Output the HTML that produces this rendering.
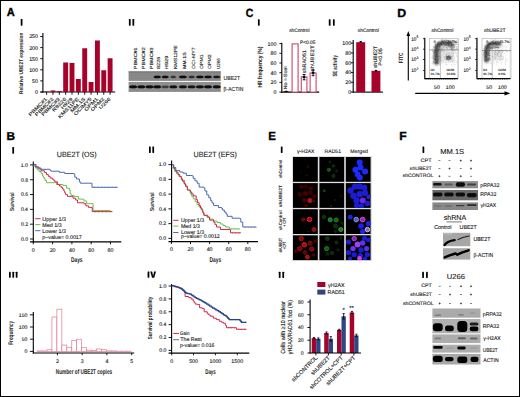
<!DOCTYPE html>
<html><head><meta charset="utf-8"><style>
html,body{margin:0;padding:0;background:#fff;}
svg{display:block;}
text{font-family:"Liberation Sans", sans-serif;text-rendering:geometricPrecision;} text:not([font-weight=bold]){stroke:#222;stroke-width:0.12px;}
</style></head><body>
<svg width="520" height="397" viewBox="0 0 520 397">
<defs><filter id="bl" x="-50%" y="-50%" width="200%" height="200%"><feGaussianBlur stdDeviation="0.6"/></filter><filter id="bl3" x="-50%" y="-50%" width="200%" height="200%"><feGaussianBlur stdDeviation="0.45"/></filter><filter id="bl4" x="-50%" y="-50%" width="200%" height="200%"><feGaussianBlur stdDeviation="0.55"/></filter><filter id="bl5" x="-50%" y="-50%" width="200%" height="200%"><feGaussianBlur stdDeviation="0.9"/></filter><filter id="bl2" x="-50%" y="-50%" width="200%" height="200%"><feGaussianBlur stdDeviation="0.35"/></filter></defs>
<rect x="0.5" y="0.5" width="519" height="396" fill="none" stroke="#000" stroke-width="1"/>
<text x="6.82" y="16.30" font-size="11.59" font-weight="bold" fill="#000" textLength="7.98" lengthAdjust="spacingAndGlyphs" stroke="#000" stroke-width="0.35" >A</text>
<text x="6.43" y="140.00" font-size="11.45" font-weight="bold" fill="#000" textLength="8.52" lengthAdjust="spacingAndGlyphs" stroke="#000" stroke-width="0.35" >B</text>
<text x="245.68" y="16.60" font-size="11.88" font-weight="bold" fill="#000" textLength="7.61" lengthAdjust="spacingAndGlyphs" stroke="#000" stroke-width="0.35" >C</text>
<text x="397.30" y="16.50" font-size="11.74" font-weight="bold" fill="#000" textLength="8.92" lengthAdjust="spacingAndGlyphs" stroke="#000" stroke-width="0.35" >D</text>
<text x="268.35" y="140.00" font-size="11.59" font-weight="bold" fill="#000" textLength="7.67" lengthAdjust="spacingAndGlyphs" stroke="#000" stroke-width="0.35" >E</text>
<text x="399.21" y="139.60" font-size="11.59" font-weight="bold" fill="#000" textLength="7.43" lengthAdjust="spacingAndGlyphs" stroke="#000" stroke-width="0.35" >F</text>
<rect x="20.73" y="19" width="1.75" height="6.8" fill="#000" rx="0.45"/>
<rect x="128.9" y="19.1" width="1.75" height="6.7" fill="#000" rx="0.45"/>
<rect x="132.45" y="19.1" width="1.75" height="6.7" fill="#000" rx="0.45"/>
<rect x="257.92" y="19.3" width="1.75" height="6.4" fill="#000" rx="0.45"/>
<rect x="328.8" y="19.3" width="1.75" height="6.4" fill="#000" rx="0.45"/>
<rect x="332.95" y="19.3" width="1.75" height="6.4" fill="#000" rx="0.45"/>
<rect x="12.32" y="147.1" width="1.75" height="6.7" fill="#000" rx="0.45"/>
<rect x="149.0" y="146.4" width="1.75" height="6.5" fill="#000" rx="0.45"/>
<rect x="152.35" y="146.4" width="1.75" height="6.5" fill="#000" rx="0.45"/>
<rect x="9.0" y="271.7" width="1.75" height="6.0" fill="#000" rx="0.45"/>
<rect x="12.38" y="271.7" width="1.75" height="6.0" fill="#000" rx="0.45"/>
<rect x="15.75" y="271.7" width="1.75" height="6.0" fill="#000" rx="0.45"/>
<rect x="147.6" y="271.4" width="1.75" height="6.300000000000011" fill="#000" rx="0.4"/>
<path d="M150.25,271.4 L152.15,271.4 L153.125,275.9 L154.1,271.4 L156,271.4 L154.225,277.7 L152.025,277.7 Z" fill="#000"/>
<rect x="280.83" y="146.6" width="1.75" height="6.3" fill="#000" rx="0.45"/>
<rect x="278.8" y="271.7" width="1.75" height="6.2" fill="#000" rx="0.45"/>
<rect x="282.35" y="271.7" width="1.75" height="6.2" fill="#000" rx="0.45"/>
<rect x="422.52" y="146.6" width="1.75" height="6.3" fill="#000" rx="0.45"/>
<rect x="422.2" y="271.7" width="1.75" height="6.2" fill="#000" rx="0.45"/>
<rect x="426.05" y="271.7" width="1.75" height="6.2" fill="#000" rx="0.45"/>
<line x1="42.9" y1="33" x2="42.9" y2="92.5" stroke="#000" stroke-width="1.1" />
<line x1="40.6" y1="92" x2="115.2" y2="92" stroke="#000" stroke-width="1.1" />
<line x1="40.2" y1="92.0" x2="42.9" y2="92.0" stroke="#000" stroke-width="0.9" />
<text x="38" y="93.9" font-size="5.3" text-anchor="end" font-weight="normal" fill="#222" >0</text>
<line x1="40.2" y1="80.9" x2="42.9" y2="80.9" stroke="#000" stroke-width="0.9" />
<text x="38" y="82.80000000000001" font-size="5.3" text-anchor="end" font-weight="normal" fill="#222" >50</text>
<line x1="40.2" y1="69.8" x2="42.9" y2="69.8" stroke="#000" stroke-width="0.9" />
<text x="38" y="71.7" font-size="5.3" text-anchor="end" font-weight="normal" fill="#222" >100</text>
<line x1="40.2" y1="58.7" x2="42.9" y2="58.7" stroke="#000" stroke-width="0.9" />
<text x="38" y="60.6" font-size="5.3" text-anchor="end" font-weight="normal" fill="#222" >150</text>
<line x1="40.2" y1="47.6" x2="42.9" y2="47.6" stroke="#000" stroke-width="0.9" />
<text x="38" y="49.5" font-size="5.3" text-anchor="end" font-weight="normal" fill="#222" >200</text>
<line x1="40.2" y1="36.5" x2="42.9" y2="36.5" stroke="#000" stroke-width="0.9" />
<text x="38" y="38.4" font-size="5.3" text-anchor="end" font-weight="normal" fill="#222" >250</text>
<rect x="44.15" y="91.556" width="4.9" height="0.444" fill="#a6032c" />
<line x1="46.6" y1="92" x2="46.6" y2="94.8" stroke="#000" stroke-width="0.9" />
<text x="47.5" y="99.4" font-size="4.7" text-anchor="end" font-weight="normal" fill="#1a1a1a" transform="rotate(-45 47.5 99.4)" textLength="24.01" lengthAdjust="spacingAndGlyphs" stroke="#1a1a1a" stroke-width="0.15">PBMC#1</text>
<rect x="50.5" y="90.446" width="4.9" height="1.554" fill="#a6032c" />
<line x1="52.95" y1="92" x2="52.95" y2="94.8" stroke="#000" stroke-width="0.9" />
<text x="53.85" y="99.4" font-size="4.7" text-anchor="end" font-weight="normal" fill="#1a1a1a" transform="rotate(-45 53.85 99.4)" textLength="24.01" lengthAdjust="spacingAndGlyphs" stroke="#1a1a1a" stroke-width="0.15">PBMC#2</text>
<rect x="56.849999999999994" y="91.112" width="4.9" height="0.888" fill="#a6032c" />
<line x1="59.3" y1="92" x2="59.3" y2="94.8" stroke="#000" stroke-width="0.9" />
<text x="60.199999999999996" y="99.4" font-size="4.7" text-anchor="end" font-weight="normal" fill="#1a1a1a" transform="rotate(-45 60.199999999999996 99.4)" textLength="24.01" lengthAdjust="spacingAndGlyphs" stroke="#1a1a1a" stroke-width="0.15">PBMC#3</text>
<rect x="63.2" y="62.474000000000004" width="4.9" height="29.526" fill="#a6032c" />
<line x1="65.65" y1="92" x2="65.65" y2="94.8" stroke="#000" stroke-width="0.9" />
<text x="66.55000000000001" y="99.4" font-size="4.7" text-anchor="end" font-weight="normal" fill="#1a1a1a" transform="rotate(-45 66.55000000000001 99.4)" textLength="17.68" lengthAdjust="spacingAndGlyphs" stroke="#1a1a1a" stroke-width="0.15">R8226</text>
<rect x="69.55" y="62.918" width="4.9" height="29.082" fill="#a6032c" />
<line x1="72.0" y1="92" x2="72.0" y2="94.8" stroke="#000" stroke-width="0.9" />
<text x="72.9" y="99.4" font-size="4.7" text-anchor="end" font-weight="normal" fill="#1a1a1a" transform="rotate(-45 72.9 99.4)" textLength="14.34" lengthAdjust="spacingAndGlyphs" stroke="#1a1a1a" stroke-width="0.15">H929</text>
<rect x="75.89999999999999" y="78.99080000000001" width="4.9" height="13.0092" fill="#a6032c" />
<line x1="78.35" y1="92" x2="78.35" y2="94.8" stroke="#000" stroke-width="0.9" />
<text x="79.25" y="99.4" font-size="4.7" text-anchor="end" font-weight="normal" fill="#1a1a1a" transform="rotate(-45 79.25 99.4)" textLength="27.24" lengthAdjust="spacingAndGlyphs" stroke="#1a1a1a" stroke-width="0.15">KMS11PE</text>
<rect x="82.24999999999999" y="48.266" width="4.9" height="43.734" fill="#a6032c" />
<line x1="84.69999999999999" y1="92" x2="84.69999999999999" y2="94.8" stroke="#000" stroke-width="0.9" />
<text x="85.6" y="99.4" font-size="4.7" text-anchor="end" font-weight="normal" fill="#1a1a1a" transform="rotate(-45 85.6 99.4)" textLength="19.0" lengthAdjust="spacingAndGlyphs" stroke="#1a1a1a" stroke-width="0.15">MM.1S</text>
<rect x="88.6" y="82.01" width="4.9" height="9.99" fill="#a6032c" />
<line x1="91.05" y1="92" x2="91.05" y2="94.8" stroke="#000" stroke-width="0.9" />
<text x="91.95" y="99.4" font-size="4.7" text-anchor="end" font-weight="normal" fill="#1a1a1a" transform="rotate(-45 91.95 99.4)" textLength="23.0" lengthAdjust="spacingAndGlyphs" stroke="#1a1a1a" stroke-width="0.15">OCIMY5</text>
<rect x="94.95" y="40.496" width="4.9" height="51.504" fill="#a6032c" />
<line x1="97.4" y1="92" x2="97.4" y2="94.8" stroke="#000" stroke-width="0.9" />
<text x="98.30000000000001" y="99.4" font-size="4.7" text-anchor="end" font-weight="normal" fill="#1a1a1a" transform="rotate(-45 98.30000000000001 99.4)" textLength="17.0" lengthAdjust="spacingAndGlyphs" stroke="#1a1a1a" stroke-width="0.15">OPM1</text>
<rect x="101.3" y="70.244" width="4.9" height="21.756" fill="#a6032c" />
<line x1="103.75" y1="92" x2="103.75" y2="94.8" stroke="#000" stroke-width="0.9" />
<text x="104.65" y="99.4" font-size="4.7" text-anchor="end" font-weight="normal" fill="#1a1a1a" transform="rotate(-45 104.65 99.4)" textLength="17.0" lengthAdjust="spacingAndGlyphs" stroke="#1a1a1a" stroke-width="0.15">OPM2</text>
<rect x="107.64999999999999" y="58.256" width="4.9" height="33.744" fill="#a6032c" />
<line x1="110.1" y1="92" x2="110.1" y2="94.8" stroke="#000" stroke-width="0.9" />
<text x="111.0" y="99.4" font-size="4.7" text-anchor="end" font-weight="normal" fill="#1a1a1a" transform="rotate(-45 111.0 99.4)" textLength="14.34" lengthAdjust="spacingAndGlyphs" stroke="#1a1a1a" stroke-width="0.15">U266</text>
<text transform="translate(23.40 93.60) rotate(-90)" x="-0.31" y="0" font-size="5.6" font-weight="bold" fill="#222" textLength="61.19" lengthAdjust="spacingAndGlyphs" >Relative UBE2T expression</text>
<text transform="translate(136.80 68.70) rotate(-90)" x="-0.44" y="0" font-size="4.5" fill="#222" textLength="21.79" lengthAdjust="spacingAndGlyphs" >PBMC#1</text>
<text transform="translate(145.00 68.70) rotate(-90)" x="-0.44" y="0" font-size="4.5" fill="#222" textLength="21.82" lengthAdjust="spacingAndGlyphs" >PBMC#2</text>
<text transform="translate(152.60 68.70) rotate(-90)" x="-0.44" y="0" font-size="4.5" fill="#222" textLength="21.76" lengthAdjust="spacingAndGlyphs" >PBMC#3</text>
<text transform="translate(159.80 68.70) rotate(-90)" x="-0.25" y="0" font-size="4.5" fill="#222" textLength="12.16" lengthAdjust="spacingAndGlyphs" >8226</text>
<text transform="translate(167.80 68.70) rotate(-90)" x="-0.45" y="0" font-size="4.5" fill="#222" textLength="13.40" lengthAdjust="spacingAndGlyphs" >H929</text>
<text transform="translate(177.30 68.70) rotate(-90)" x="-0.42" y="0" font-size="4.5" fill="#222" textLength="23.94" lengthAdjust="spacingAndGlyphs" >KMS12PE</text>
<text transform="translate(186.10 68.70) rotate(-90)" x="-0.43" y="0" font-size="4.5" fill="#222" textLength="17.09" lengthAdjust="spacingAndGlyphs" >MM.1S</text>
<text transform="translate(194.50 68.70) rotate(-90)" x="-0.23" y="0" font-size="4.5" fill="#222" textLength="21.50" lengthAdjust="spacingAndGlyphs" >OCI-MY7</text>
<text transform="translate(202.90 68.70) rotate(-90)" x="-0.23" y="0" font-size="4.5" fill="#222" textLength="14.56" lengthAdjust="spacingAndGlyphs" >OPM1</text>
<text transform="translate(211.40 68.70) rotate(-90)" x="-0.23" y="0" font-size="4.5" fill="#222" textLength="14.58" lengthAdjust="spacingAndGlyphs" >OPM2</text>
<text transform="translate(219.90 68.70) rotate(-90)" x="-0.34" y="0" font-size="4.5" fill="#222" textLength="10.72" lengthAdjust="spacingAndGlyphs" >U266</text>
<rect x="128.6" y="71.5" width="92.2" height="9.4" fill="#888888" />
<rect x="128.6" y="81.9" width="92.2" height="9.7" fill="#8e8e8e" />
<line x1="128.6" y1="71.8" x2="220.8" y2="71.8" stroke="#606060" stroke-width="0.7" />
<line x1="128.6" y1="91.3" x2="220.8" y2="91.3" stroke="#707070" stroke-width="0.6" />
<g filter="url(#bl2)">
<ellipse cx="133.2" cy="86.9" rx="4.0" ry="1.3" fill="#0a0a0a" fill-opacity="1"/>
<rect x="130.40" y="85.7" width="5.6" height="2.4" fill="#0a0a0a" fill-opacity="1"/>
<ellipse cx="141.3" cy="86.9" rx="4.0" ry="1.3" fill="#0a0a0a" fill-opacity="1"/>
<rect x="138.50" y="85.7" width="5.6" height="2.4" fill="#0a0a0a" fill-opacity="1"/>
<ellipse cx="149.5" cy="86.9" rx="4.0" ry="1.3" fill="#0a0a0a" fill-opacity="1"/>
<rect x="146.70" y="85.7" width="5.6" height="2.4" fill="#0a0a0a" fill-opacity="1"/>
<ellipse cx="157.2" cy="76.9" rx="3.60" ry="1.25" fill="#0a0a0a" fill-opacity="1"/>
<rect x="154.80" y="75.8" width="4.80" height="2.2" fill="#0a0a0a" fill-opacity="1"/>
<ellipse cx="157.2" cy="86.9" rx="4.0" ry="1.3" fill="#0a0a0a" fill-opacity="0.95"/>
<rect x="154.40" y="85.7" width="5.6" height="2.4" fill="#0a0a0a" fill-opacity="0.95"/>
<ellipse cx="165.2" cy="76.9" rx="3.50" ry="1.25" fill="#0a0a0a" fill-opacity="0.85"/>
<rect x="162.90" y="75.8" width="4.60" height="2.2" fill="#0a0a0a" fill-opacity="0.85"/>
<ellipse cx="165.2" cy="86.9" rx="4.0" ry="1.3" fill="#0a0a0a" fill-opacity="0.35"/>
<rect x="162.40" y="85.7" width="5.6" height="2.4" fill="#0a0a0a" fill-opacity="0.35"/>
<ellipse cx="173.3" cy="76.9" rx="3.00" ry="1.25" fill="#0a0a0a" fill-opacity="0.45"/>
<rect x="171.50" y="75.8" width="3.60" height="2.2" fill="#0a0a0a" fill-opacity="0.45"/>
<ellipse cx="173.3" cy="86.9" rx="4.0" ry="1.3" fill="#0a0a0a" fill-opacity="0.85"/>
<rect x="170.50" y="85.7" width="5.6" height="2.4" fill="#0a0a0a" fill-opacity="0.85"/>
<ellipse cx="182.9" cy="76.9" rx="4.00" ry="1.25" fill="#0a0a0a" fill-opacity="0.95"/>
<rect x="180.10" y="75.8" width="5.60" height="2.2" fill="#0a0a0a" fill-opacity="0.95"/>
<ellipse cx="182.9" cy="86.9" rx="4.0" ry="1.3" fill="#0a0a0a" fill-opacity="0.9"/>
<rect x="180.10" y="85.7" width="5.6" height="2.4" fill="#0a0a0a" fill-opacity="0.9"/>
<ellipse cx="191.6" cy="76.9" rx="3.20" ry="1.25" fill="#0a0a0a" fill-opacity="0.5"/>
<rect x="189.60" y="75.8" width="4.00" height="2.2" fill="#0a0a0a" fill-opacity="0.5"/>
<ellipse cx="191.6" cy="86.9" rx="4.0" ry="1.3" fill="#0a0a0a" fill-opacity="0.8"/>
<rect x="188.80" y="85.7" width="5.6" height="2.4" fill="#0a0a0a" fill-opacity="0.8"/>
<ellipse cx="199.9" cy="76.9" rx="3.80" ry="1.25" fill="#0a0a0a" fill-opacity="0.95"/>
<rect x="197.30" y="75.8" width="5.20" height="2.2" fill="#0a0a0a" fill-opacity="0.95"/>
<ellipse cx="199.9" cy="86.9" rx="4.0" ry="1.3" fill="#0a0a0a" fill-opacity="0.9"/>
<rect x="197.10" y="85.7" width="5.6" height="2.4" fill="#0a0a0a" fill-opacity="0.9"/>
<ellipse cx="208" cy="76.9" rx="3.80" ry="1.25" fill="#0a0a0a" fill-opacity="0.95"/>
<rect x="205.40" y="75.8" width="5.20" height="2.2" fill="#0a0a0a" fill-opacity="0.95"/>
<ellipse cx="208" cy="86.9" rx="4.0" ry="1.3" fill="#0a0a0a" fill-opacity="1"/>
<rect x="205.20" y="85.7" width="5.6" height="2.4" fill="#0a0a0a" fill-opacity="1"/>
<ellipse cx="216.7" cy="76.9" rx="3.70" ry="1.25" fill="#0a0a0a" fill-opacity="0.7"/>
<rect x="214.20" y="75.8" width="5.00" height="2.2" fill="#0a0a0a" fill-opacity="0.7"/>
<ellipse cx="216.7" cy="86.9" rx="4.0" ry="1.3" fill="#0a0a0a" fill-opacity="1"/>
<rect x="213.90" y="85.7" width="5.6" height="2.4" fill="#0a0a0a" fill-opacity="1"/>
</g>
<text x="223.51" y="79.80" font-size="5.8" fill="#222" textLength="16.61" lengthAdjust="spacingAndGlyphs" >UBE2T</text>
<text x="223.55" y="91.20" font-size="5.8" fill="#222" textLength="19.78" lengthAdjust="spacingAndGlyphs" >β-ACTIN</text>
<text x="299.4" y="32.2" font-size="5" text-anchor="middle" font-weight="normal" fill="#222" textLength="20.3" lengthAdjust="spacingAndGlyphs" >shControl</text>
<line x1="281.8" y1="42.8" x2="281.8" y2="92.6" stroke="#000" stroke-width="1.1" />
<line x1="281.3" y1="92.1" x2="319.2" y2="92.1" stroke="#000" stroke-width="1.1" />
<line x1="279.40000000000003" y1="92.1" x2="281.8" y2="92.1" stroke="#000" stroke-width="0.9" />
<text x="276.4" y="94.0" font-size="5.3" text-anchor="end" font-weight="normal" fill="#222" >0</text>
<line x1="279.40000000000003" y1="82.39999999999999" x2="281.8" y2="82.39999999999999" stroke="#000" stroke-width="0.9" />
<text x="276.4" y="84.3" font-size="5.3" text-anchor="end" font-weight="normal" fill="#222" >20</text>
<line x1="279.40000000000003" y1="72.69999999999999" x2="281.8" y2="72.69999999999999" stroke="#000" stroke-width="0.9" />
<text x="276.4" y="74.6" font-size="5.3" text-anchor="end" font-weight="normal" fill="#222" >40</text>
<line x1="279.40000000000003" y1="63.0" x2="281.8" y2="63.0" stroke="#000" stroke-width="0.9" />
<text x="276.4" y="64.9" font-size="5.3" text-anchor="end" font-weight="normal" fill="#222" >60</text>
<line x1="279.40000000000003" y1="53.3" x2="281.8" y2="53.3" stroke="#000" stroke-width="0.9" />
<text x="276.4" y="55.199999999999996" font-size="5.3" text-anchor="end" font-weight="normal" fill="#222" >80</text>
<line x1="279.40000000000003" y1="43.599999999999994" x2="281.8" y2="43.599999999999994" stroke="#000" stroke-width="0.9" />
<text x="276.4" y="45.49999999999999" font-size="5.3" text-anchor="end" font-weight="normal" fill="#222" >100</text>
<path d="M283.5,92.1 Q286,88.8 289,92.1 Z" fill="#300"/>
<rect x="292.1" y="43.89999999999999" width="6.0" height="48.2" fill="#fff" stroke="#c8486a" stroke-width="1.1"/>
<rect x="301.3" y="76.88" width="5.599999999999966" height="15.219999999999999" fill="#fff" stroke="#c8486a" stroke-width="1.1"/>
<line x1="304.1" y1="74.5" x2="304.1" y2="79.8" stroke="#000" stroke-width="0.9" />
<line x1="302.70000000000005" y1="74.5" x2="305.5" y2="74.5" stroke="#000" stroke-width="0.9" />
<line x1="302.70000000000005" y1="79.8" x2="305.5" y2="79.8" stroke="#000" stroke-width="0.9" />
<rect x="302.8" y="76.25" width="2.6" height="1.8" fill="#000" />
<rect x="310.1" y="72.99999999999999" width="6.0" height="19.099999999999998" fill="#fff" stroke="#c8486a" stroke-width="1.1"/>
<line x1="313.1" y1="70" x2="313.1" y2="75.7" stroke="#000" stroke-width="0.9" />
<line x1="311.70000000000005" y1="70" x2="314.5" y2="70" stroke="#000" stroke-width="0.9" />
<line x1="311.70000000000005" y1="75.7" x2="314.5" y2="75.7" stroke="#000" stroke-width="0.9" />
<rect x="311.8" y="71.94999999999999" width="2.6" height="1.8" fill="#000" />
<text transform="translate(286.80 89.00) rotate(-90)" x="-0.45" y="0" font-size="4.7" fill="#222" textLength="23.37" lengthAdjust="spacingAndGlyphs" >No I-SceI</text>
<text transform="translate(305.80 73.10) rotate(-90)" x="-0.16" y="0" font-size="5.1" fill="#222" textLength="23.31" lengthAdjust="spacingAndGlyphs" >shRAD51</text>
<text transform="translate(314.20 71.30) rotate(-90)" x="-0.18" y="0" font-size="5.1" fill="#222" textLength="26.10" lengthAdjust="spacingAndGlyphs" >shUBE2T</text>
<text x="300.01" y="44.20" font-size="5.1" fill="#222" textLength="15.49" lengthAdjust="spacingAndGlyphs" >P&lt;0.05</text>
<text transform="translate(262.40 87.30) rotate(-90)" x="-0.32" y="0" font-size="6.2" font-weight="bold" fill="#222" textLength="41.07" lengthAdjust="spacingAndGlyphs" >HR frequency (%)</text>
<text x="368.3" y="32.1" font-size="5" text-anchor="middle" font-weight="normal" fill="#222" textLength="21" lengthAdjust="spacingAndGlyphs" >shControl</text>
<line x1="353.2" y1="40.1" x2="353.2" y2="92.6" stroke="#000" stroke-width="1.1" />
<line x1="352.7" y1="92.1" x2="383" y2="92.1" stroke="#000" stroke-width="1.1" />
<line x1="350.8" y1="92.1" x2="353.2" y2="92.1" stroke="#000" stroke-width="0.9" />
<text x="351.2" y="94.0" font-size="5.3" text-anchor="end" font-weight="normal" fill="#222" >0</text>
<line x1="350.8" y1="82.32" x2="353.2" y2="82.32" stroke="#000" stroke-width="0.9" />
<text x="351.2" y="84.22" font-size="5.3" text-anchor="end" font-weight="normal" fill="#222" >20</text>
<line x1="350.8" y1="72.53999999999999" x2="353.2" y2="72.53999999999999" stroke="#000" stroke-width="0.9" />
<text x="351.2" y="74.44" font-size="5.3" text-anchor="end" font-weight="normal" fill="#222" >40</text>
<line x1="350.8" y1="62.75999999999999" x2="353.2" y2="62.75999999999999" stroke="#000" stroke-width="0.9" />
<text x="351.2" y="64.66" font-size="5.3" text-anchor="end" font-weight="normal" fill="#222" >60</text>
<line x1="350.8" y1="52.98" x2="353.2" y2="52.98" stroke="#000" stroke-width="0.9" />
<text x="351.2" y="54.879999999999995" font-size="5.3" text-anchor="end" font-weight="normal" fill="#222" >80</text>
<line x1="350.8" y1="43.199999999999996" x2="353.2" y2="43.199999999999996" stroke="#000" stroke-width="0.9" />
<text x="351.2" y="45.099999999999994" font-size="5.3" text-anchor="end" font-weight="normal" fill="#222" >100</text>
<rect x="356.2" y="42.2" width="9" height="49.89999999999999" fill="#a6032c" />
<rect x="371.5" y="70.8" width="8.9" height="21.299999999999997" fill="#a6032c" />
<rect x="359.6" y="41.0" width="2.2" height="1.6" fill="#000" />
<rect x="374.9" y="69.9" width="2.2" height="1.6" fill="#000" />
<text transform="translate(377.30 67.90) rotate(-90)" x="-0.16" y="0" font-size="5.1" fill="#222" textLength="22.26" lengthAdjust="spacingAndGlyphs" >shUBE2T</text>
<text transform="translate(382.30 65.20) rotate(-90)" x="-0.44" y="0" font-size="5.1" fill="#222" textLength="17.47" lengthAdjust="spacingAndGlyphs" >P&lt;0.05</text>
<text transform="translate(336.60 76.40) rotate(-90)" x="-0.13" y="0" font-size="6.2" font-weight="bold" fill="#222" textLength="21.36" lengthAdjust="spacingAndGlyphs" >SE activity</text>
<text x="442.4" y="32.3" font-size="5" text-anchor="middle" font-weight="normal" fill="#222" textLength="21.8" lengthAdjust="spacingAndGlyphs" >shControl</text>
<rect x="429.5" y="38.3" width="29.0" height="40.3" fill="none" stroke="#aaa" stroke-width="0.6"/>
<g filter="url(#bl5)">
<path d="M436.6,63 C436.2,55 436.2,48 438.6,45.2 C441.2,42.8 447,42.6 452.5,45" stroke="#7a7a7a" stroke-width="4.6" fill="none" stroke-linecap="round"/>
<path d="M435.6,60 C435.2,53 435.2,46.5 437.6,43.8 C440.5,41.7 446,41.6 451,43" stroke="#5a5a5a" stroke-width="2.2" fill="none" stroke-linecap="round"/>
<ellipse cx="448.2" cy="57.4" rx="2.8" ry="2.0" fill="#8a8a8a"/>
<rect x="442" y="50" width="12" height="12" fill="#e6e6e6"/>
</g>
<g filter="url(#bl3)">
<g fill="#444" fill-opacity="0.25"><rect x="437.8" y="61.8" width="0.55" height="0.55"/><rect x="451.6" y="49.4" width="0.55" height="0.55"/><rect x="445.7" y="53.4" width="0.55" height="0.55"/><rect x="449.1" y="60.6" width="0.55" height="0.55"/><rect x="436.9" y="44.6" width="0.55" height="0.55"/><rect x="453.2" y="53.1" width="0.55" height="0.55"/><rect x="451.6" y="44.0" width="0.55" height="0.55"/><rect x="444.6" y="59.2" width="0.55" height="0.55"/><rect x="439.8" y="63.9" width="0.55" height="0.55"/><rect x="454.6" y="44.6" width="0.55" height="0.55"/><rect x="435.4" y="55.4" width="0.55" height="0.55"/><rect x="455.5" y="52.0" width="0.55" height="0.55"/><rect x="439.6" y="52.9" width="0.55" height="0.55"/><rect x="435.4" y="48.7" width="0.55" height="0.55"/><rect x="444.4" y="54.4" width="0.55" height="0.55"/><rect x="439.9" y="48.8" width="0.55" height="0.55"/><rect x="439.6" y="53.7" width="0.55" height="0.55"/><rect x="441.2" y="44.5" width="0.55" height="0.55"/><rect x="453.2" y="55.7" width="0.55" height="0.55"/><rect x="448.9" y="47.9" width="0.55" height="0.55"/><rect x="456.6" y="62.1" width="0.55" height="0.55"/><rect x="437.5" y="51.0" width="0.55" height="0.55"/><rect x="450.7" y="58.9" width="0.55" height="0.55"/><rect x="455.4" y="52.9" width="0.55" height="0.55"/><rect x="453.1" y="58.1" width="0.55" height="0.55"/><rect x="441.5" y="56.3" width="0.55" height="0.55"/><rect x="454.2" y="61.8" width="0.55" height="0.55"/><rect x="445.9" y="56.4" width="0.55" height="0.55"/><rect x="435.6" y="49.1" width="0.55" height="0.55"/><rect x="452.3" y="52.7" width="0.55" height="0.55"/><rect x="438.6" y="55.5" width="0.55" height="0.55"/><rect x="450.3" y="58.2" width="0.55" height="0.55"/><rect x="443.0" y="53.2" width="0.55" height="0.55"/><rect x="446.0" y="60.3" width="0.55" height="0.55"/><rect x="446.3" y="52.3" width="0.55" height="0.55"/><rect x="445.6" y="44.6" width="0.55" height="0.55"/><rect x="435.8" y="58.8" width="0.55" height="0.55"/><rect x="456.4" y="56.5" width="0.55" height="0.55"/><rect x="443.5" y="47.6" width="0.55" height="0.55"/><rect x="445.8" y="64.6" width="0.55" height="0.55"/><rect x="451.8" y="55.3" width="0.55" height="0.55"/><rect x="453.7" y="48.9" width="0.55" height="0.55"/><rect x="446.1" y="64.0" width="0.55" height="0.55"/><rect x="447.5" y="53.6" width="0.55" height="0.55"/><rect x="440.7" y="55.5" width="0.55" height="0.55"/><rect x="455.9" y="44.1" width="0.55" height="0.55"/><rect x="452.0" y="61.2" width="0.55" height="0.55"/><rect x="454.3" y="59.6" width="0.55" height="0.55"/><rect x="452.6" y="54.9" width="0.55" height="0.55"/><rect x="447.1" y="52.9" width="0.55" height="0.55"/><rect x="436.0" y="62.3" width="0.55" height="0.55"/><rect x="447.3" y="48.2" width="0.55" height="0.55"/><rect x="445.9" y="54.2" width="0.55" height="0.55"/><rect x="442.6" y="51.3" width="0.55" height="0.55"/><rect x="446.6" y="57.1" width="0.55" height="0.55"/><rect x="448.3" y="53.6" width="0.55" height="0.55"/><rect x="435.4" y="48.8" width="0.55" height="0.55"/><rect x="438.7" y="56.3" width="0.55" height="0.55"/><rect x="453.7" y="60.8" width="0.55" height="0.55"/><rect x="452.3" y="61.1" width="0.55" height="0.55"/><rect x="440.4" y="61.7" width="0.55" height="0.55"/><rect x="449.6" y="45.7" width="0.55" height="0.55"/><rect x="435.2" y="44.3" width="0.55" height="0.55"/><rect x="451.4" y="49.2" width="0.55" height="0.55"/><rect x="437.2" y="57.1" width="0.55" height="0.55"/><rect x="442.4" y="45.5" width="0.55" height="0.55"/><rect x="438.3" y="55.1" width="0.55" height="0.55"/><rect x="438.5" y="49.7" width="0.55" height="0.55"/><rect x="450.5" y="53.5" width="0.55" height="0.55"/><rect x="441.9" y="53.9" width="0.55" height="0.55"/><rect x="435.3" y="52.1" width="0.55" height="0.55"/><rect x="444.1" y="47.9" width="0.55" height="0.55"/><rect x="437.2" y="62.9" width="0.55" height="0.55"/><rect x="446.0" y="48.4" width="0.55" height="0.55"/><rect x="448.1" y="61.2" width="0.55" height="0.55"/><rect x="435.3" y="44.4" width="0.55" height="0.55"/><rect x="438.0" y="59.1" width="0.55" height="0.55"/><rect x="438.3" y="58.8" width="0.55" height="0.55"/><rect x="449.7" y="55.4" width="0.55" height="0.55"/><rect x="439.7" y="64.5" width="0.55" height="0.55"/><rect x="452.4" y="54.8" width="0.55" height="0.55"/><rect x="439.7" y="57.6" width="0.55" height="0.55"/><rect x="443.5" y="56.1" width="0.55" height="0.55"/><rect x="441.9" y="57.2" width="0.55" height="0.55"/><rect x="436.1" y="50.3" width="0.55" height="0.55"/><rect x="456.1" y="62.4" width="0.55" height="0.55"/><rect x="441.5" y="62.0" width="0.55" height="0.55"/><rect x="441.6" y="63.7" width="0.55" height="0.55"/><rect x="451.2" y="52.7" width="0.55" height="0.55"/><rect x="440.4" y="44.2" width="0.55" height="0.55"/><rect x="454.1" y="44.8" width="0.55" height="0.55"/><rect x="452.8" y="64.2" width="0.55" height="0.55"/><rect x="447.3" y="47.6" width="0.55" height="0.55"/><rect x="453.9" y="64.4" width="0.55" height="0.55"/><rect x="450.3" y="54.7" width="0.55" height="0.55"/><rect x="443.1" y="51.3" width="0.55" height="0.55"/><rect x="439.3" y="58.2" width="0.55" height="0.55"/><rect x="444.3" y="48.1" width="0.55" height="0.55"/><rect x="437.1" y="58.0" width="0.55" height="0.55"/><rect x="441.3" y="54.5" width="0.55" height="0.55"/><rect x="442.0" y="62.3" width="0.55" height="0.55"/><rect x="454.6" y="44.4" width="0.55" height="0.55"/><rect x="439.2" y="50.9" width="0.55" height="0.55"/><rect x="456.5" y="60.4" width="0.55" height="0.55"/><rect x="442.3" y="48.5" width="0.55" height="0.55"/><rect x="449.6" y="61.6" width="0.55" height="0.55"/><rect x="455.3" y="51.2" width="0.55" height="0.55"/><rect x="454.2" y="58.4" width="0.55" height="0.55"/><rect x="445.5" y="64.7" width="0.55" height="0.55"/><rect x="440.0" y="59.2" width="0.55" height="0.55"/><rect x="436.7" y="47.6" width="0.55" height="0.55"/><rect x="454.8" y="48.5" width="0.55" height="0.55"/><rect x="451.5" y="56.6" width="0.55" height="0.55"/><rect x="453.3" y="51.7" width="0.55" height="0.55"/><rect x="442.3" y="50.1" width="0.55" height="0.55"/><rect x="453.9" y="56.7" width="0.55" height="0.55"/><rect x="455.8" y="62.6" width="0.55" height="0.55"/><rect x="437.8" y="55.6" width="0.55" height="0.55"/><rect x="437.1" y="44.8" width="0.55" height="0.55"/><rect x="436.4" y="62.2" width="0.55" height="0.55"/><rect x="452.1" y="61.4" width="0.55" height="0.55"/><rect x="442.3" y="56.9" width="0.55" height="0.55"/><rect x="452.0" y="51.9" width="0.55" height="0.55"/><rect x="447.4" y="48.7" width="0.55" height="0.55"/><rect x="436.6" y="49.6" width="0.55" height="0.55"/><rect x="454.4" y="55.9" width="0.55" height="0.55"/><rect x="455.2" y="53.6" width="0.55" height="0.55"/><rect x="440.9" y="60.5" width="0.55" height="0.55"/><rect x="453.0" y="44.3" width="0.55" height="0.55"/><rect x="449.5" y="45.9" width="0.55" height="0.55"/><rect x="437.3" y="62.6" width="0.55" height="0.55"/><rect x="435.7" y="49.0" width="0.55" height="0.55"/><rect x="456.5" y="52.8" width="0.55" height="0.55"/><rect x="437.3" y="47.5" width="0.55" height="0.55"/><rect x="440.1" y="59.6" width="0.55" height="0.55"/><rect x="437.1" y="63.1" width="0.55" height="0.55"/><rect x="443.1" y="64.4" width="0.55" height="0.55"/><rect x="454.8" y="50.2" width="0.55" height="0.55"/><rect x="440.4" y="54.0" width="0.55" height="0.55"/><rect x="437.0" y="57.7" width="0.55" height="0.55"/><rect x="435.7" y="44.2" width="0.55" height="0.55"/><rect x="456.4" y="50.2" width="0.55" height="0.55"/><rect x="447.9" y="53.4" width="0.55" height="0.55"/><rect x="441.7" y="45.3" width="0.55" height="0.55"/><rect x="454.9" y="64.4" width="0.55" height="0.55"/><rect x="456.1" y="46.3" width="0.55" height="0.55"/><rect x="439.5" y="57.0" width="0.55" height="0.55"/><rect x="456.4" y="55.4" width="0.55" height="0.55"/><rect x="449.9" y="57.9" width="0.55" height="0.55"/><rect x="440.5" y="55.4" width="0.55" height="0.55"/><rect x="441.6" y="49.2" width="0.55" height="0.55"/><rect x="436.6" y="49.9" width="0.55" height="0.55"/><rect x="456.4" y="53.4" width="0.55" height="0.55"/><rect x="449.1" y="57.5" width="0.55" height="0.55"/><rect x="455.5" y="52.2" width="0.55" height="0.55"/><rect x="441.5" y="50.9" width="0.55" height="0.55"/><rect x="441.8" y="61.8" width="0.55" height="0.55"/><rect x="454.5" y="50.4" width="0.55" height="0.55"/><rect x="442.2" y="55.4" width="0.55" height="0.55"/><rect x="447.5" y="56.5" width="0.55" height="0.55"/><rect x="440.2" y="44.4" width="0.55" height="0.55"/><rect x="440.2" y="45.5" width="0.55" height="0.55"/><rect x="446.9" y="45.5" width="0.55" height="0.55"/><rect x="436.5" y="57.3" width="0.55" height="0.55"/><rect x="441.2" y="60.6" width="0.55" height="0.55"/><rect x="445.7" y="62.1" width="0.55" height="0.55"/><rect x="438.2" y="54.5" width="0.55" height="0.55"/><rect x="452.3" y="45.6" width="0.55" height="0.55"/><rect x="455.7" y="47.6" width="0.55" height="0.55"/><rect x="451.9" y="64.7" width="0.55" height="0.55"/><rect x="452.9" y="50.7" width="0.55" height="0.55"/><rect x="437.2" y="54.8" width="0.55" height="0.55"/><rect x="455.0" y="50.2" width="0.55" height="0.55"/><rect x="454.5" y="47.0" width="0.55" height="0.55"/><rect x="454.8" y="44.7" width="0.55" height="0.55"/><rect x="441.8" y="63.0" width="0.55" height="0.55"/><rect x="452.5" y="63.1" width="0.55" height="0.55"/><rect x="453.3" y="59.7" width="0.55" height="0.55"/><rect x="450.0" y="47.7" width="0.55" height="0.55"/><rect x="444.3" y="47.3" width="0.55" height="0.55"/><rect x="450.5" y="58.0" width="0.55" height="0.55"/><rect x="440.4" y="45.4" width="0.55" height="0.55"/><rect x="456.0" y="61.0" width="0.55" height="0.55"/><rect x="446.9" y="55.4" width="0.55" height="0.55"/><rect x="453.5" y="53.5" width="0.55" height="0.55"/><rect x="443.5" y="51.1" width="0.55" height="0.55"/><rect x="440.5" y="44.5" width="0.55" height="0.55"/><rect x="449.0" y="52.8" width="0.55" height="0.55"/><rect x="447.4" y="45.3" width="0.55" height="0.55"/><rect x="442.6" y="46.9" width="0.55" height="0.55"/><rect x="437.6" y="49.4" width="0.55" height="0.55"/><rect x="453.0" y="52.4" width="0.55" height="0.55"/><rect x="443.6" y="56.9" width="0.55" height="0.55"/><rect x="439.9" y="44.2" width="0.55" height="0.55"/><rect x="446.4" y="54.5" width="0.55" height="0.55"/><rect x="449.1" y="53.2" width="0.55" height="0.55"/><rect x="449.9" y="59.4" width="0.55" height="0.55"/><rect x="440.0" y="54.4" width="0.55" height="0.55"/><rect x="445.3" y="48.7" width="0.55" height="0.55"/><rect x="443.9" y="55.8" width="0.55" height="0.55"/><rect x="454.8" y="63.3" width="0.55" height="0.55"/><rect x="440.9" y="57.6" width="0.55" height="0.55"/><rect x="435.9" y="45.5" width="0.55" height="0.55"/><rect x="446.1" y="62.4" width="0.55" height="0.55"/><rect x="438.3" y="60.1" width="0.55" height="0.55"/><rect x="454.2" y="50.5" width="0.55" height="0.55"/><rect x="450.0" y="61.8" width="0.55" height="0.55"/><rect x="443.0" y="58.7" width="0.55" height="0.55"/><rect x="451.0" y="56.5" width="0.55" height="0.55"/><rect x="453.6" y="62.8" width="0.55" height="0.55"/><rect x="455.9" y="56.0" width="0.55" height="0.55"/><rect x="438.7" y="49.3" width="0.55" height="0.55"/><rect x="439.6" y="56.0" width="0.55" height="0.55"/><rect x="451.5" y="45.1" width="0.55" height="0.55"/><rect x="449.8" y="59.1" width="0.55" height="0.55"/><rect x="442.5" y="54.8" width="0.55" height="0.55"/><rect x="438.4" y="59.3" width="0.55" height="0.55"/><rect x="435.7" y="64.6" width="0.55" height="0.55"/><rect x="452.6" y="57.2" width="0.55" height="0.55"/><rect x="440.7" y="63.2" width="0.55" height="0.55"/><rect x="455.9" y="46.9" width="0.55" height="0.55"/><rect x="451.9" y="61.7" width="0.55" height="0.55"/><rect x="449.3" y="58.7" width="0.55" height="0.55"/><rect x="444.6" y="63.4" width="0.55" height="0.55"/><rect x="456.2" y="52.0" width="0.55" height="0.55"/><rect x="452.5" y="53.1" width="0.55" height="0.55"/><rect x="438.4" y="50.8" width="0.55" height="0.55"/><rect x="437.6" y="63.1" width="0.55" height="0.55"/><rect x="455.9" y="46.5" width="0.55" height="0.55"/><rect x="448.0" y="52.6" width="0.55" height="0.55"/><rect x="437.4" y="50.2" width="0.55" height="0.55"/><rect x="440.3" y="59.7" width="0.55" height="0.55"/><rect x="434.9" y="48.0" width="0.55" height="0.55"/><rect x="444.5" y="44.4" width="0.55" height="0.55"/><rect x="448.6" y="56.7" width="0.55" height="0.55"/><rect x="453.2" y="48.3" width="0.55" height="0.55"/><rect x="441.1" y="55.4" width="0.55" height="0.55"/><rect x="440.8" y="56.3" width="0.55" height="0.55"/><rect x="440.3" y="58.4" width="0.55" height="0.55"/><rect x="452.2" y="61.0" width="0.55" height="0.55"/><rect x="456.2" y="55.5" width="0.55" height="0.55"/><rect x="445.6" y="62.0" width="0.55" height="0.55"/><rect x="451.7" y="56.0" width="0.55" height="0.55"/><rect x="443.2" y="50.0" width="0.55" height="0.55"/><rect x="437.2" y="61.0" width="0.55" height="0.55"/><rect x="437.4" y="59.7" width="0.55" height="0.55"/><rect x="446.8" y="64.3" width="0.55" height="0.55"/><rect x="451.5" y="64.4" width="0.55" height="0.55"/><rect x="437.8" y="54.5" width="0.55" height="0.55"/><rect x="447.4" y="50.5" width="0.55" height="0.55"/><rect x="445.9" y="51.5" width="0.55" height="0.55"/><rect x="446.4" y="44.0" width="0.55" height="0.55"/><rect x="444.5" y="53.4" width="0.55" height="0.55"/><rect x="441.5" y="52.4" width="0.55" height="0.55"/><rect x="452.0" y="58.4" width="0.55" height="0.55"/><rect x="445.6" y="57.6" width="0.55" height="0.55"/><rect x="443.1" y="48.3" width="0.55" height="0.55"/><rect x="434.9" y="49.8" width="0.55" height="0.55"/><rect x="448.0" y="62.5" width="0.55" height="0.55"/><rect x="453.0" y="54.7" width="0.55" height="0.55"/><rect x="456.5" y="53.7" width="0.55" height="0.55"/><rect x="453.2" y="52.6" width="0.55" height="0.55"/><rect x="451.2" y="64.7" width="0.55" height="0.55"/><rect x="441.5" y="47.6" width="0.55" height="0.55"/><rect x="448.4" y="55.2" width="0.55" height="0.55"/><rect x="442.7" y="44.1" width="0.55" height="0.55"/><rect x="443.4" y="52.9" width="0.55" height="0.55"/><rect x="443.7" y="62.1" width="0.55" height="0.55"/><rect x="447.7" y="59.4" width="0.55" height="0.55"/><rect x="454.6" y="59.7" width="0.55" height="0.55"/><rect x="445.6" y="59.7" width="0.55" height="0.55"/><rect x="448.9" y="57.6" width="0.55" height="0.55"/><rect x="448.7" y="52.5" width="0.55" height="0.55"/><rect x="448.6" y="57.3" width="0.55" height="0.55"/><rect x="455.4" y="60.4" width="0.55" height="0.55"/><rect x="453.4" y="60.1" width="0.55" height="0.55"/><rect x="452.7" y="56.7" width="0.55" height="0.55"/><rect x="442.5" y="49.6" width="0.55" height="0.55"/><rect x="450.4" y="62.4" width="0.55" height="0.55"/><rect x="446.8" y="47.2" width="0.55" height="0.55"/><rect x="453.1" y="54.2" width="0.55" height="0.55"/><rect x="445.1" y="45.0" width="0.55" height="0.55"/><rect x="446.0" y="59.6" width="0.55" height="0.55"/><rect x="444.1" y="51.5" width="0.55" height="0.55"/><rect x="449.3" y="44.4" width="0.55" height="0.55"/><rect x="446.0" y="63.9" width="0.55" height="0.55"/><rect x="450.0" y="52.4" width="0.55" height="0.55"/><rect x="450.0" y="56.7" width="0.55" height="0.55"/><rect x="439.4" y="48.4" width="0.55" height="0.55"/><rect x="454.3" y="49.7" width="0.55" height="0.55"/><rect x="436.4" y="61.4" width="0.55" height="0.55"/><rect x="446.3" y="51.7" width="0.55" height="0.55"/><rect x="446.1" y="59.5" width="0.55" height="0.55"/><rect x="438.5" y="57.7" width="0.55" height="0.55"/><rect x="450.5" y="61.1" width="0.55" height="0.55"/><rect x="440.7" y="56.8" width="0.55" height="0.55"/><rect x="439.9" y="55.8" width="0.55" height="0.55"/><rect x="438.6" y="60.6" width="0.55" height="0.55"/><rect x="453.9" y="50.9" width="0.55" height="0.55"/><rect x="439.7" y="64.2" width="0.55" height="0.55"/></g>
<g fill="#444" fill-opacity="0.25"><rect x="456.5" y="48.6" width="0.55" height="0.55"/><rect x="451.0" y="49.1" width="0.55" height="0.55"/><rect x="455.8" y="43.8" width="0.55" height="0.55"/><rect x="454.3" y="47.9" width="0.55" height="0.55"/><rect x="457.1" y="42.7" width="0.55" height="0.55"/><rect x="455.8" y="42.5" width="0.55" height="0.55"/><rect x="455.7" y="43.4" width="0.55" height="0.55"/><rect x="455.0" y="42.2" width="0.55" height="0.55"/><rect x="451.9" y="47.4" width="0.55" height="0.55"/><rect x="453.7" y="47.8" width="0.55" height="0.55"/><rect x="452.7" y="47.5" width="0.55" height="0.55"/><rect x="456.5" y="43.7" width="0.55" height="0.55"/><rect x="451.7" y="44.6" width="0.55" height="0.55"/><rect x="454.7" y="41.9" width="0.55" height="0.55"/><rect x="452.3" y="41.5" width="0.55" height="0.55"/><rect x="455.6" y="49.0" width="0.55" height="0.55"/><rect x="452.5" y="41.3" width="0.55" height="0.55"/><rect x="456.4" y="48.3" width="0.55" height="0.55"/><rect x="453.5" y="48.5" width="0.55" height="0.55"/><rect x="451.7" y="47.2" width="0.55" height="0.55"/><rect x="451.6" y="44.6" width="0.55" height="0.55"/><rect x="454.8" y="44.4" width="0.55" height="0.55"/><rect x="452.1" y="43.1" width="0.55" height="0.55"/><rect x="457.4" y="45.2" width="0.55" height="0.55"/><rect x="455.4" y="42.9" width="0.55" height="0.55"/><rect x="456.5" y="44.0" width="0.55" height="0.55"/><rect x="455.5" y="49.2" width="0.55" height="0.55"/><rect x="457.2" y="48.7" width="0.55" height="0.55"/><rect x="453.4" y="44.4" width="0.55" height="0.55"/><rect x="455.4" y="49.3" width="0.55" height="0.55"/><rect x="454.0" y="48.9" width="0.55" height="0.55"/><rect x="456.9" y="42.4" width="0.55" height="0.55"/><rect x="452.0" y="47.0" width="0.55" height="0.55"/><rect x="451.3" y="44.4" width="0.55" height="0.55"/><rect x="451.8" y="45.2" width="0.55" height="0.55"/><rect x="457.5" y="49.2" width="0.55" height="0.55"/><rect x="451.1" y="41.5" width="0.55" height="0.55"/><rect x="457.5" y="41.4" width="0.55" height="0.55"/><rect x="453.0" y="42.1" width="0.55" height="0.55"/><rect x="451.5" y="41.2" width="0.55" height="0.55"/><rect x="455.9" y="47.7" width="0.55" height="0.55"/><rect x="456.3" y="48.6" width="0.55" height="0.55"/><rect x="456.1" y="44.5" width="0.55" height="0.55"/><rect x="455.8" y="49.7" width="0.55" height="0.55"/><rect x="455.9" y="43.2" width="0.55" height="0.55"/><rect x="451.3" y="49.4" width="0.55" height="0.55"/><rect x="455.5" y="44.1" width="0.55" height="0.55"/><rect x="455.6" y="46.0" width="0.55" height="0.55"/><rect x="455.0" y="41.5" width="0.55" height="0.55"/><rect x="453.6" y="44.7" width="0.55" height="0.55"/><rect x="452.4" y="48.9" width="0.55" height="0.55"/><rect x="454.2" y="47.0" width="0.55" height="0.55"/><rect x="456.5" y="47.7" width="0.55" height="0.55"/><rect x="456.6" y="47.8" width="0.55" height="0.55"/><rect x="452.8" y="49.8" width="0.55" height="0.55"/><rect x="452.0" y="49.3" width="0.55" height="0.55"/><rect x="457.6" y="48.7" width="0.55" height="0.55"/><rect x="451.2" y="41.8" width="0.55" height="0.55"/><rect x="457.3" y="45.2" width="0.55" height="0.55"/><rect x="453.8" y="49.9" width="0.55" height="0.55"/><rect x="451.1" y="45.8" width="0.55" height="0.55"/><rect x="454.3" y="42.2" width="0.55" height="0.55"/><rect x="454.0" y="47.4" width="0.55" height="0.55"/><rect x="457.9" y="41.2" width="0.55" height="0.55"/><rect x="455.0" y="41.8" width="0.55" height="0.55"/><rect x="457.2" y="41.8" width="0.55" height="0.55"/><rect x="451.1" y="44.5" width="0.55" height="0.55"/><rect x="456.7" y="43.8" width="0.55" height="0.55"/><rect x="451.8" y="48.2" width="0.55" height="0.55"/><rect x="457.3" y="48.7" width="0.55" height="0.55"/><rect x="453.2" y="44.8" width="0.55" height="0.55"/><rect x="452.8" y="46.0" width="0.55" height="0.55"/><rect x="453.4" y="44.0" width="0.55" height="0.55"/><rect x="457.1" y="49.6" width="0.55" height="0.55"/><rect x="455.5" y="41.9" width="0.55" height="0.55"/></g>
<g fill="#333" fill-opacity="0.28"><rect x="441.7" y="39.2" width="0.6" height="0.6"/><rect x="447.2" y="42.0" width="0.6" height="0.6"/><rect x="436.8" y="60.2" width="0.6" height="0.6"/><rect x="436.3" y="61.8" width="0.6" height="0.6"/><rect x="436.7" y="51.4" width="0.6" height="0.6"/><rect x="436.0" y="45.8" width="0.6" height="0.6"/><rect x="435.5" y="52.1" width="0.6" height="0.6"/><rect x="439.2" y="48.3" width="0.6" height="0.6"/><rect x="450.8" y="42.6" width="0.6" height="0.6"/><rect x="433.4" y="59.3" width="0.6" height="0.6"/><rect x="442.5" y="41.9" width="0.6" height="0.6"/><rect x="451.0" y="41.9" width="0.6" height="0.6"/><rect x="438.3" y="45.4" width="0.6" height="0.6"/><rect x="441.5" y="39.2" width="0.6" height="0.6"/><rect x="443.6" y="43.8" width="0.6" height="0.6"/><rect x="437.6" y="44.4" width="0.6" height="0.6"/><rect x="439.4" y="46.1" width="0.6" height="0.6"/><rect x="447.7" y="41.9" width="0.6" height="0.6"/><rect x="435.7" y="50.1" width="0.6" height="0.6"/><rect x="437.0" y="53.9" width="0.6" height="0.6"/><rect x="433.4" y="47.1" width="0.6" height="0.6"/><rect x="450.1" y="44.6" width="0.6" height="0.6"/><rect x="430.4" y="54.5" width="0.6" height="0.6"/><rect x="444.7" y="39.8" width="0.6" height="0.6"/><rect x="445.4" y="44.0" width="0.6" height="0.6"/><rect x="447.9" y="41.4" width="0.6" height="0.6"/><rect x="438.3" y="63.3" width="0.6" height="0.6"/><rect x="448.3" y="42.3" width="0.6" height="0.6"/><rect x="436.8" y="44.0" width="0.6" height="0.6"/><rect x="446.3" y="43.7" width="0.6" height="0.6"/><rect x="434.2" y="52.7" width="0.6" height="0.6"/><rect x="438.4" y="44.2" width="0.6" height="0.6"/><rect x="438.7" y="49.1" width="0.6" height="0.6"/><rect x="451.6" y="40.4" width="0.6" height="0.6"/><rect x="436.6" y="47.3" width="0.6" height="0.6"/><rect x="433.7" y="51.5" width="0.6" height="0.6"/><rect x="435.4" y="51.0" width="0.6" height="0.6"/><rect x="447.6" y="43.5" width="0.6" height="0.6"/><rect x="452.9" y="44.3" width="0.6" height="0.6"/><rect x="433.7" y="46.9" width="0.6" height="0.6"/><rect x="435.0" y="58.9" width="0.6" height="0.6"/><rect x="436.0" y="62.8" width="0.6" height="0.6"/><rect x="443.2" y="41.7" width="0.6" height="0.6"/><rect x="440.4" y="44.8" width="0.6" height="0.6"/><rect x="451.1" y="43.3" width="0.6" height="0.6"/><rect x="436.8" y="42.6" width="0.6" height="0.6"/><rect x="435.9" y="53.7" width="0.6" height="0.6"/><rect x="447.5" y="43.3" width="0.6" height="0.6"/><rect x="441.2" y="43.5" width="0.6" height="0.6"/><rect x="448.9" y="45.3" width="0.6" height="0.6"/><rect x="449.2" y="44.1" width="0.6" height="0.6"/><rect x="439.1" y="48.9" width="0.6" height="0.6"/><rect x="448.3" y="44.4" width="0.6" height="0.6"/><rect x="444.7" y="41.9" width="0.6" height="0.6"/><rect x="441.6" y="42.4" width="0.6" height="0.6"/><rect x="433.8" y="54.0" width="0.6" height="0.6"/><rect x="432.3" y="55.6" width="0.6" height="0.6"/><rect x="436.6" y="48.6" width="0.6" height="0.6"/><rect x="451.3" y="43.0" width="0.6" height="0.6"/><rect x="434.5" y="58.2" width="0.6" height="0.6"/><rect x="434.0" y="56.0" width="0.6" height="0.6"/><rect x="434.7" y="51.7" width="0.6" height="0.6"/><rect x="436.0" y="44.3" width="0.6" height="0.6"/><rect x="441.5" y="40.7" width="0.6" height="0.6"/><rect x="435.9" y="46.0" width="0.6" height="0.6"/><rect x="435.6" y="58.2" width="0.6" height="0.6"/><rect x="437.6" y="43.4" width="0.6" height="0.6"/><rect x="432.2" y="56.6" width="0.6" height="0.6"/><rect x="435.7" y="63.1" width="0.6" height="0.6"/><rect x="436.4" y="60.7" width="0.6" height="0.6"/><rect x="439.0" y="43.3" width="0.6" height="0.6"/><rect x="436.5" y="51.9" width="0.6" height="0.6"/><rect x="433.7" y="62.4" width="0.6" height="0.6"/><rect x="435.3" y="59.9" width="0.6" height="0.6"/><rect x="435.2" y="58.9" width="0.6" height="0.6"/><rect x="440.7" y="42.9" width="0.6" height="0.6"/><rect x="437.7" y="52.1" width="0.6" height="0.6"/><rect x="446.0" y="39.9" width="0.6" height="0.6"/><rect x="433.6" y="48.7" width="0.6" height="0.6"/><rect x="435.5" y="43.9" width="0.6" height="0.6"/><rect x="441.1" y="44.7" width="0.6" height="0.6"/><rect x="437.6" y="45.6" width="0.6" height="0.6"/><rect x="436.2" y="55.0" width="0.6" height="0.6"/><rect x="436.0" y="46.4" width="0.6" height="0.6"/><rect x="438.6" y="45.1" width="0.6" height="0.6"/><rect x="443.1" y="41.9" width="0.6" height="0.6"/><rect x="437.9" y="57.8" width="0.6" height="0.6"/><rect x="449.1" y="43.4" width="0.6" height="0.6"/><rect x="449.8" y="42.1" width="0.6" height="0.6"/><rect x="435.0" y="49.8" width="0.6" height="0.6"/><rect x="441.3" y="41.3" width="0.6" height="0.6"/><rect x="439.0" y="62.9" width="0.6" height="0.6"/><rect x="437.5" y="42.9" width="0.6" height="0.6"/><rect x="445.2" y="41.0" width="0.6" height="0.6"/><rect x="439.2" y="42.9" width="0.6" height="0.6"/><rect x="435.7" y="62.3" width="0.6" height="0.6"/><rect x="435.5" y="58.5" width="0.6" height="0.6"/><rect x="438.9" y="53.8" width="0.6" height="0.6"/><rect x="447.0" y="40.4" width="0.6" height="0.6"/><rect x="434.0" y="55.2" width="0.6" height="0.6"/><rect x="448.7" y="45.7" width="0.6" height="0.6"/><rect x="432.1" y="51.1" width="0.6" height="0.6"/><rect x="435.3" y="48.0" width="0.6" height="0.6"/><rect x="447.0" y="39.8" width="0.6" height="0.6"/><rect x="434.0" y="61.1" width="0.6" height="0.6"/><rect x="434.1" y="57.2" width="0.6" height="0.6"/><rect x="451.4" y="46.0" width="0.6" height="0.6"/><rect x="436.1" y="49.9" width="0.6" height="0.6"/><rect x="435.3" y="51.5" width="0.6" height="0.6"/><rect x="445.7" y="40.0" width="0.6" height="0.6"/><rect x="443.3" y="42.6" width="0.6" height="0.6"/><rect x="434.2" y="43.4" width="0.6" height="0.6"/><rect x="435.0" y="50.2" width="0.6" height="0.6"/><rect x="437.2" y="60.6" width="0.6" height="0.6"/><rect x="433.4" y="53.7" width="0.6" height="0.6"/><rect x="446.8" y="42.4" width="0.6" height="0.6"/><rect x="444.0" y="43.4" width="0.6" height="0.6"/><rect x="438.6" y="50.3" width="0.6" height="0.6"/><rect x="440.9" y="42.2" width="0.6" height="0.6"/><rect x="444.2" y="45.9" width="0.6" height="0.6"/><rect x="438.4" y="46.5" width="0.6" height="0.6"/><rect x="450.3" y="42.9" width="0.6" height="0.6"/><rect x="435.4" y="44.4" width="0.6" height="0.6"/><rect x="434.4" y="59.0" width="0.6" height="0.6"/><rect x="436.0" y="46.3" width="0.6" height="0.6"/><rect x="437.0" y="63.0" width="0.6" height="0.6"/><rect x="440.1" y="44.9" width="0.6" height="0.6"/><rect x="433.8" y="51.9" width="0.6" height="0.6"/><rect x="435.3" y="57.7" width="0.6" height="0.6"/><rect x="435.8" y="56.5" width="0.6" height="0.6"/><rect x="447.3" y="43.8" width="0.6" height="0.6"/><rect x="443.6" y="41.8" width="0.6" height="0.6"/><rect x="436.9" y="53.7" width="0.6" height="0.6"/><rect x="435.7" y="59.0" width="0.6" height="0.6"/><rect x="433.1" y="56.8" width="0.6" height="0.6"/><rect x="437.6" y="42.7" width="0.6" height="0.6"/><rect x="437.8" y="60.6" width="0.6" height="0.6"/><rect x="444.1" y="40.3" width="0.6" height="0.6"/><rect x="437.2" y="44.6" width="0.6" height="0.6"/><rect x="435.6" y="50.2" width="0.6" height="0.6"/><rect x="447.3" y="42.7" width="0.6" height="0.6"/><rect x="435.0" y="51.2" width="0.6" height="0.6"/><rect x="435.4" y="47.2" width="0.6" height="0.6"/><rect x="437.6" y="41.8" width="0.6" height="0.6"/><rect x="446.6" y="43.4" width="0.6" height="0.6"/><rect x="451.3" y="43.5" width="0.6" height="0.6"/><rect x="433.7" y="55.0" width="0.6" height="0.6"/><rect x="437.4" y="59.2" width="0.6" height="0.6"/><rect x="451.0" y="42.2" width="0.6" height="0.6"/><rect x="436.3" y="54.6" width="0.6" height="0.6"/><rect x="438.0" y="50.3" width="0.6" height="0.6"/><rect x="433.7" y="54.2" width="0.6" height="0.6"/><rect x="448.4" y="41.6" width="0.6" height="0.6"/><rect x="435.8" y="48.6" width="0.6" height="0.6"/><rect x="437.4" y="43.5" width="0.6" height="0.6"/><rect x="436.0" y="56.4" width="0.6" height="0.6"/><rect x="434.0" y="60.2" width="0.6" height="0.6"/><rect x="432.3" y="48.2" width="0.6" height="0.6"/><rect x="436.3" y="45.4" width="0.6" height="0.6"/><rect x="438.4" y="50.9" width="0.6" height="0.6"/><rect x="449.4" y="42.6" width="0.6" height="0.6"/><rect x="438.0" y="57.1" width="0.6" height="0.6"/><rect x="437.8" y="46.1" width="0.6" height="0.6"/><rect x="438.6" y="49.8" width="0.6" height="0.6"/><rect x="434.1" y="49.3" width="0.6" height="0.6"/><rect x="451.7" y="40.1" width="0.6" height="0.6"/><rect x="438.8" y="44.0" width="0.6" height="0.6"/><rect x="439.0" y="44.6" width="0.6" height="0.6"/><rect x="444.6" y="40.5" width="0.6" height="0.6"/><rect x="445.6" y="41.5" width="0.6" height="0.6"/><rect x="449.4" y="43.0" width="0.6" height="0.6"/><rect x="436.1" y="43.4" width="0.6" height="0.6"/><rect x="447.3" y="42.8" width="0.6" height="0.6"/><rect x="446.1" y="43.1" width="0.6" height="0.6"/><rect x="448.9" y="43.8" width="0.6" height="0.6"/><rect x="432.6" y="52.6" width="0.6" height="0.6"/><rect x="439.4" y="43.3" width="0.6" height="0.6"/><rect x="440.1" y="43.7" width="0.6" height="0.6"/><rect x="438.0" y="43.5" width="0.6" height="0.6"/><rect x="436.6" y="57.6" width="0.6" height="0.6"/><rect x="443.3" y="43.0" width="0.6" height="0.6"/><rect x="433.0" y="53.4" width="0.6" height="0.6"/><rect x="450.6" y="46.7" width="0.6" height="0.6"/><rect x="438.2" y="52.6" width="0.6" height="0.6"/><rect x="437.0" y="50.6" width="0.6" height="0.6"/><rect x="435.1" y="52.6" width="0.6" height="0.6"/><rect x="441.3" y="42.7" width="0.6" height="0.6"/><rect x="451.7" y="44.5" width="0.6" height="0.6"/><rect x="437.1" y="59.2" width="0.6" height="0.6"/><rect x="437.0" y="61.9" width="0.6" height="0.6"/><rect x="434.9" y="55.7" width="0.6" height="0.6"/><rect x="451.5" y="45.2" width="0.6" height="0.6"/><rect x="445.1" y="42.3" width="0.6" height="0.6"/><rect x="434.6" y="62.2" width="0.6" height="0.6"/><rect x="437.2" y="50.7" width="0.6" height="0.6"/><rect x="436.8" y="56.4" width="0.6" height="0.6"/><rect x="439.1" y="49.8" width="0.6" height="0.6"/><rect x="437.7" y="62.4" width="0.6" height="0.6"/><rect x="432.8" y="46.6" width="0.6" height="0.6"/><rect x="433.7" y="61.2" width="0.6" height="0.6"/><rect x="434.7" y="44.6" width="0.6" height="0.6"/><rect x="434.4" y="47.1" width="0.6" height="0.6"/><rect x="441.3" y="40.4" width="0.6" height="0.6"/><rect x="433.3" y="54.5" width="0.6" height="0.6"/><rect x="432.6" y="62.1" width="0.6" height="0.6"/><rect x="442.8" y="43.8" width="0.6" height="0.6"/><rect x="439.5" y="41.7" width="0.6" height="0.6"/><rect x="446.0" y="41.0" width="0.6" height="0.6"/><rect x="443.9" y="41.9" width="0.6" height="0.6"/><rect x="445.3" y="43.8" width="0.6" height="0.6"/><rect x="439.7" y="60.3" width="0.6" height="0.6"/><rect x="442.3" y="41.6" width="0.6" height="0.6"/><rect x="437.8" y="55.6" width="0.6" height="0.6"/><rect x="439.0" y="46.7" width="0.6" height="0.6"/><rect x="434.0" y="52.5" width="0.6" height="0.6"/><rect x="436.6" y="61.4" width="0.6" height="0.6"/><rect x="438.3" y="41.9" width="0.6" height="0.6"/><rect x="437.4" y="56.6" width="0.6" height="0.6"/><rect x="443.9" y="42.2" width="0.6" height="0.6"/><rect x="435.6" y="45.5" width="0.6" height="0.6"/><rect x="432.5" y="50.0" width="0.6" height="0.6"/><rect x="439.0" y="43.2" width="0.6" height="0.6"/><rect x="437.6" y="44.4" width="0.6" height="0.6"/><rect x="436.8" y="46.5" width="0.6" height="0.6"/><rect x="443.3" y="42.1" width="0.6" height="0.6"/><rect x="437.2" y="55.6" width="0.6" height="0.6"/><rect x="439.7" y="46.7" width="0.6" height="0.6"/><rect x="436.1" y="63.5" width="0.6" height="0.6"/><rect x="447.7" y="42.5" width="0.6" height="0.6"/><rect x="435.6" y="62.9" width="0.6" height="0.6"/><rect x="435.2" y="56.4" width="0.6" height="0.6"/><rect x="436.7" y="55.8" width="0.6" height="0.6"/><rect x="437.1" y="43.0" width="0.6" height="0.6"/><rect x="435.3" y="56.6" width="0.6" height="0.6"/><rect x="437.4" y="56.2" width="0.6" height="0.6"/><rect x="448.7" y="44.6" width="0.6" height="0.6"/><rect x="436.8" y="57.9" width="0.6" height="0.6"/><rect x="437.8" y="48.2" width="0.6" height="0.6"/><rect x="436.8" y="59.7" width="0.6" height="0.6"/><rect x="446.0" y="45.1" width="0.6" height="0.6"/><rect x="434.5" y="54.7" width="0.6" height="0.6"/><rect x="435.5" y="56.8" width="0.6" height="0.6"/><rect x="448.4" y="41.6" width="0.6" height="0.6"/><rect x="434.8" y="48.4" width="0.6" height="0.6"/><rect x="448.2" y="44.5" width="0.6" height="0.6"/><rect x="446.0" y="42.4" width="0.6" height="0.6"/><rect x="448.8" y="45.2" width="0.6" height="0.6"/><rect x="436.7" y="51.3" width="0.6" height="0.6"/><rect x="436.6" y="62.4" width="0.6" height="0.6"/><rect x="442.8" y="41.2" width="0.6" height="0.6"/><rect x="440.2" y="43.2" width="0.6" height="0.6"/><rect x="440.4" y="42.4" width="0.6" height="0.6"/><rect x="433.9" y="52.8" width="0.6" height="0.6"/><rect x="447.8" y="40.1" width="0.6" height="0.6"/><rect x="430.8" y="57.1" width="0.6" height="0.6"/><rect x="434.9" y="50.7" width="0.6" height="0.6"/><rect x="447.8" y="44.1" width="0.6" height="0.6"/><rect x="434.4" y="51.7" width="0.6" height="0.6"/><rect x="435.8" y="62.5" width="0.6" height="0.6"/><rect x="435.4" y="54.5" width="0.6" height="0.6"/><rect x="435.5" y="49.6" width="0.6" height="0.6"/><rect x="435.0" y="63.4" width="0.6" height="0.6"/><rect x="436.3" y="50.5" width="0.6" height="0.6"/><rect x="438.5" y="46.0" width="0.6" height="0.6"/><rect x="450.1" y="41.7" width="0.6" height="0.6"/><rect x="434.9" y="46.2" width="0.6" height="0.6"/><rect x="436.9" y="48.6" width="0.6" height="0.6"/><rect x="434.7" y="56.4" width="0.6" height="0.6"/><rect x="434.6" y="61.6" width="0.6" height="0.6"/><rect x="432.6" y="60.4" width="0.6" height="0.6"/><rect x="432.7" y="50.9" width="0.6" height="0.6"/><rect x="431.6" y="63.3" width="0.6" height="0.6"/><rect x="437.3" y="62.0" width="0.6" height="0.6"/><rect x="435.2" y="61.5" width="0.6" height="0.6"/><rect x="439.1" y="46.2" width="0.6" height="0.6"/><rect x="435.3" y="46.1" width="0.6" height="0.6"/><rect x="433.5" y="61.5" width="0.6" height="0.6"/><rect x="435.6" y="52.3" width="0.6" height="0.6"/><rect x="435.1" y="54.7" width="0.6" height="0.6"/><rect x="440.2" y="42.6" width="0.6" height="0.6"/><rect x="450.4" y="43.4" width="0.6" height="0.6"/><rect x="437.2" y="42.2" width="0.6" height="0.6"/><rect x="434.9" y="51.7" width="0.6" height="0.6"/><rect x="448.3" y="42.5" width="0.6" height="0.6"/><rect x="446.9" y="43.5" width="0.6" height="0.6"/><rect x="444.0" y="41.1" width="0.6" height="0.6"/><rect x="437.1" y="43.1" width="0.6" height="0.6"/><rect x="435.3" y="45.3" width="0.6" height="0.6"/><rect x="437.8" y="44.0" width="0.6" height="0.6"/><rect x="443.4" y="41.7" width="0.6" height="0.6"/><rect x="441.7" y="42.0" width="0.6" height="0.6"/><rect x="437.2" y="51.1" width="0.6" height="0.6"/><rect x="446.7" y="44.5" width="0.6" height="0.6"/><rect x="436.8" y="46.2" width="0.6" height="0.6"/><rect x="448.4" y="44.0" width="0.6" height="0.6"/><rect x="452.7" y="44.2" width="0.6" height="0.6"/><rect x="452.7" y="44.1" width="0.6" height="0.6"/><rect x="434.2" y="52.4" width="0.6" height="0.6"/><rect x="435.4" y="46.5" width="0.6" height="0.6"/><rect x="437.6" y="41.1" width="0.6" height="0.6"/><rect x="440.0" y="58.0" width="0.6" height="0.6"/><rect x="441.3" y="43.1" width="0.6" height="0.6"/><rect x="436.4" y="48.3" width="0.6" height="0.6"/><rect x="443.3" y="41.9" width="0.6" height="0.6"/><rect x="437.0" y="48.2" width="0.6" height="0.6"/><rect x="435.4" y="56.6" width="0.6" height="0.6"/><rect x="437.9" y="50.0" width="0.6" height="0.6"/><rect x="437.4" y="56.7" width="0.6" height="0.6"/><rect x="445.6" y="45.6" width="0.6" height="0.6"/><rect x="439.0" y="49.0" width="0.6" height="0.6"/><rect x="432.2" y="61.5" width="0.6" height="0.6"/><rect x="435.6" y="57.6" width="0.6" height="0.6"/><rect x="448.7" y="42.7" width="0.6" height="0.6"/><rect x="451.2" y="44.5" width="0.6" height="0.6"/><rect x="446.5" y="42.7" width="0.6" height="0.6"/><rect x="435.2" y="59.9" width="0.6" height="0.6"/><rect x="435.3" y="50.5" width="0.6" height="0.6"/><rect x="436.3" y="47.6" width="0.6" height="0.6"/><rect x="438.4" y="43.0" width="0.6" height="0.6"/><rect x="437.3" y="48.5" width="0.6" height="0.6"/><rect x="436.7" y="44.6" width="0.6" height="0.6"/><rect x="439.9" y="42.1" width="0.6" height="0.6"/><rect x="438.1" y="41.8" width="0.6" height="0.6"/><rect x="436.6" y="56.0" width="0.6" height="0.6"/><rect x="439.4" y="44.0" width="0.6" height="0.6"/><rect x="434.3" y="51.7" width="0.6" height="0.6"/><rect x="433.5" y="50.2" width="0.6" height="0.6"/><rect x="447.5" y="44.2" width="0.6" height="0.6"/><rect x="434.6" y="49.5" width="0.6" height="0.6"/><rect x="449.2" y="44.1" width="0.6" height="0.6"/><rect x="445.0" y="43.0" width="0.6" height="0.6"/><rect x="436.6" y="49.7" width="0.6" height="0.6"/><rect x="436.1" y="48.1" width="0.6" height="0.6"/><rect x="437.7" y="44.3" width="0.6" height="0.6"/><rect x="444.6" y="42.9" width="0.6" height="0.6"/><rect x="443.0" y="41.6" width="0.6" height="0.6"/><rect x="438.3" y="56.3" width="0.6" height="0.6"/><rect x="439.0" y="59.0" width="0.6" height="0.6"/><rect x="434.5" y="58.8" width="0.6" height="0.6"/><rect x="434.1" y="58.8" width="0.6" height="0.6"/><rect x="433.6" y="55.2" width="0.6" height="0.6"/><rect x="436.9" y="44.7" width="0.6" height="0.6"/><rect x="438.3" y="50.8" width="0.6" height="0.6"/><rect x="436.5" y="46.9" width="0.6" height="0.6"/><rect x="443.6" y="43.6" width="0.6" height="0.6"/><rect x="435.9" y="61.9" width="0.6" height="0.6"/><rect x="445.3" y="43.5" width="0.6" height="0.6"/><rect x="436.5" y="58.9" width="0.6" height="0.6"/><rect x="435.6" y="44.8" width="0.6" height="0.6"/><rect x="436.9" y="50.9" width="0.6" height="0.6"/><rect x="434.6" y="50.6" width="0.6" height="0.6"/><rect x="436.1" y="62.5" width="0.6" height="0.6"/><rect x="439.3" y="42.9" width="0.6" height="0.6"/><rect x="432.7" y="63.6" width="0.6" height="0.6"/><rect x="437.1" y="48.6" width="0.6" height="0.6"/><rect x="445.5" y="39.2" width="0.6" height="0.6"/><rect x="435.3" y="47.0" width="0.6" height="0.6"/><rect x="447.5" y="42.1" width="0.6" height="0.6"/><rect x="436.2" y="48.3" width="0.6" height="0.6"/><rect x="437.5" y="47.3" width="0.6" height="0.6"/><rect x="445.5" y="43.6" width="0.6" height="0.6"/><rect x="435.7" y="60.0" width="0.6" height="0.6"/><rect x="451.1" y="42.0" width="0.6" height="0.6"/><rect x="438.5" y="46.0" width="0.6" height="0.6"/><rect x="437.9" y="48.9" width="0.6" height="0.6"/><rect x="434.9" y="60.5" width="0.6" height="0.6"/><rect x="435.1" y="59.0" width="0.6" height="0.6"/><rect x="435.0" y="55.5" width="0.6" height="0.6"/><rect x="437.5" y="43.0" width="0.6" height="0.6"/><rect x="435.9" y="53.5" width="0.6" height="0.6"/><rect x="436.9" y="54.3" width="0.6" height="0.6"/><rect x="437.0" y="44.9" width="0.6" height="0.6"/><rect x="442.5" y="40.4" width="0.6" height="0.6"/><rect x="441.8" y="43.6" width="0.6" height="0.6"/><rect x="434.6" y="48.4" width="0.6" height="0.6"/><rect x="436.0" y="52.7" width="0.6" height="0.6"/><rect x="450.4" y="46.1" width="0.6" height="0.6"/><rect x="444.9" y="45.1" width="0.6" height="0.6"/><rect x="441.4" y="59.6" width="0.6" height="0.6"/><rect x="443.6" y="40.7" width="0.6" height="0.6"/><rect x="437.5" y="59.0" width="0.6" height="0.6"/><rect x="433.4" y="61.3" width="0.6" height="0.6"/><rect x="437.8" y="54.1" width="0.6" height="0.6"/><rect x="441.5" y="41.8" width="0.6" height="0.6"/><rect x="442.0" y="43.7" width="0.6" height="0.6"/><rect x="438.1" y="42.4" width="0.6" height="0.6"/><rect x="436.1" y="61.3" width="0.6" height="0.6"/><rect x="445.5" y="41.8" width="0.6" height="0.6"/><rect x="448.2" y="43.7" width="0.6" height="0.6"/><rect x="433.8" y="54.2" width="0.6" height="0.6"/><rect x="436.1" y="54.8" width="0.6" height="0.6"/><rect x="439.3" y="43.4" width="0.6" height="0.6"/><rect x="436.2" y="48.2" width="0.6" height="0.6"/><rect x="440.2" y="42.2" width="0.6" height="0.6"/><rect x="448.0" y="42.2" width="0.6" height="0.6"/><rect x="446.0" y="40.2" width="0.6" height="0.6"/><rect x="436.5" y="50.6" width="0.6" height="0.6"/><rect x="442.4" y="43.5" width="0.6" height="0.6"/><rect x="433.7" y="59.8" width="0.6" height="0.6"/><rect x="435.6" y="52.0" width="0.6" height="0.6"/><rect x="451.2" y="46.3" width="0.6" height="0.6"/><rect x="434.3" y="62.1" width="0.6" height="0.6"/><rect x="448.2" y="44.4" width="0.6" height="0.6"/><rect x="441.9" y="39.8" width="0.6" height="0.6"/><rect x="436.0" y="60.1" width="0.6" height="0.6"/><rect x="440.7" y="43.6" width="0.6" height="0.6"/><rect x="434.4" y="47.6" width="0.6" height="0.6"/><rect x="451.9" y="41.6" width="0.6" height="0.6"/><rect x="433.6" y="53.1" width="0.6" height="0.6"/><rect x="439.5" y="45.1" width="0.6" height="0.6"/><rect x="435.6" y="59.6" width="0.6" height="0.6"/><rect x="452.0" y="41.0" width="0.6" height="0.6"/><rect x="441.9" y="44.0" width="0.6" height="0.6"/><rect x="436.4" y="53.2" width="0.6" height="0.6"/><rect x="450.8" y="46.1" width="0.6" height="0.6"/><rect x="450.3" y="45.8" width="0.6" height="0.6"/><rect x="438.4" y="55.3" width="0.6" height="0.6"/><rect x="441.5" y="42.7" width="0.6" height="0.6"/><rect x="439.4" y="43.1" width="0.6" height="0.6"/><rect x="435.7" y="52.9" width="0.6" height="0.6"/><rect x="440.3" y="44.9" width="0.6" height="0.6"/><rect x="448.3" y="44.9" width="0.6" height="0.6"/><rect x="452.6" y="42.4" width="0.6" height="0.6"/><rect x="446.2" y="47.2" width="0.6" height="0.6"/><rect x="432.6" y="63.5" width="0.6" height="0.6"/><rect x="434.7" y="55.0" width="0.6" height="0.6"/><rect x="436.7" y="56.7" width="0.6" height="0.6"/><rect x="438.8" y="42.2" width="0.6" height="0.6"/><rect x="436.5" y="56.1" width="0.6" height="0.6"/><rect x="433.3" y="52.7" width="0.6" height="0.6"/><rect x="437.2" y="45.9" width="0.6" height="0.6"/><rect x="435.4" y="55.3" width="0.6" height="0.6"/><rect x="439.7" y="47.4" width="0.6" height="0.6"/><rect x="436.0" y="56.8" width="0.6" height="0.6"/><rect x="439.7" y="44.1" width="0.6" height="0.6"/><rect x="437.2" y="62.4" width="0.6" height="0.6"/><rect x="451.6" y="44.4" width="0.6" height="0.6"/><rect x="436.0" y="54.7" width="0.6" height="0.6"/><rect x="437.1" y="56.4" width="0.6" height="0.6"/><rect x="433.6" y="62.7" width="0.6" height="0.6"/><rect x="432.5" y="55.3" width="0.6" height="0.6"/><rect x="435.6" y="58.6" width="0.6" height="0.6"/><rect x="449.3" y="44.7" width="0.6" height="0.6"/><rect x="435.7" y="53.9" width="0.6" height="0.6"/><rect x="448.7" y="40.7" width="0.6" height="0.6"/><rect x="437.1" y="47.4" width="0.6" height="0.6"/><rect x="435.9" y="56.0" width="0.6" height="0.6"/><rect x="437.1" y="49.2" width="0.6" height="0.6"/><rect x="439.2" y="45.3" width="0.6" height="0.6"/><rect x="436.3" y="58.9" width="0.6" height="0.6"/><rect x="436.6" y="53.7" width="0.6" height="0.6"/><rect x="451.7" y="39.6" width="0.6" height="0.6"/><rect x="433.4" y="56.9" width="0.6" height="0.6"/><rect x="437.6" y="47.0" width="0.6" height="0.6"/><rect x="447.8" y="45.3" width="0.6" height="0.6"/><rect x="438.4" y="43.4" width="0.6" height="0.6"/><rect x="446.8" y="40.3" width="0.6" height="0.6"/><rect x="441.0" y="40.7" width="0.6" height="0.6"/><rect x="433.8" y="51.1" width="0.6" height="0.6"/><rect x="439.8" y="45.4" width="0.6" height="0.6"/><rect x="452.7" y="40.5" width="0.6" height="0.6"/><rect x="439.7" y="42.8" width="0.6" height="0.6"/><rect x="439.1" y="43.4" width="0.6" height="0.6"/><rect x="436.8" y="60.8" width="0.6" height="0.6"/><rect x="439.5" y="43.0" width="0.6" height="0.6"/><rect x="448.7" y="43.0" width="0.6" height="0.6"/><rect x="438.5" y="44.0" width="0.6" height="0.6"/><rect x="441.9" y="42.6" width="0.6" height="0.6"/><rect x="434.4" y="45.1" width="0.6" height="0.6"/><rect x="437.4" y="62.7" width="0.6" height="0.6"/><rect x="441.5" y="43.0" width="0.6" height="0.6"/><rect x="441.0" y="43.7" width="0.6" height="0.6"/><rect x="446.6" y="40.1" width="0.6" height="0.6"/><rect x="437.1" y="42.5" width="0.6" height="0.6"/><rect x="437.2" y="62.4" width="0.6" height="0.6"/><rect x="442.2" y="41.9" width="0.6" height="0.6"/><rect x="436.8" y="55.4" width="0.6" height="0.6"/><rect x="433.4" y="62.8" width="0.6" height="0.6"/><rect x="452.6" y="44.5" width="0.6" height="0.6"/><rect x="437.4" y="44.7" width="0.6" height="0.6"/><rect x="447.7" y="42.8" width="0.6" height="0.6"/><rect x="432.7" y="46.2" width="0.6" height="0.6"/><rect x="442.9" y="40.6" width="0.6" height="0.6"/><rect x="450.0" y="44.8" width="0.6" height="0.6"/><rect x="444.4" y="43.2" width="0.6" height="0.6"/><rect x="435.3" y="45.1" width="0.6" height="0.6"/><rect x="452.1" y="44.0" width="0.6" height="0.6"/><rect x="447.9" y="44.6" width="0.6" height="0.6"/><rect x="432.3" y="50.5" width="0.6" height="0.6"/><rect x="434.6" y="62.7" width="0.6" height="0.6"/><rect x="448.9" y="45.5" width="0.6" height="0.6"/><rect x="434.7" y="62.9" width="0.6" height="0.6"/><rect x="434.9" y="58.4" width="0.6" height="0.6"/><rect x="441.4" y="43.4" width="0.6" height="0.6"/><rect x="433.2" y="61.9" width="0.6" height="0.6"/><rect x="438.1" y="59.2" width="0.6" height="0.6"/><rect x="450.8" y="43.1" width="0.6" height="0.6"/><rect x="433.7" y="51.2" width="0.6" height="0.6"/><rect x="443.4" y="41.1" width="0.6" height="0.6"/><rect x="451.3" y="44.2" width="0.6" height="0.6"/><rect x="439.8" y="45.5" width="0.6" height="0.6"/><rect x="443.1" y="42.0" width="0.6" height="0.6"/><rect x="436.5" y="55.8" width="0.6" height="0.6"/><rect x="442.6" y="39.7" width="0.6" height="0.6"/><rect x="447.7" y="43.1" width="0.6" height="0.6"/><rect x="436.1" y="62.4" width="0.6" height="0.6"/><rect x="436.8" y="57.7" width="0.6" height="0.6"/><rect x="448.6" y="41.4" width="0.6" height="0.6"/><rect x="433.2" y="61.0" width="0.6" height="0.6"/><rect x="435.5" y="46.6" width="0.6" height="0.6"/><rect x="435.7" y="62.4" width="0.6" height="0.6"/><rect x="437.2" y="53.8" width="0.6" height="0.6"/><rect x="435.0" y="54.0" width="0.6" height="0.6"/><rect x="443.2" y="43.3" width="0.6" height="0.6"/><rect x="434.8" y="62.5" width="0.6" height="0.6"/><rect x="448.1" y="45.0" width="0.6" height="0.6"/><rect x="433.7" y="46.8" width="0.6" height="0.6"/><rect x="444.8" y="44.8" width="0.6" height="0.6"/><rect x="436.1" y="61.5" width="0.6" height="0.6"/><rect x="433.8" y="47.1" width="0.6" height="0.6"/><rect x="451.0" y="47.6" width="0.6" height="0.6"/><rect x="444.3" y="40.2" width="0.6" height="0.6"/><rect x="438.1" y="61.6" width="0.6" height="0.6"/><rect x="446.9" y="42.4" width="0.6" height="0.6"/><rect x="444.4" y="44.9" width="0.6" height="0.6"/><rect x="436.5" y="48.3" width="0.6" height="0.6"/><rect x="448.9" y="45.5" width="0.6" height="0.6"/><rect x="435.4" y="45.6" width="0.6" height="0.6"/><rect x="435.2" y="49.1" width="0.6" height="0.6"/><rect x="444.2" y="43.4" width="0.6" height="0.6"/><rect x="436.9" y="54.5" width="0.6" height="0.6"/><rect x="441.3" y="42.9" width="0.6" height="0.6"/><rect x="445.5" y="41.6" width="0.6" height="0.6"/><rect x="446.4" y="42.6" width="0.6" height="0.6"/><rect x="435.4" y="48.6" width="0.6" height="0.6"/><rect x="446.5" y="45.7" width="0.6" height="0.6"/><rect x="433.1" y="57.7" width="0.6" height="0.6"/><rect x="448.4" y="43.7" width="0.6" height="0.6"/><rect x="445.5" y="43.2" width="0.6" height="0.6"/><rect x="447.3" y="45.2" width="0.6" height="0.6"/><rect x="438.5" y="44.0" width="0.6" height="0.6"/><rect x="448.3" y="43.6" width="0.6" height="0.6"/><rect x="449.5" y="46.5" width="0.6" height="0.6"/><rect x="436.6" y="59.0" width="0.6" height="0.6"/><rect x="435.5" y="44.4" width="0.6" height="0.6"/><rect x="435.4" y="50.2" width="0.6" height="0.6"/><rect x="436.2" y="54.1" width="0.6" height="0.6"/><rect x="436.1" y="56.0" width="0.6" height="0.6"/><rect x="437.7" y="55.3" width="0.6" height="0.6"/><rect x="434.5" y="58.9" width="0.6" height="0.6"/><rect x="435.1" y="61.9" width="0.6" height="0.6"/><rect x="436.7" y="56.4" width="0.6" height="0.6"/><rect x="448.6" y="44.1" width="0.6" height="0.6"/><rect x="435.5" y="58.6" width="0.6" height="0.6"/><rect x="434.1" y="55.7" width="0.6" height="0.6"/><rect x="440.9" y="43.5" width="0.6" height="0.6"/><rect x="434.7" y="53.6" width="0.6" height="0.6"/><rect x="443.9" y="41.4" width="0.6" height="0.6"/><rect x="447.9" y="46.1" width="0.6" height="0.6"/><rect x="438.2" y="62.7" width="0.6" height="0.6"/><rect x="450.5" y="42.1" width="0.6" height="0.6"/><rect x="442.1" y="40.6" width="0.6" height="0.6"/><rect x="448.7" y="47.0" width="0.6" height="0.6"/><rect x="446.2" y="40.8" width="0.6" height="0.6"/><rect x="436.2" y="60.8" width="0.6" height="0.6"/><rect x="437.4" y="51.4" width="0.6" height="0.6"/><rect x="439.3" y="44.4" width="0.6" height="0.6"/><rect x="435.0" y="43.5" width="0.6" height="0.6"/><rect x="440.2" y="43.4" width="0.6" height="0.6"/><rect x="435.3" y="46.1" width="0.6" height="0.6"/><rect x="436.0" y="49.3" width="0.6" height="0.6"/><rect x="433.9" y="56.1" width="0.6" height="0.6"/><rect x="435.3" y="62.3" width="0.6" height="0.6"/><rect x="438.0" y="53.0" width="0.6" height="0.6"/><rect x="435.6" y="52.4" width="0.6" height="0.6"/><rect x="435.9" y="45.9" width="0.6" height="0.6"/><rect x="446.1" y="41.5" width="0.6" height="0.6"/><rect x="450.2" y="44.7" width="0.6" height="0.6"/><rect x="435.8" y="56.9" width="0.6" height="0.6"/><rect x="433.3" y="52.1" width="0.6" height="0.6"/><rect x="437.7" y="48.8" width="0.6" height="0.6"/><rect x="435.0" y="63.4" width="0.6" height="0.6"/><rect x="435.3" y="48.0" width="0.6" height="0.6"/><rect x="436.4" y="48.2" width="0.6" height="0.6"/><rect x="443.7" y="43.0" width="0.6" height="0.6"/><rect x="438.3" y="53.4" width="0.6" height="0.6"/><rect x="438.0" y="49.6" width="0.6" height="0.6"/><rect x="435.6" y="47.0" width="0.6" height="0.6"/><rect x="433.9" y="51.7" width="0.6" height="0.6"/><rect x="437.5" y="60.0" width="0.6" height="0.6"/><rect x="440.7" y="43.4" width="0.6" height="0.6"/><rect x="435.6" y="46.0" width="0.6" height="0.6"/><rect x="442.1" y="42.9" width="0.6" height="0.6"/><rect x="436.5" y="60.1" width="0.6" height="0.6"/><rect x="442.3" y="42.0" width="0.6" height="0.6"/><rect x="435.8" y="54.6" width="0.6" height="0.6"/><rect x="437.7" y="49.7" width="0.6" height="0.6"/><rect x="435.8" y="60.4" width="0.6" height="0.6"/><rect x="435.8" y="60.7" width="0.6" height="0.6"/><rect x="443.1" y="41.0" width="0.6" height="0.6"/><rect x="437.4" y="62.3" width="0.6" height="0.6"/><rect x="448.2" y="39.9" width="0.6" height="0.6"/><rect x="435.0" y="49.6" width="0.6" height="0.6"/><rect x="438.6" y="44.6" width="0.6" height="0.6"/><rect x="432.7" y="56.8" width="0.6" height="0.6"/><rect x="437.0" y="54.4" width="0.6" height="0.6"/><rect x="439.6" y="41.3" width="0.6" height="0.6"/><rect x="448.0" y="42.5" width="0.6" height="0.6"/><rect x="436.3" y="56.0" width="0.6" height="0.6"/><rect x="440.2" y="45.2" width="0.6" height="0.6"/><rect x="439.6" y="41.4" width="0.6" height="0.6"/><rect x="451.3" y="42.2" width="0.6" height="0.6"/><rect x="436.9" y="49.1" width="0.6" height="0.6"/><rect x="447.6" y="43.8" width="0.6" height="0.6"/><rect x="438.7" y="44.1" width="0.6" height="0.6"/><rect x="438.2" y="55.9" width="0.6" height="0.6"/><rect x="438.1" y="51.3" width="0.6" height="0.6"/><rect x="447.0" y="40.3" width="0.6" height="0.6"/><rect x="434.1" y="50.5" width="0.6" height="0.6"/><rect x="437.4" y="49.6" width="0.6" height="0.6"/><rect x="442.7" y="40.9" width="0.6" height="0.6"/><rect x="434.6" y="59.1" width="0.6" height="0.6"/><rect x="439.9" y="44.0" width="0.6" height="0.6"/><rect x="441.8" y="41.0" width="0.6" height="0.6"/><rect x="432.7" y="51.2" width="0.6" height="0.6"/><rect x="451.1" y="42.4" width="0.6" height="0.6"/><rect x="435.5" y="45.9" width="0.6" height="0.6"/><rect x="439.4" y="46.8" width="0.6" height="0.6"/><rect x="446.9" y="43.6" width="0.6" height="0.6"/><rect x="442.8" y="41.4" width="0.6" height="0.6"/><rect x="446.2" y="43.3" width="0.6" height="0.6"/><rect x="432.9" y="56.0" width="0.6" height="0.6"/><rect x="437.3" y="57.4" width="0.6" height="0.6"/><rect x="437.9" y="55.3" width="0.6" height="0.6"/><rect x="452.8" y="40.6" width="0.6" height="0.6"/><rect x="438.2" y="43.9" width="0.6" height="0.6"/><rect x="438.4" y="45.1" width="0.6" height="0.6"/><rect x="438.2" y="44.4" width="0.6" height="0.6"/><rect x="439.2" y="46.4" width="0.6" height="0.6"/><rect x="434.5" y="47.1" width="0.6" height="0.6"/><rect x="441.3" y="43.6" width="0.6" height="0.6"/><rect x="448.1" y="40.3" width="0.6" height="0.6"/><rect x="435.9" y="46.9" width="0.6" height="0.6"/><rect x="437.4" y="53.9" width="0.6" height="0.6"/><rect x="435.8" y="53.5" width="0.6" height="0.6"/><rect x="437.2" y="55.7" width="0.6" height="0.6"/><rect x="436.8" y="61.2" width="0.6" height="0.6"/><rect x="437.1" y="56.0" width="0.6" height="0.6"/><rect x="435.8" y="51.5" width="0.6" height="0.6"/><rect x="451.0" y="43.5" width="0.6" height="0.6"/><rect x="435.0" y="44.8" width="0.6" height="0.6"/><rect x="439.1" y="45.2" width="0.6" height="0.6"/><rect x="439.2" y="46.6" width="0.6" height="0.6"/><rect x="435.0" y="56.4" width="0.6" height="0.6"/><rect x="447.6" y="44.6" width="0.6" height="0.6"/><rect x="435.9" y="54.6" width="0.6" height="0.6"/><rect x="440.5" y="47.1" width="0.6" height="0.6"/><rect x="433.9" y="62.6" width="0.6" height="0.6"/><rect x="451.0" y="44.4" width="0.6" height="0.6"/><rect x="442.6" y="41.9" width="0.6" height="0.6"/><rect x="446.1" y="40.1" width="0.6" height="0.6"/><rect x="439.2" y="56.4" width="0.6" height="0.6"/><rect x="451.9" y="44.6" width="0.6" height="0.6"/><rect x="436.3" y="57.0" width="0.6" height="0.6"/><rect x="432.7" y="58.6" width="0.6" height="0.6"/><rect x="451.1" y="42.6" width="0.6" height="0.6"/><rect x="451.9" y="44.7" width="0.6" height="0.6"/><rect x="435.3" y="49.5" width="0.6" height="0.6"/><rect x="436.5" y="51.3" width="0.6" height="0.6"/><rect x="444.5" y="43.9" width="0.6" height="0.6"/><rect x="443.6" y="43.1" width="0.6" height="0.6"/><rect x="451.0" y="45.1" width="0.6" height="0.6"/><rect x="431.6" y="57.7" width="0.6" height="0.6"/><rect x="438.3" y="45.0" width="0.6" height="0.6"/><rect x="443.6" y="43.0" width="0.6" height="0.6"/><rect x="436.1" y="49.4" width="0.6" height="0.6"/><rect x="436.1" y="45.5" width="0.6" height="0.6"/><rect x="437.5" y="45.7" width="0.6" height="0.6"/><rect x="437.8" y="63.1" width="0.6" height="0.6"/><rect x="432.5" y="58.2" width="0.6" height="0.6"/><rect x="439.9" y="51.5" width="0.6" height="0.6"/><rect x="448.7" y="41.1" width="0.6" height="0.6"/><rect x="433.6" y="58.7" width="0.6" height="0.6"/><rect x="448.9" y="43.4" width="0.6" height="0.6"/><rect x="435.7" y="62.5" width="0.6" height="0.6"/><rect x="447.4" y="42.6" width="0.6" height="0.6"/><rect x="442.7" y="42.1" width="0.6" height="0.6"/><rect x="436.7" y="50.9" width="0.6" height="0.6"/><rect x="436.7" y="46.9" width="0.6" height="0.6"/><rect x="439.7" y="47.1" width="0.6" height="0.6"/><rect x="451.1" y="46.8" width="0.6" height="0.6"/><rect x="445.6" y="44.1" width="0.6" height="0.6"/><rect x="436.5" y="55.7" width="0.6" height="0.6"/><rect x="436.8" y="60.1" width="0.6" height="0.6"/><rect x="438.0" y="51.1" width="0.6" height="0.6"/><rect x="445.4" y="41.7" width="0.6" height="0.6"/><rect x="442.6" y="41.0" width="0.6" height="0.6"/><rect x="435.2" y="59.6" width="0.6" height="0.6"/><rect x="441.2" y="42.9" width="0.6" height="0.6"/><rect x="435.1" y="50.3" width="0.6" height="0.6"/><rect x="449.1" y="42.8" width="0.6" height="0.6"/><rect x="436.9" y="51.3" width="0.6" height="0.6"/><rect x="441.3" y="43.6" width="0.6" height="0.6"/><rect x="442.4" y="41.5" width="0.6" height="0.6"/><rect x="440.8" y="42.5" width="0.6" height="0.6"/><rect x="450.5" y="42.8" width="0.6" height="0.6"/><rect x="436.2" y="46.9" width="0.6" height="0.6"/><rect x="452.7" y="41.8" width="0.6" height="0.6"/><rect x="434.7" y="58.9" width="0.6" height="0.6"/><rect x="438.2" y="49.4" width="0.6" height="0.6"/><rect x="433.8" y="56.9" width="0.6" height="0.6"/><rect x="436.1" y="51.0" width="0.6" height="0.6"/><rect x="433.9" y="57.9" width="0.6" height="0.6"/><rect x="439.0" y="46.6" width="0.6" height="0.6"/><rect x="435.0" y="62.6" width="0.6" height="0.6"/><rect x="435.4" y="51.9" width="0.6" height="0.6"/><rect x="438.4" y="42.6" width="0.6" height="0.6"/><rect x="441.7" y="44.5" width="0.6" height="0.6"/><rect x="450.8" y="44.7" width="0.6" height="0.6"/><rect x="435.6" y="50.2" width="0.6" height="0.6"/><rect x="442.7" y="41.7" width="0.6" height="0.6"/><rect x="440.7" y="43.6" width="0.6" height="0.6"/><rect x="433.8" y="56.3" width="0.6" height="0.6"/><rect x="434.1" y="46.3" width="0.6" height="0.6"/><rect x="438.0" y="60.6" width="0.6" height="0.6"/><rect x="443.0" y="41.3" width="0.6" height="0.6"/><rect x="450.6" y="47.0" width="0.6" height="0.6"/><rect x="436.8" y="49.7" width="0.6" height="0.6"/><rect x="439.3" y="63.1" width="0.6" height="0.6"/><rect x="450.9" y="43.0" width="0.6" height="0.6"/><rect x="433.1" y="59.1" width="0.6" height="0.6"/><rect x="438.4" y="49.1" width="0.6" height="0.6"/><rect x="435.3" y="49.9" width="0.6" height="0.6"/><rect x="434.7" y="61.0" width="0.6" height="0.6"/><rect x="436.6" y="45.5" width="0.6" height="0.6"/><rect x="450.4" y="42.9" width="0.6" height="0.6"/><rect x="440.9" y="40.6" width="0.6" height="0.6"/><rect x="437.4" y="50.7" width="0.6" height="0.6"/><rect x="448.7" y="43.7" width="0.6" height="0.6"/><rect x="440.0" y="43.0" width="0.6" height="0.6"/><rect x="437.3" y="47.8" width="0.6" height="0.6"/><rect x="437.9" y="45.3" width="0.6" height="0.6"/><rect x="435.5" y="55.0" width="0.6" height="0.6"/><rect x="446.8" y="41.9" width="0.6" height="0.6"/><rect x="436.3" y="61.2" width="0.6" height="0.6"/><rect x="435.9" y="49.9" width="0.6" height="0.6"/><rect x="435.0" y="53.7" width="0.6" height="0.6"/><rect x="434.0" y="53.1" width="0.6" height="0.6"/><rect x="442.0" y="41.8" width="0.6" height="0.6"/><rect x="437.3" y="45.8" width="0.6" height="0.6"/><rect x="436.6" y="52.6" width="0.6" height="0.6"/><rect x="435.4" y="47.3" width="0.6" height="0.6"/><rect x="440.1" y="53.6" width="0.6" height="0.6"/><rect x="436.5" y="52.2" width="0.6" height="0.6"/><rect x="436.4" y="50.3" width="0.6" height="0.6"/><rect x="439.7" y="57.7" width="0.6" height="0.6"/><rect x="437.9" y="44.4" width="0.6" height="0.6"/><rect x="446.2" y="44.6" width="0.6" height="0.6"/><rect x="434.3" y="59.1" width="0.6" height="0.6"/><rect x="434.6" y="49.4" width="0.6" height="0.6"/><rect x="434.9" y="46.2" width="0.6" height="0.6"/><rect x="434.6" y="63.2" width="0.6" height="0.6"/><rect x="435.3" y="47.3" width="0.6" height="0.6"/><rect x="436.3" y="62.0" width="0.6" height="0.6"/><rect x="449.8" y="41.4" width="0.6" height="0.6"/><rect x="434.4" y="50.3" width="0.6" height="0.6"/><rect x="432.5" y="56.9" width="0.6" height="0.6"/><rect x="438.1" y="51.8" width="0.6" height="0.6"/><rect x="437.3" y="60.9" width="0.6" height="0.6"/><rect x="434.8" y="46.8" width="0.6" height="0.6"/><rect x="435.0" y="56.9" width="0.6" height="0.6"/><rect x="435.3" y="63.8" width="0.6" height="0.6"/><rect x="438.1" y="58.9" width="0.6" height="0.6"/><rect x="436.9" y="58.3" width="0.6" height="0.6"/><rect x="443.8" y="43.5" width="0.6" height="0.6"/><rect x="441.7" y="41.4" width="0.6" height="0.6"/><rect x="437.6" y="50.1" width="0.6" height="0.6"/><rect x="445.5" y="41.0" width="0.6" height="0.6"/><rect x="441.4" y="43.9" width="0.6" height="0.6"/><rect x="433.3" y="58.3" width="0.6" height="0.6"/><rect x="434.7" y="51.4" width="0.6" height="0.6"/><rect x="443.7" y="44.7" width="0.6" height="0.6"/><rect x="437.2" y="60.8" width="0.6" height="0.6"/><rect x="438.6" y="60.6" width="0.6" height="0.6"/><rect x="452.3" y="44.4" width="0.6" height="0.6"/><rect x="441.3" y="40.8" width="0.6" height="0.6"/><rect x="434.9" y="51.1" width="0.6" height="0.6"/><rect x="437.1" y="45.9" width="0.6" height="0.6"/><rect x="444.5" y="41.3" width="0.6" height="0.6"/><rect x="435.1" y="61.4" width="0.6" height="0.6"/><rect x="435.5" y="51.6" width="0.6" height="0.6"/><rect x="440.9" y="43.0" width="0.6" height="0.6"/><rect x="452.2" y="44.5" width="0.6" height="0.6"/></g>
<g fill="#333" fill-opacity="0.22"><rect x="440.3" y="57.5" width="0.6" height="0.6"/><rect x="441.0" y="44.8" width="0.6" height="0.6"/><rect x="440.6" y="58.3" width="0.6" height="0.6"/><rect x="441.2" y="56.8" width="0.6" height="0.6"/><rect x="440.1" y="58.7" width="0.6" height="0.6"/><rect x="440.8" y="54.6" width="0.6" height="0.6"/><rect x="439.7" y="51.5" width="0.6" height="0.6"/><rect x="449.9" y="46.6" width="0.6" height="0.6"/><rect x="441.3" y="53.3" width="0.6" height="0.6"/><rect x="440.4" y="59.2" width="0.6" height="0.6"/><rect x="452.2" y="49.2" width="0.6" height="0.6"/><rect x="439.9" y="56.1" width="0.6" height="0.6"/><rect x="452.9" y="46.2" width="0.6" height="0.6"/><rect x="445.6" y="45.6" width="0.6" height="0.6"/><rect x="442.3" y="49.8" width="0.6" height="0.6"/><rect x="439.1" y="61.0" width="0.6" height="0.6"/><rect x="440.0" y="49.7" width="0.6" height="0.6"/><rect x="443.7" y="45.8" width="0.6" height="0.6"/><rect x="451.8" y="47.3" width="0.6" height="0.6"/><rect x="448.4" y="46.3" width="0.6" height="0.6"/><rect x="440.2" y="52.7" width="0.6" height="0.6"/><rect x="453.5" y="48.0" width="0.6" height="0.6"/><rect x="439.7" y="53.1" width="0.6" height="0.6"/><rect x="452.2" y="50.1" width="0.6" height="0.6"/><rect x="443.0" y="46.0" width="0.6" height="0.6"/><rect x="437.5" y="51.9" width="0.6" height="0.6"/><rect x="446.6" y="47.7" width="0.6" height="0.6"/><rect x="453.7" y="46.7" width="0.6" height="0.6"/><rect x="439.7" y="55.0" width="0.6" height="0.6"/><rect x="453.3" y="50.1" width="0.6" height="0.6"/><rect x="441.0" y="47.6" width="0.6" height="0.6"/><rect x="446.3" y="48.6" width="0.6" height="0.6"/><rect x="449.5" y="49.0" width="0.6" height="0.6"/><rect x="441.7" y="60.0" width="0.6" height="0.6"/><rect x="437.1" y="53.8" width="0.6" height="0.6"/><rect x="450.4" y="47.8" width="0.6" height="0.6"/><rect x="440.3" y="47.6" width="0.6" height="0.6"/><rect x="439.8" y="57.4" width="0.6" height="0.6"/><rect x="446.3" y="47.6" width="0.6" height="0.6"/><rect x="439.0" y="56.8" width="0.6" height="0.6"/><rect x="440.4" y="52.9" width="0.6" height="0.6"/><rect x="441.4" y="48.3" width="0.6" height="0.6"/><rect x="441.5" y="60.6" width="0.6" height="0.6"/><rect x="444.1" y="48.0" width="0.6" height="0.6"/><rect x="439.6" y="61.2" width="0.6" height="0.6"/><rect x="442.9" y="61.0" width="0.6" height="0.6"/><rect x="446.9" y="47.0" width="0.6" height="0.6"/><rect x="438.6" y="59.7" width="0.6" height="0.6"/><rect x="439.2" y="46.5" width="0.6" height="0.6"/><rect x="437.6" y="50.6" width="0.6" height="0.6"/><rect x="452.6" y="48.8" width="0.6" height="0.6"/><rect x="453.5" y="46.8" width="0.6" height="0.6"/><rect x="437.4" y="51.8" width="0.6" height="0.6"/><rect x="441.5" y="50.2" width="0.6" height="0.6"/><rect x="446.3" y="47.2" width="0.6" height="0.6"/><rect x="438.0" y="53.4" width="0.6" height="0.6"/><rect x="440.6" y="53.0" width="0.6" height="0.6"/><rect x="440.3" y="48.8" width="0.6" height="0.6"/><rect x="438.0" y="49.8" width="0.6" height="0.6"/><rect x="441.6" y="52.5" width="0.6" height="0.6"/><rect x="443.7" y="44.5" width="0.6" height="0.6"/><rect x="447.8" y="45.9" width="0.6" height="0.6"/><rect x="453.3" y="49.3" width="0.6" height="0.6"/><rect x="443.6" y="47.0" width="0.6" height="0.6"/><rect x="439.7" y="59.7" width="0.6" height="0.6"/><rect x="439.2" y="54.8" width="0.6" height="0.6"/><rect x="439.0" y="56.4" width="0.6" height="0.6"/><rect x="439.2" y="48.5" width="0.6" height="0.6"/><rect x="451.4" y="48.7" width="0.6" height="0.6"/><rect x="445.4" y="47.2" width="0.6" height="0.6"/><rect x="440.7" y="49.1" width="0.6" height="0.6"/><rect x="439.7" y="50.8" width="0.6" height="0.6"/><rect x="440.9" y="50.1" width="0.6" height="0.6"/><rect x="437.4" y="59.0" width="0.6" height="0.6"/><rect x="439.1" y="56.4" width="0.6" height="0.6"/><rect x="438.6" y="54.7" width="0.6" height="0.6"/><rect x="451.3" y="47.5" width="0.6" height="0.6"/><rect x="439.6" y="51.4" width="0.6" height="0.6"/><rect x="441.1" y="61.6" width="0.6" height="0.6"/><rect x="438.8" y="57.8" width="0.6" height="0.6"/><rect x="440.2" y="54.0" width="0.6" height="0.6"/><rect x="452.2" y="47.4" width="0.6" height="0.6"/><rect x="444.6" y="45.1" width="0.6" height="0.6"/><rect x="451.9" y="48.5" width="0.6" height="0.6"/><rect x="438.3" y="58.9" width="0.6" height="0.6"/><rect x="451.4" y="47.8" width="0.6" height="0.6"/><rect x="451.3" y="46.6" width="0.6" height="0.6"/><rect x="446.3" y="47.3" width="0.6" height="0.6"/><rect x="441.7" y="48.2" width="0.6" height="0.6"/><rect x="450.8" y="48.2" width="0.6" height="0.6"/><rect x="446.6" y="46.4" width="0.6" height="0.6"/><rect x="452.5" y="47.8" width="0.6" height="0.6"/><rect x="437.8" y="58.3" width="0.6" height="0.6"/><rect x="440.4" y="49.9" width="0.6" height="0.6"/><rect x="439.4" y="49.0" width="0.6" height="0.6"/><rect x="442.9" y="47.5" width="0.6" height="0.6"/><rect x="450.8" y="46.8" width="0.6" height="0.6"/><rect x="442.1" y="60.5" width="0.6" height="0.6"/><rect x="444.7" y="47.8" width="0.6" height="0.6"/><rect x="443.7" y="47.1" width="0.6" height="0.6"/><rect x="440.2" y="50.9" width="0.6" height="0.6"/><rect x="450.1" y="47.5" width="0.6" height="0.6"/><rect x="439.4" y="53.0" width="0.6" height="0.6"/><rect x="439.3" y="58.2" width="0.6" height="0.6"/><rect x="450.9" y="47.9" width="0.6" height="0.6"/><rect x="453.0" y="47.9" width="0.6" height="0.6"/><rect x="440.8" y="50.0" width="0.6" height="0.6"/><rect x="449.4" y="47.8" width="0.6" height="0.6"/><rect x="447.3" y="46.6" width="0.6" height="0.6"/><rect x="447.9" y="46.4" width="0.6" height="0.6"/><rect x="437.9" y="58.4" width="0.6" height="0.6"/><rect x="451.8" y="46.3" width="0.6" height="0.6"/><rect x="446.7" y="47.0" width="0.6" height="0.6"/><rect x="440.5" y="49.9" width="0.6" height="0.6"/><rect x="439.9" y="51.2" width="0.6" height="0.6"/><rect x="439.5" y="55.5" width="0.6" height="0.6"/><rect x="438.6" y="56.6" width="0.6" height="0.6"/><rect x="439.7" y="59.5" width="0.6" height="0.6"/><rect x="450.8" y="48.7" width="0.6" height="0.6"/><rect x="441.9" y="47.3" width="0.6" height="0.6"/><rect x="448.8" y="48.3" width="0.6" height="0.6"/><rect x="440.5" y="59.9" width="0.6" height="0.6"/><rect x="447.8" y="47.0" width="0.6" height="0.6"/><rect x="441.7" y="50.3" width="0.6" height="0.6"/><rect x="450.4" y="48.6" width="0.6" height="0.6"/><rect x="449.2" y="47.0" width="0.6" height="0.6"/><rect x="443.8" y="49.5" width="0.6" height="0.6"/><rect x="439.4" y="54.9" width="0.6" height="0.6"/><rect x="439.2" y="55.1" width="0.6" height="0.6"/><rect x="450.0" y="46.7" width="0.6" height="0.6"/><rect x="451.3" y="48.3" width="0.6" height="0.6"/><rect x="440.2" y="57.0" width="0.6" height="0.6"/><rect x="439.3" y="49.2" width="0.6" height="0.6"/><rect x="442.8" y="46.9" width="0.6" height="0.6"/><rect x="451.4" y="46.6" width="0.6" height="0.6"/><rect x="441.5" y="48.0" width="0.6" height="0.6"/><rect x="451.7" y="49.0" width="0.6" height="0.6"/><rect x="439.7" y="62.0" width="0.6" height="0.6"/><rect x="439.7" y="52.8" width="0.6" height="0.6"/><rect x="441.7" y="49.2" width="0.6" height="0.6"/><rect x="439.9" y="47.6" width="0.6" height="0.6"/><rect x="447.8" y="48.5" width="0.6" height="0.6"/><rect x="438.7" y="48.3" width="0.6" height="0.6"/><rect x="439.0" y="59.5" width="0.6" height="0.6"/><rect x="441.4" y="51.6" width="0.6" height="0.6"/><rect x="440.3" y="53.8" width="0.6" height="0.6"/><rect x="448.7" y="47.2" width="0.6" height="0.6"/><rect x="440.2" y="58.2" width="0.6" height="0.6"/><rect x="440.2" y="59.8" width="0.6" height="0.6"/><rect x="452.5" y="50.2" width="0.6" height="0.6"/><rect x="441.1" y="50.8" width="0.6" height="0.6"/><rect x="440.1" y="51.1" width="0.6" height="0.6"/><rect x="439.7" y="57.9" width="0.6" height="0.6"/><rect x="450.8" y="49.5" width="0.6" height="0.6"/><rect x="441.7" y="58.7" width="0.6" height="0.6"/><rect x="439.7" y="60.6" width="0.6" height="0.6"/><rect x="440.1" y="48.4" width="0.6" height="0.6"/><rect x="438.9" y="57.8" width="0.6" height="0.6"/><rect x="439.8" y="52.2" width="0.6" height="0.6"/><rect x="440.1" y="58.1" width="0.6" height="0.6"/><rect x="438.8" y="50.8" width="0.6" height="0.6"/><rect x="442.6" y="45.8" width="0.6" height="0.6"/><rect x="453.5" y="46.9" width="0.6" height="0.6"/><rect x="447.3" y="48.3" width="0.6" height="0.6"/><rect x="451.0" y="45.8" width="0.6" height="0.6"/><rect x="437.2" y="54.5" width="0.6" height="0.6"/><rect x="440.1" y="50.6" width="0.6" height="0.6"/><rect x="440.7" y="50.7" width="0.6" height="0.6"/><rect x="451.2" y="50.5" width="0.6" height="0.6"/><rect x="444.6" y="45.3" width="0.6" height="0.6"/><rect x="445.4" y="46.6" width="0.6" height="0.6"/><rect x="446.8" y="47.7" width="0.6" height="0.6"/><rect x="453.1" y="49.8" width="0.6" height="0.6"/><rect x="452.0" y="48.9" width="0.6" height="0.6"/><rect x="440.4" y="49.8" width="0.6" height="0.6"/><rect x="438.9" y="51.6" width="0.6" height="0.6"/><rect x="439.4" y="52.4" width="0.6" height="0.6"/><rect x="438.8" y="51.9" width="0.6" height="0.6"/><rect x="441.6" y="48.5" width="0.6" height="0.6"/><rect x="444.8" y="48.4" width="0.6" height="0.6"/><rect x="451.0" y="48.0" width="0.6" height="0.6"/><rect x="439.6" y="52.2" width="0.6" height="0.6"/><rect x="442.6" y="49.1" width="0.6" height="0.6"/><rect x="437.4" y="59.5" width="0.6" height="0.6"/><rect x="442.0" y="48.2" width="0.6" height="0.6"/><rect x="444.5" y="46.3" width="0.6" height="0.6"/><rect x="444.4" y="47.8" width="0.6" height="0.6"/><rect x="440.8" y="49.7" width="0.6" height="0.6"/><rect x="446.6" y="46.9" width="0.6" height="0.6"/><rect x="438.6" y="56.7" width="0.6" height="0.6"/><rect x="444.8" y="46.5" width="0.6" height="0.6"/><rect x="453.3" y="46.5" width="0.6" height="0.6"/><rect x="445.8" y="44.6" width="0.6" height="0.6"/><rect x="446.5" y="49.5" width="0.6" height="0.6"/><rect x="439.7" y="53.1" width="0.6" height="0.6"/><rect x="438.2" y="59.7" width="0.6" height="0.6"/><rect x="437.7" y="60.5" width="0.6" height="0.6"/><rect x="443.0" y="47.2" width="0.6" height="0.6"/><rect x="450.2" y="48.7" width="0.6" height="0.6"/><rect x="439.1" y="61.0" width="0.6" height="0.6"/><rect x="441.5" y="57.6" width="0.6" height="0.6"/><rect x="444.4" y="46.7" width="0.6" height="0.6"/><rect x="442.7" y="46.5" width="0.6" height="0.6"/><rect x="439.8" y="60.2" width="0.6" height="0.6"/><rect x="439.3" y="54.6" width="0.6" height="0.6"/><rect x="437.8" y="53.1" width="0.6" height="0.6"/><rect x="439.9" y="51.0" width="0.6" height="0.6"/><rect x="438.5" y="60.1" width="0.6" height="0.6"/><rect x="441.8" y="46.6" width="0.6" height="0.6"/><rect x="440.4" y="51.7" width="0.6" height="0.6"/><rect x="442.6" y="48.2" width="0.6" height="0.6"/><rect x="438.6" y="53.2" width="0.6" height="0.6"/><rect x="453.9" y="47.0" width="0.6" height="0.6"/><rect x="451.6" y="49.9" width="0.6" height="0.6"/><rect x="439.9" y="59.5" width="0.6" height="0.6"/><rect x="438.9" y="49.6" width="0.6" height="0.6"/><rect x="440.1" y="61.2" width="0.6" height="0.6"/><rect x="443.0" y="49.1" width="0.6" height="0.6"/><rect x="438.2" y="60.3" width="0.6" height="0.6"/><rect x="450.9" y="46.8" width="0.6" height="0.6"/><rect x="436.9" y="62.1" width="0.6" height="0.6"/><rect x="439.3" y="61.9" width="0.6" height="0.6"/><rect x="437.8" y="55.9" width="0.6" height="0.6"/><rect x="442.8" y="49.5" width="0.6" height="0.6"/><rect x="440.1" y="57.2" width="0.6" height="0.6"/><rect x="439.6" y="58.0" width="0.6" height="0.6"/><rect x="451.8" y="48.7" width="0.6" height="0.6"/><rect x="453.0" y="46.8" width="0.6" height="0.6"/><rect x="451.2" y="49.2" width="0.6" height="0.6"/><rect x="440.3" y="54.7" width="0.6" height="0.6"/><rect x="440.9" y="55.6" width="0.6" height="0.6"/><rect x="448.8" y="45.8" width="0.6" height="0.6"/><rect x="451.9" y="48.3" width="0.6" height="0.6"/><rect x="447.7" y="46.2" width="0.6" height="0.6"/><rect x="437.9" y="56.3" width="0.6" height="0.6"/><rect x="441.6" y="47.9" width="0.6" height="0.6"/><rect x="447.0" y="47.9" width="0.6" height="0.6"/><rect x="438.8" y="56.5" width="0.6" height="0.6"/><rect x="437.3" y="56.0" width="0.6" height="0.6"/><rect x="442.4" y="44.3" width="0.6" height="0.6"/><rect x="438.0" y="59.0" width="0.6" height="0.6"/><rect x="441.9" y="51.4" width="0.6" height="0.6"/><rect x="439.6" y="50.3" width="0.6" height="0.6"/><rect x="441.5" y="59.1" width="0.6" height="0.6"/><rect x="440.5" y="48.2" width="0.6" height="0.6"/><rect x="440.6" y="49.7" width="0.6" height="0.6"/><rect x="440.2" y="55.8" width="0.6" height="0.6"/><rect x="439.7" y="46.0" width="0.6" height="0.6"/><rect x="442.1" y="45.2" width="0.6" height="0.6"/><rect x="439.7" y="55.8" width="0.6" height="0.6"/><rect x="439.5" y="60.8" width="0.6" height="0.6"/><rect x="437.8" y="58.3" width="0.6" height="0.6"/><rect x="439.7" y="47.8" width="0.6" height="0.6"/><rect x="450.2" y="47.2" width="0.6" height="0.6"/><rect x="438.5" y="51.4" width="0.6" height="0.6"/><rect x="452.6" y="49.7" width="0.6" height="0.6"/><rect x="441.4" y="51.8" width="0.6" height="0.6"/><rect x="448.7" y="46.1" width="0.6" height="0.6"/><rect x="439.6" y="48.7" width="0.6" height="0.6"/><rect x="453.9" y="46.0" width="0.6" height="0.6"/><rect x="447.7" y="45.0" width="0.6" height="0.6"/><rect x="439.7" y="56.6" width="0.6" height="0.6"/><rect x="440.1" y="48.4" width="0.6" height="0.6"/><rect x="439.1" y="62.1" width="0.6" height="0.6"/><rect x="440.4" y="56.9" width="0.6" height="0.6"/><rect x="438.7" y="57.5" width="0.6" height="0.6"/><rect x="447.9" y="45.5" width="0.6" height="0.6"/><rect x="440.0" y="56.6" width="0.6" height="0.6"/><rect x="438.9" y="53.0" width="0.6" height="0.6"/><rect x="440.0" y="58.0" width="0.6" height="0.6"/><rect x="438.7" y="56.6" width="0.6" height="0.6"/><rect x="443.1" y="49.4" width="0.6" height="0.6"/><rect x="441.8" y="47.5" width="0.6" height="0.6"/><rect x="451.7" y="48.5" width="0.6" height="0.6"/><rect x="442.5" y="52.5" width="0.6" height="0.6"/><rect x="439.4" y="58.3" width="0.6" height="0.6"/><rect x="441.7" y="45.2" width="0.6" height="0.6"/><rect x="445.8" y="44.9" width="0.6" height="0.6"/><rect x="439.0" y="52.8" width="0.6" height="0.6"/><rect x="453.3" y="46.2" width="0.6" height="0.6"/><rect x="440.6" y="49.4" width="0.6" height="0.6"/><rect x="439.5" y="60.9" width="0.6" height="0.6"/><rect x="438.9" y="48.3" width="0.6" height="0.6"/><rect x="439.7" y="54.1" width="0.6" height="0.6"/><rect x="437.8" y="49.8" width="0.6" height="0.6"/><rect x="437.2" y="53.1" width="0.6" height="0.6"/><rect x="439.1" y="53.2" width="0.6" height="0.6"/><rect x="438.9" y="56.6" width="0.6" height="0.6"/><rect x="449.5" y="47.2" width="0.6" height="0.6"/><rect x="439.3" y="50.1" width="0.6" height="0.6"/><rect x="445.7" y="45.0" width="0.6" height="0.6"/><rect x="449.6" y="49.3" width="0.6" height="0.6"/><rect x="439.9" y="57.2" width="0.6" height="0.6"/><rect x="438.8" y="58.9" width="0.6" height="0.6"/><rect x="443.9" y="50.6" width="0.6" height="0.6"/><rect x="443.7" y="45.9" width="0.6" height="0.6"/><rect x="445.8" y="44.9" width="0.6" height="0.6"/><rect x="441.2" y="48.0" width="0.6" height="0.6"/><rect x="453.7" y="46.4" width="0.6" height="0.6"/><rect x="440.5" y="52.7" width="0.6" height="0.6"/></g>
<g fill="#333" fill-opacity="0.3"><rect x="446.4" y="58.0" width="0.6" height="0.6"/><rect x="449.8" y="57.2" width="0.6" height="0.6"/><rect x="448.1" y="60.5" width="0.6" height="0.6"/><rect x="448.2" y="57.0" width="0.6" height="0.6"/><rect x="448.1" y="58.4" width="0.6" height="0.6"/><rect x="448.4" y="56.4" width="0.6" height="0.6"/><rect x="450.6" y="56.5" width="0.6" height="0.6"/><rect x="450.4" y="55.7" width="0.6" height="0.6"/><rect x="447.2" y="56.1" width="0.6" height="0.6"/><rect x="449.2" y="57.0" width="0.6" height="0.6"/><rect x="446.3" y="56.8" width="0.6" height="0.6"/><rect x="447.7" y="58.9" width="0.6" height="0.6"/><rect x="448.6" y="59.1" width="0.6" height="0.6"/><rect x="449.9" y="58.9" width="0.6" height="0.6"/><rect x="445.3" y="55.2" width="0.6" height="0.6"/><rect x="446.4" y="56.0" width="0.6" height="0.6"/><rect x="445.9" y="56.1" width="0.6" height="0.6"/><rect x="446.0" y="54.7" width="0.6" height="0.6"/><rect x="450.4" y="56.0" width="0.6" height="0.6"/><rect x="448.8" y="57.5" width="0.6" height="0.6"/><rect x="449.0" y="54.9" width="0.6" height="0.6"/><rect x="449.4" y="59.5" width="0.6" height="0.6"/><rect x="450.0" y="57.4" width="0.6" height="0.6"/><rect x="448.3" y="60.0" width="0.6" height="0.6"/><rect x="449.5" y="58.2" width="0.6" height="0.6"/><rect x="449.5" y="56.0" width="0.6" height="0.6"/><rect x="449.5" y="56.2" width="0.6" height="0.6"/><rect x="449.4" y="58.0" width="0.6" height="0.6"/><rect x="446.9" y="56.4" width="0.6" height="0.6"/><rect x="450.4" y="57.4" width="0.6" height="0.6"/><rect x="446.1" y="58.1" width="0.6" height="0.6"/><rect x="447.1" y="58.2" width="0.6" height="0.6"/><rect x="447.7" y="58.6" width="0.6" height="0.6"/><rect x="449.8" y="57.1" width="0.6" height="0.6"/><rect x="449.2" y="56.4" width="0.6" height="0.6"/><rect x="444.7" y="58.6" width="0.6" height="0.6"/><rect x="447.6" y="56.4" width="0.6" height="0.6"/><rect x="450.6" y="59.5" width="0.6" height="0.6"/><rect x="447.1" y="59.3" width="0.6" height="0.6"/><rect x="449.4" y="56.6" width="0.6" height="0.6"/><rect x="447.7" y="57.8" width="0.6" height="0.6"/><rect x="448.2" y="56.8" width="0.6" height="0.6"/><rect x="447.9" y="57.1" width="0.6" height="0.6"/><rect x="449.9" y="58.9" width="0.6" height="0.6"/><rect x="448.2" y="57.7" width="0.6" height="0.6"/><rect x="449.1" y="58.0" width="0.6" height="0.6"/><rect x="449.4" y="57.3" width="0.6" height="0.6"/><rect x="448.8" y="58.1" width="0.6" height="0.6"/><rect x="447.2" y="58.1" width="0.6" height="0.6"/><rect x="446.6" y="56.7" width="0.6" height="0.6"/><rect x="445.7" y="56.5" width="0.6" height="0.6"/><rect x="447.9" y="57.2" width="0.6" height="0.6"/><rect x="449.8" y="58.8" width="0.6" height="0.6"/><rect x="447.0" y="57.3" width="0.6" height="0.6"/><rect x="450.1" y="56.4" width="0.6" height="0.6"/><rect x="446.2" y="57.2" width="0.6" height="0.6"/><rect x="450.5" y="56.4" width="0.6" height="0.6"/><rect x="447.9" y="55.6" width="0.6" height="0.6"/><rect x="446.4" y="56.9" width="0.6" height="0.6"/><rect x="445.0" y="56.2" width="0.6" height="0.6"/><rect x="447.5" y="57.2" width="0.6" height="0.6"/><rect x="447.3" y="59.4" width="0.6" height="0.6"/><rect x="448.3" y="58.2" width="0.6" height="0.6"/><rect x="449.4" y="59.2" width="0.6" height="0.6"/><rect x="448.3" y="54.9" width="0.6" height="0.6"/><rect x="446.1" y="55.7" width="0.6" height="0.6"/><rect x="448.5" y="59.1" width="0.6" height="0.6"/><rect x="445.6" y="57.5" width="0.6" height="0.6"/><rect x="449.0" y="57.0" width="0.6" height="0.6"/><rect x="450.5" y="57.0" width="0.6" height="0.6"/><rect x="449.6" y="58.3" width="0.6" height="0.6"/><rect x="446.2" y="54.8" width="0.6" height="0.6"/><rect x="449.0" y="55.8" width="0.6" height="0.6"/><rect x="448.4" y="56.5" width="0.6" height="0.6"/><rect x="449.0" y="57.0" width="0.6" height="0.6"/><rect x="447.7" y="57.1" width="0.6" height="0.6"/><rect x="448.7" y="57.0" width="0.6" height="0.6"/><rect x="449.5" y="55.8" width="0.6" height="0.6"/><rect x="446.8" y="57.3" width="0.6" height="0.6"/><rect x="447.2" y="56.1" width="0.6" height="0.6"/><rect x="447.2" y="56.6" width="0.6" height="0.6"/><rect x="449.4" y="58.5" width="0.6" height="0.6"/><rect x="447.9" y="56.7" width="0.6" height="0.6"/><rect x="448.6" y="55.8" width="0.6" height="0.6"/><rect x="448.8" y="57.4" width="0.6" height="0.6"/><rect x="444.5" y="56.7" width="0.6" height="0.6"/><rect x="451.5" y="58.1" width="0.6" height="0.6"/><rect x="446.9" y="56.2" width="0.6" height="0.6"/><rect x="446.1" y="57.8" width="0.6" height="0.6"/><rect x="448.5" y="57.4" width="0.6" height="0.6"/><rect x="447.8" y="57.8" width="0.6" height="0.6"/><rect x="449.2" y="57.7" width="0.6" height="0.6"/><rect x="446.2" y="56.7" width="0.6" height="0.6"/><rect x="449.1" y="59.1" width="0.6" height="0.6"/><rect x="450.0" y="56.9" width="0.6" height="0.6"/><rect x="446.3" y="59.3" width="0.6" height="0.6"/><rect x="449.9" y="56.7" width="0.6" height="0.6"/><rect x="450.9" y="58.8" width="0.6" height="0.6"/><rect x="447.2" y="57.2" width="0.6" height="0.6"/><rect x="448.9" y="57.1" width="0.6" height="0.6"/><rect x="447.1" y="59.9" width="0.6" height="0.6"/><rect x="446.6" y="56.3" width="0.6" height="0.6"/><rect x="446.0" y="57.0" width="0.6" height="0.6"/><rect x="446.6" y="56.8" width="0.6" height="0.6"/><rect x="448.3" y="56.1" width="0.6" height="0.6"/><rect x="448.7" y="56.0" width="0.6" height="0.6"/><rect x="447.0" y="56.9" width="0.6" height="0.6"/><rect x="447.8" y="59.7" width="0.6" height="0.6"/><rect x="450.6" y="54.2" width="0.6" height="0.6"/><rect x="451.6" y="57.9" width="0.6" height="0.6"/><rect x="447.8" y="56.0" width="0.6" height="0.6"/><rect x="451.2" y="56.6" width="0.6" height="0.6"/><rect x="447.9" y="55.5" width="0.6" height="0.6"/><rect x="446.1" y="54.8" width="0.6" height="0.6"/><rect x="446.6" y="56.8" width="0.6" height="0.6"/><rect x="448.3" y="58.9" width="0.6" height="0.6"/><rect x="450.5" y="58.2" width="0.6" height="0.6"/><rect x="448.1" y="59.2" width="0.6" height="0.6"/><rect x="448.4" y="56.3" width="0.6" height="0.6"/><rect x="449.6" y="56.8" width="0.6" height="0.6"/><rect x="451.3" y="59.8" width="0.6" height="0.6"/><rect x="447.4" y="58.5" width="0.6" height="0.6"/><rect x="450.2" y="58.2" width="0.6" height="0.6"/><rect x="450.0" y="57.2" width="0.6" height="0.6"/><rect x="446.5" y="58.4" width="0.6" height="0.6"/><rect x="448.5" y="55.8" width="0.6" height="0.6"/><rect x="448.2" y="56.8" width="0.6" height="0.6"/><rect x="451.5" y="54.1" width="0.6" height="0.6"/><rect x="450.6" y="57.6" width="0.6" height="0.6"/><rect x="449.9" y="57.8" width="0.6" height="0.6"/><rect x="446.4" y="59.2" width="0.6" height="0.6"/><rect x="446.8" y="59.3" width="0.6" height="0.6"/><rect x="446.8" y="54.5" width="0.6" height="0.6"/><rect x="447.8" y="55.7" width="0.6" height="0.6"/><rect x="448.5" y="58.2" width="0.6" height="0.6"/><rect x="446.0" y="58.7" width="0.6" height="0.6"/><rect x="447.8" y="56.5" width="0.6" height="0.6"/><rect x="449.5" y="58.9" width="0.6" height="0.6"/><rect x="448.4" y="55.8" width="0.6" height="0.6"/><rect x="450.3" y="58.1" width="0.6" height="0.6"/><rect x="446.3" y="56.8" width="0.6" height="0.6"/><rect x="448.3" y="58.8" width="0.6" height="0.6"/><rect x="446.2" y="57.9" width="0.6" height="0.6"/><rect x="451.6" y="59.5" width="0.6" height="0.6"/><rect x="447.0" y="59.1" width="0.6" height="0.6"/><rect x="447.3" y="58.0" width="0.6" height="0.6"/><rect x="449.7" y="58.1" width="0.6" height="0.6"/><rect x="450.4" y="58.7" width="0.6" height="0.6"/><rect x="449.5" y="57.4" width="0.6" height="0.6"/><rect x="446.8" y="57.3" width="0.6" height="0.6"/><rect x="450.5" y="57.6" width="0.6" height="0.6"/><rect x="447.5" y="56.3" width="0.6" height="0.6"/><rect x="446.4" y="58.0" width="0.6" height="0.6"/><rect x="446.4" y="57.8" width="0.6" height="0.6"/><rect x="448.1" y="59.4" width="0.6" height="0.6"/><rect x="448.7" y="55.9" width="0.6" height="0.6"/><rect x="449.0" y="57.7" width="0.6" height="0.6"/><rect x="447.6" y="57.8" width="0.6" height="0.6"/><rect x="447.8" y="59.7" width="0.6" height="0.6"/><rect x="449.5" y="58.0" width="0.6" height="0.6"/><rect x="446.2" y="58.5" width="0.6" height="0.6"/><rect x="450.8" y="56.6" width="0.6" height="0.6"/><rect x="446.7" y="56.0" width="0.6" height="0.6"/><rect x="447.1" y="57.9" width="0.6" height="0.6"/><rect x="447.4" y="56.3" width="0.6" height="0.6"/><rect x="450.7" y="57.6" width="0.6" height="0.6"/><rect x="447.6" y="57.3" width="0.6" height="0.6"/><rect x="447.5" y="57.7" width="0.6" height="0.6"/><rect x="448.7" y="54.8" width="0.6" height="0.6"/><rect x="450.0" y="57.0" width="0.6" height="0.6"/><rect x="446.8" y="58.1" width="0.6" height="0.6"/><rect x="449.6" y="57.6" width="0.6" height="0.6"/><rect x="448.5" y="56.0" width="0.6" height="0.6"/><rect x="445.6" y="58.4" width="0.6" height="0.6"/><rect x="448.7" y="58.1" width="0.6" height="0.6"/><rect x="447.2" y="58.1" width="0.6" height="0.6"/><rect x="452.0" y="56.2" width="0.6" height="0.6"/><rect x="446.5" y="57.0" width="0.6" height="0.6"/><rect x="451.1" y="60.1" width="0.6" height="0.6"/><rect x="447.5" y="59.1" width="0.6" height="0.6"/><rect x="447.8" y="57.2" width="0.6" height="0.6"/><rect x="446.8" y="57.3" width="0.6" height="0.6"/><rect x="444.2" y="57.6" width="0.6" height="0.6"/><rect x="448.0" y="55.3" width="0.6" height="0.6"/><rect x="448.2" y="56.2" width="0.6" height="0.6"/><rect x="447.6" y="56.1" width="0.6" height="0.6"/><rect x="449.4" y="55.5" width="0.6" height="0.6"/><rect x="447.0" y="57.9" width="0.6" height="0.6"/><rect x="449.4" y="56.6" width="0.6" height="0.6"/><rect x="447.5" y="58.2" width="0.6" height="0.6"/><rect x="451.2" y="56.6" width="0.6" height="0.6"/><rect x="449.0" y="57.8" width="0.6" height="0.6"/><rect x="447.3" y="58.9" width="0.6" height="0.6"/><rect x="450.1" y="57.4" width="0.6" height="0.6"/><rect x="446.6" y="58.4" width="0.6" height="0.6"/><rect x="448.4" y="58.9" width="0.6" height="0.6"/><rect x="444.6" y="56.6" width="0.6" height="0.6"/><rect x="446.7" y="58.0" width="0.6" height="0.6"/><rect x="448.4" y="57.4" width="0.6" height="0.6"/><rect x="449.6" y="56.2" width="0.6" height="0.6"/></g>
</g>
<rect x="457.2" y="38.6" width="1.1" height="39.8" fill="#d8d8d8"/>
<line x1="429.5" y1="49.9" x2="458.5" y2="49.9" stroke="#555" stroke-width="0.6" />
<line x1="440.4" y1="49.9" x2="440.4" y2="78.6" stroke="#999" stroke-width="0.6" />
<line x1="424.8" y1="37.8" x2="424.8" y2="78.6" stroke="#000" stroke-width="1.1" />
<line x1="424.3" y1="78.6" x2="458.0" y2="78.6" stroke="#000" stroke-width="1.1" />
<line x1="423.0" y1="38.7" x2="424.8" y2="38.7" stroke="#000" stroke-width="0.8" />
<text x="411.26" y="40.60" font-size="5.2" fill="#222" textLength="5.12" lengthAdjust="spacingAndGlyphs" >10</text>
<text x="416.6" y="38.300000000000004" font-size="3.4" text-anchor="start" font-weight="normal" fill="#222" >5</text>
<line x1="423.0" y1="49.2" x2="424.8" y2="49.2" stroke="#000" stroke-width="0.8" />
<text x="411.26" y="51.10" font-size="5.2" fill="#222" textLength="5.12" lengthAdjust="spacingAndGlyphs" >10</text>
<text x="416.6" y="48.800000000000004" font-size="3.4" text-anchor="start" font-weight="normal" fill="#222" >4</text>
<line x1="423.0" y1="59.5" x2="424.8" y2="59.5" stroke="#000" stroke-width="0.8" />
<text x="411.26" y="61.40" font-size="5.2" fill="#222" textLength="5.12" lengthAdjust="spacingAndGlyphs" >10</text>
<text x="416.6" y="59.1" font-size="3.4" text-anchor="start" font-weight="normal" fill="#222" >3</text>
<line x1="423.0" y1="70.4" x2="424.8" y2="70.4" stroke="#000" stroke-width="0.8" />
<text x="411.26" y="72.30" font-size="5.2" fill="#222" textLength="5.12" lengthAdjust="spacingAndGlyphs" >10</text>
<text x="416.6" y="70.0" font-size="3.4" text-anchor="start" font-weight="normal" fill="#222" >2</text>
<line x1="423.90000000000003" y1="40.5" x2="424.8" y2="40.5" stroke="#000" stroke-width="0.45" />
<line x1="423.90000000000003" y1="42" x2="424.8" y2="42" stroke="#000" stroke-width="0.45" />
<line x1="423.90000000000003" y1="43.5" x2="424.8" y2="43.5" stroke="#000" stroke-width="0.45" />
<line x1="423.90000000000003" y1="45" x2="424.8" y2="45" stroke="#000" stroke-width="0.45" />
<line x1="423.90000000000003" y1="46.5" x2="424.8" y2="46.5" stroke="#000" stroke-width="0.45" />
<line x1="423.90000000000003" y1="48" x2="424.8" y2="48" stroke="#000" stroke-width="0.45" />
<line x1="423.90000000000003" y1="51" x2="424.8" y2="51" stroke="#000" stroke-width="0.45" />
<line x1="423.90000000000003" y1="52.5" x2="424.8" y2="52.5" stroke="#000" stroke-width="0.45" />
<line x1="423.90000000000003" y1="54" x2="424.8" y2="54" stroke="#000" stroke-width="0.45" />
<line x1="423.90000000000003" y1="55.5" x2="424.8" y2="55.5" stroke="#000" stroke-width="0.45" />
<line x1="423.90000000000003" y1="57" x2="424.8" y2="57" stroke="#000" stroke-width="0.45" />
<line x1="423.90000000000003" y1="58" x2="424.8" y2="58" stroke="#000" stroke-width="0.45" />
<line x1="423.90000000000003" y1="61" x2="424.8" y2="61" stroke="#000" stroke-width="0.45" />
<line x1="423.90000000000003" y1="62.5" x2="424.8" y2="62.5" stroke="#000" stroke-width="0.45" />
<line x1="423.90000000000003" y1="64" x2="424.8" y2="64" stroke="#000" stroke-width="0.45" />
<line x1="423.90000000000003" y1="65.5" x2="424.8" y2="65.5" stroke="#000" stroke-width="0.45" />
<line x1="423.90000000000003" y1="67" x2="424.8" y2="67" stroke="#000" stroke-width="0.45" />
<line x1="423.90000000000003" y1="68.5" x2="424.8" y2="68.5" stroke="#000" stroke-width="0.45" />
<line x1="423.90000000000003" y1="72" x2="424.8" y2="72" stroke="#000" stroke-width="0.45" />
<line x1="423.90000000000003" y1="73.5" x2="424.8" y2="73.5" stroke="#000" stroke-width="0.45" />
<line x1="423.90000000000003" y1="75" x2="424.8" y2="75" stroke="#000" stroke-width="0.45" />
<line x1="423.90000000000003" y1="76.5" x2="424.8" y2="76.5" stroke="#000" stroke-width="0.45" />
<line x1="426.0" y1="78.6" x2="426.0" y2="79.8" stroke="#000" stroke-width="0.5" />
<line x1="428.2" y1="78.6" x2="428.2" y2="79.8" stroke="#000" stroke-width="0.5" />
<line x1="430.4" y1="78.6" x2="430.4" y2="79.8" stroke="#000" stroke-width="0.5" />
<line x1="432.6" y1="78.6" x2="432.6" y2="79.8" stroke="#000" stroke-width="0.5" />
<line x1="434.8" y1="78.6" x2="434.8" y2="79.8" stroke="#000" stroke-width="0.5" />
<line x1="437.0" y1="78.6" x2="437.0" y2="79.8" stroke="#000" stroke-width="0.5" />
<line x1="439.2" y1="78.6" x2="439.2" y2="79.8" stroke="#000" stroke-width="0.5" />
<line x1="441.4" y1="78.6" x2="441.4" y2="79.8" stroke="#000" stroke-width="0.5" />
<line x1="443.6" y1="78.6" x2="443.6" y2="79.8" stroke="#000" stroke-width="0.5" />
<line x1="445.8" y1="78.6" x2="445.8" y2="79.8" stroke="#000" stroke-width="0.5" />
<line x1="448.0" y1="78.6" x2="448.0" y2="79.8" stroke="#000" stroke-width="0.5" />
<line x1="450.2" y1="78.6" x2="450.2" y2="79.8" stroke="#000" stroke-width="0.5" />
<line x1="452.4" y1="78.6" x2="452.4" y2="79.8" stroke="#000" stroke-width="0.5" />
<line x1="454.6" y1="78.6" x2="454.6" y2="79.8" stroke="#000" stroke-width="0.5" />
<text x="433.5" y="42.5" font-size="3.4" text-anchor="start" font-weight="normal" fill="#333" >S</text>
<text x="457.0" y="42.5" font-size="3.4" text-anchor="end" font-weight="normal" fill="#333" >36.7%</text>
<text x="430.5" y="71" font-size="3.2" text-anchor="start" font-weight="normal" fill="#333" >G1</text>
<text x="430.5" y="74.8" font-size="3.2" text-anchor="start" font-weight="normal" fill="#333" >33.7%</text>
<text x="446.4" y="71" font-size="3.2" text-anchor="start" font-weight="normal" fill="#333" >G2/M</text>
<text x="446.4" y="74.8" font-size="3.2" text-anchor="start" font-weight="normal" fill="#333" >10.9%</text>
<text x="437.0" y="89.0" font-size="5.2" text-anchor="middle" font-weight="normal" fill="#222" >50</text>
<text x="450.2" y="89.0" font-size="5.2" text-anchor="middle" font-weight="normal" fill="#222" >100</text>
<text x="494.8" y="32.3" font-size="5" text-anchor="middle" font-weight="normal" fill="#222" textLength="21.8" lengthAdjust="spacingAndGlyphs" >shUBE2T</text>
<rect x="482" y="38.3" width="29" height="40.3" fill="none" stroke="#aaa" stroke-width="0.6"/>
<g filter="url(#bl5)">
<path d="M486.6,61 C486.2,55 486.2,49 488.2,46 C490.6,43.4 496,43 500,44" stroke="#8a8a8a" stroke-width="4.2" fill="none" stroke-linecap="round"/>
<path d="M485.8,59 C485.4,53 485.4,47.5 487.4,44.8 C490,42.6 495,42.2 499,42.8" stroke="#666" stroke-width="2.0" fill="none" stroke-linecap="round"/>
<rect x="493" y="50" width="9" height="10" fill="#ececec"/>
</g>
<g filter="url(#bl3)">
<g fill="#444" fill-opacity="0.22"><rect x="506.1" y="63.0" width="0.55" height="0.55"/><rect x="487.2" y="45.7" width="0.55" height="0.55"/><rect x="503.5" y="58.7" width="0.55" height="0.55"/><rect x="500.1" y="50.2" width="0.55" height="0.55"/><rect x="498.7" y="56.1" width="0.55" height="0.55"/><rect x="498.2" y="47.2" width="0.55" height="0.55"/><rect x="495.0" y="51.9" width="0.55" height="0.55"/><rect x="501.2" y="63.9" width="0.55" height="0.55"/><rect x="505.9" y="54.9" width="0.55" height="0.55"/><rect x="495.3" y="49.4" width="0.55" height="0.55"/><rect x="486.8" y="44.5" width="0.55" height="0.55"/><rect x="495.8" y="50.4" width="0.55" height="0.55"/><rect x="494.0" y="61.8" width="0.55" height="0.55"/><rect x="497.0" y="55.2" width="0.55" height="0.55"/><rect x="491.0" y="44.5" width="0.55" height="0.55"/><rect x="492.8" y="46.7" width="0.55" height="0.55"/><rect x="496.7" y="64.0" width="0.55" height="0.55"/><rect x="500.2" y="47.6" width="0.55" height="0.55"/><rect x="504.8" y="59.9" width="0.55" height="0.55"/><rect x="501.4" y="62.1" width="0.55" height="0.55"/><rect x="502.0" y="59.8" width="0.55" height="0.55"/><rect x="493.4" y="63.6" width="0.55" height="0.55"/><rect x="506.2" y="47.2" width="0.55" height="0.55"/><rect x="501.8" y="58.3" width="0.55" height="0.55"/><rect x="495.7" y="54.6" width="0.55" height="0.55"/><rect x="496.3" y="62.5" width="0.55" height="0.55"/><rect x="496.5" y="60.6" width="0.55" height="0.55"/><rect x="493.4" y="61.7" width="0.55" height="0.55"/><rect x="504.9" y="53.2" width="0.55" height="0.55"/><rect x="497.9" y="62.4" width="0.55" height="0.55"/><rect x="501.2" y="53.7" width="0.55" height="0.55"/><rect x="490.7" y="50.5" width="0.55" height="0.55"/><rect x="500.7" y="47.3" width="0.55" height="0.55"/><rect x="505.1" y="49.4" width="0.55" height="0.55"/><rect x="505.1" y="50.2" width="0.55" height="0.55"/><rect x="506.1" y="58.1" width="0.55" height="0.55"/><rect x="496.6" y="54.4" width="0.55" height="0.55"/><rect x="499.7" y="55.8" width="0.55" height="0.55"/><rect x="492.5" y="48.2" width="0.55" height="0.55"/><rect x="496.7" y="62.7" width="0.55" height="0.55"/><rect x="499.1" y="45.5" width="0.55" height="0.55"/><rect x="503.2" y="58.5" width="0.55" height="0.55"/><rect x="505.1" y="47.8" width="0.55" height="0.55"/><rect x="501.6" y="45.2" width="0.55" height="0.55"/><rect x="499.7" y="49.5" width="0.55" height="0.55"/><rect x="490.8" y="61.5" width="0.55" height="0.55"/><rect x="488.2" y="54.4" width="0.55" height="0.55"/><rect x="503.9" y="48.9" width="0.55" height="0.55"/><rect x="490.4" y="61.6" width="0.55" height="0.55"/><rect x="494.9" y="58.3" width="0.55" height="0.55"/><rect x="486.7" y="51.2" width="0.55" height="0.55"/><rect x="489.6" y="57.5" width="0.55" height="0.55"/><rect x="487.7" y="63.1" width="0.55" height="0.55"/><rect x="486.5" y="58.6" width="0.55" height="0.55"/><rect x="486.4" y="49.1" width="0.55" height="0.55"/><rect x="503.1" y="47.1" width="0.55" height="0.55"/><rect x="489.9" y="57.8" width="0.55" height="0.55"/><rect x="494.1" y="44.9" width="0.55" height="0.55"/><rect x="506.8" y="47.0" width="0.55" height="0.55"/><rect x="486.8" y="50.9" width="0.55" height="0.55"/><rect x="498.9" y="58.8" width="0.55" height="0.55"/><rect x="488.4" y="50.7" width="0.55" height="0.55"/><rect x="486.6" y="53.0" width="0.55" height="0.55"/><rect x="502.1" y="58.8" width="0.55" height="0.55"/><rect x="504.9" y="59.1" width="0.55" height="0.55"/><rect x="504.1" y="58.1" width="0.55" height="0.55"/><rect x="495.9" y="48.5" width="0.55" height="0.55"/><rect x="499.9" y="50.3" width="0.55" height="0.55"/><rect x="488.1" y="53.0" width="0.55" height="0.55"/><rect x="504.4" y="46.6" width="0.55" height="0.55"/><rect x="498.3" y="51.9" width="0.55" height="0.55"/><rect x="496.8" y="46.9" width="0.55" height="0.55"/><rect x="506.2" y="49.2" width="0.55" height="0.55"/><rect x="498.7" y="52.4" width="0.55" height="0.55"/><rect x="486.4" y="55.2" width="0.55" height="0.55"/><rect x="489.0" y="45.1" width="0.55" height="0.55"/><rect x="486.7" y="47.2" width="0.55" height="0.55"/><rect x="488.0" y="56.7" width="0.55" height="0.55"/><rect x="496.7" y="63.7" width="0.55" height="0.55"/><rect x="505.6" y="63.9" width="0.55" height="0.55"/><rect x="490.9" y="52.9" width="0.55" height="0.55"/><rect x="491.3" y="55.8" width="0.55" height="0.55"/><rect x="499.1" y="60.0" width="0.55" height="0.55"/><rect x="500.9" y="49.1" width="0.55" height="0.55"/><rect x="494.9" y="54.5" width="0.55" height="0.55"/><rect x="486.1" y="44.7" width="0.55" height="0.55"/><rect x="494.6" y="46.2" width="0.55" height="0.55"/><rect x="501.2" y="48.8" width="0.55" height="0.55"/><rect x="488.1" y="47.6" width="0.55" height="0.55"/><rect x="490.9" y="48.3" width="0.55" height="0.55"/><rect x="496.9" y="53.3" width="0.55" height="0.55"/><rect x="492.5" y="56.8" width="0.55" height="0.55"/><rect x="490.5" y="62.1" width="0.55" height="0.55"/><rect x="506.2" y="58.6" width="0.55" height="0.55"/><rect x="495.1" y="54.2" width="0.55" height="0.55"/><rect x="498.2" y="45.0" width="0.55" height="0.55"/><rect x="494.8" y="54.5" width="0.55" height="0.55"/><rect x="489.8" y="45.9" width="0.55" height="0.55"/><rect x="502.9" y="51.3" width="0.55" height="0.55"/><rect x="496.9" y="62.4" width="0.55" height="0.55"/><rect x="498.8" y="49.8" width="0.55" height="0.55"/><rect x="506.7" y="51.4" width="0.55" height="0.55"/><rect x="486.4" y="57.7" width="0.55" height="0.55"/><rect x="488.1" y="50.1" width="0.55" height="0.55"/><rect x="503.7" y="57.5" width="0.55" height="0.55"/><rect x="486.3" y="53.0" width="0.55" height="0.55"/><rect x="494.6" y="53.7" width="0.55" height="0.55"/><rect x="490.4" y="55.8" width="0.55" height="0.55"/><rect x="487.5" y="49.7" width="0.55" height="0.55"/><rect x="493.8" y="62.7" width="0.55" height="0.55"/><rect x="487.6" y="59.1" width="0.55" height="0.55"/><rect x="490.0" y="55.4" width="0.55" height="0.55"/><rect x="494.2" y="53.3" width="0.55" height="0.55"/><rect x="501.8" y="51.9" width="0.55" height="0.55"/><rect x="488.6" y="46.4" width="0.55" height="0.55"/><rect x="487.7" y="61.0" width="0.55" height="0.55"/><rect x="499.5" y="63.2" width="0.55" height="0.55"/><rect x="500.5" y="44.5" width="0.55" height="0.55"/><rect x="499.8" y="59.5" width="0.55" height="0.55"/><rect x="501.2" y="54.0" width="0.55" height="0.55"/><rect x="493.5" y="53.1" width="0.55" height="0.55"/><rect x="502.8" y="49.4" width="0.55" height="0.55"/><rect x="497.1" y="53.6" width="0.55" height="0.55"/><rect x="506.0" y="60.1" width="0.55" height="0.55"/><rect x="505.6" y="60.7" width="0.55" height="0.55"/><rect x="492.2" y="48.6" width="0.55" height="0.55"/><rect x="496.3" y="49.2" width="0.55" height="0.55"/><rect x="495.0" y="57.6" width="0.55" height="0.55"/><rect x="505.3" y="55.7" width="0.55" height="0.55"/><rect x="503.2" y="45.9" width="0.55" height="0.55"/><rect x="493.5" y="64.0" width="0.55" height="0.55"/><rect x="489.1" y="52.3" width="0.55" height="0.55"/><rect x="487.4" y="45.7" width="0.55" height="0.55"/><rect x="504.8" y="63.8" width="0.55" height="0.55"/><rect x="499.6" y="46.6" width="0.55" height="0.55"/><rect x="492.2" y="48.6" width="0.55" height="0.55"/><rect x="500.1" y="57.6" width="0.55" height="0.55"/><rect x="495.2" y="54.5" width="0.55" height="0.55"/><rect x="488.4" y="54.8" width="0.55" height="0.55"/><rect x="505.9" y="59.1" width="0.55" height="0.55"/><rect x="488.0" y="54.3" width="0.55" height="0.55"/><rect x="501.0" y="49.1" width="0.55" height="0.55"/><rect x="504.8" y="53.2" width="0.55" height="0.55"/><rect x="500.8" y="52.1" width="0.55" height="0.55"/><rect x="506.9" y="59.7" width="0.55" height="0.55"/><rect x="498.0" y="46.9" width="0.55" height="0.55"/><rect x="495.3" y="44.6" width="0.55" height="0.55"/><rect x="498.5" y="61.6" width="0.55" height="0.55"/><rect x="489.8" y="54.2" width="0.55" height="0.55"/><rect x="496.1" y="52.1" width="0.55" height="0.55"/><rect x="500.9" y="62.7" width="0.55" height="0.55"/><rect x="500.8" y="53.4" width="0.55" height="0.55"/><rect x="506.2" y="50.6" width="0.55" height="0.55"/><rect x="501.7" y="57.2" width="0.55" height="0.55"/><rect x="502.0" y="61.0" width="0.55" height="0.55"/><rect x="490.7" y="56.4" width="0.55" height="0.55"/><rect x="494.5" y="57.3" width="0.55" height="0.55"/><rect x="506.5" y="56.7" width="0.55" height="0.55"/><rect x="486.2" y="53.3" width="0.55" height="0.55"/><rect x="500.9" y="61.7" width="0.55" height="0.55"/><rect x="499.7" y="60.3" width="0.55" height="0.55"/><rect x="486.4" y="62.9" width="0.55" height="0.55"/><rect x="501.3" y="56.1" width="0.55" height="0.55"/><rect x="505.0" y="61.7" width="0.55" height="0.55"/><rect x="488.1" y="60.3" width="0.55" height="0.55"/><rect x="502.1" y="48.0" width="0.55" height="0.55"/><rect x="501.6" y="55.7" width="0.55" height="0.55"/><rect x="490.0" y="60.1" width="0.55" height="0.55"/><rect x="488.9" y="56.2" width="0.55" height="0.55"/><rect x="495.1" y="49.1" width="0.55" height="0.55"/><rect x="497.9" y="53.3" width="0.55" height="0.55"/><rect x="490.3" y="63.3" width="0.55" height="0.55"/><rect x="487.5" y="44.1" width="0.55" height="0.55"/><rect x="496.2" y="60.7" width="0.55" height="0.55"/><rect x="499.8" y="59.1" width="0.55" height="0.55"/><rect x="496.2" y="57.5" width="0.55" height="0.55"/><rect x="493.0" y="49.3" width="0.55" height="0.55"/><rect x="496.6" y="44.6" width="0.55" height="0.55"/><rect x="487.7" y="59.1" width="0.55" height="0.55"/><rect x="489.6" y="59.0" width="0.55" height="0.55"/><rect x="502.5" y="52.1" width="0.55" height="0.55"/><rect x="500.2" y="59.7" width="0.55" height="0.55"/><rect x="504.1" y="46.7" width="0.55" height="0.55"/><rect x="489.4" y="51.6" width="0.55" height="0.55"/><rect x="495.8" y="49.9" width="0.55" height="0.55"/><rect x="486.2" y="55.1" width="0.55" height="0.55"/><rect x="506.3" y="51.3" width="0.55" height="0.55"/><rect x="497.3" y="51.6" width="0.55" height="0.55"/><rect x="495.3" y="61.4" width="0.55" height="0.55"/><rect x="492.5" y="57.0" width="0.55" height="0.55"/><rect x="496.2" y="54.8" width="0.55" height="0.55"/><rect x="505.2" y="45.5" width="0.55" height="0.55"/><rect x="503.3" y="50.1" width="0.55" height="0.55"/><rect x="499.6" y="59.9" width="0.55" height="0.55"/><rect x="499.7" y="51.9" width="0.55" height="0.55"/><rect x="503.7" y="45.9" width="0.55" height="0.55"/><rect x="499.3" y="51.8" width="0.55" height="0.55"/><rect x="497.1" y="61.0" width="0.55" height="0.55"/><rect x="502.8" y="56.6" width="0.55" height="0.55"/><rect x="492.5" y="48.7" width="0.55" height="0.55"/><rect x="495.6" y="48.6" width="0.55" height="0.55"/><rect x="491.8" y="63.2" width="0.55" height="0.55"/><rect x="488.4" y="60.4" width="0.55" height="0.55"/><rect x="494.0" y="51.3" width="0.55" height="0.55"/><rect x="492.7" y="45.5" width="0.55" height="0.55"/><rect x="495.6" y="47.3" width="0.55" height="0.55"/><rect x="495.3" y="49.8" width="0.55" height="0.55"/><rect x="504.8" y="62.4" width="0.55" height="0.55"/><rect x="495.3" y="56.8" width="0.55" height="0.55"/><rect x="505.5" y="50.5" width="0.55" height="0.55"/><rect x="488.1" y="48.8" width="0.55" height="0.55"/><rect x="490.0" y="57.6" width="0.55" height="0.55"/><rect x="493.8" y="51.1" width="0.55" height="0.55"/><rect x="502.7" y="48.7" width="0.55" height="0.55"/><rect x="503.0" y="56.7" width="0.55" height="0.55"/><rect x="494.4" y="60.5" width="0.55" height="0.55"/><rect x="493.2" y="61.6" width="0.55" height="0.55"/><rect x="505.4" y="54.1" width="0.55" height="0.55"/><rect x="500.5" y="63.0" width="0.55" height="0.55"/><rect x="501.6" y="59.0" width="0.55" height="0.55"/><rect x="504.3" y="62.7" width="0.55" height="0.55"/><rect x="501.8" y="63.6" width="0.55" height="0.55"/><rect x="492.1" y="56.4" width="0.55" height="0.55"/><rect x="500.1" y="51.3" width="0.55" height="0.55"/><rect x="494.3" y="47.5" width="0.55" height="0.55"/><rect x="506.1" y="51.1" width="0.55" height="0.55"/><rect x="496.0" y="61.9" width="0.55" height="0.55"/><rect x="489.9" y="63.2" width="0.55" height="0.55"/><rect x="488.7" y="44.6" width="0.55" height="0.55"/><rect x="493.4" y="51.2" width="0.55" height="0.55"/><rect x="505.3" y="61.7" width="0.55" height="0.55"/><rect x="502.0" y="52.7" width="0.55" height="0.55"/><rect x="497.4" y="48.7" width="0.55" height="0.55"/><rect x="503.5" y="51.8" width="0.55" height="0.55"/><rect x="492.0" y="56.8" width="0.55" height="0.55"/><rect x="489.2" y="50.3" width="0.55" height="0.55"/><rect x="505.4" y="45.9" width="0.55" height="0.55"/><rect x="489.0" y="48.1" width="0.55" height="0.55"/><rect x="491.3" y="52.4" width="0.55" height="0.55"/><rect x="491.3" y="50.9" width="0.55" height="0.55"/><rect x="491.2" y="48.8" width="0.55" height="0.55"/><rect x="498.8" y="50.7" width="0.55" height="0.55"/><rect x="493.8" y="59.4" width="0.55" height="0.55"/><rect x="487.3" y="46.9" width="0.55" height="0.55"/><rect x="503.9" y="52.6" width="0.55" height="0.55"/><rect x="502.4" y="46.7" width="0.55" height="0.55"/><rect x="497.0" y="60.9" width="0.55" height="0.55"/><rect x="493.1" y="59.4" width="0.55" height="0.55"/><rect x="498.8" y="51.9" width="0.55" height="0.55"/><rect x="506.9" y="51.8" width="0.55" height="0.55"/><rect x="495.9" y="56.4" width="0.55" height="0.55"/><rect x="492.7" y="60.8" width="0.55" height="0.55"/><rect x="498.5" y="55.8" width="0.55" height="0.55"/><rect x="497.3" y="63.7" width="0.55" height="0.55"/><rect x="506.8" y="60.8" width="0.55" height="0.55"/><rect x="495.5" y="52.2" width="0.55" height="0.55"/><rect x="497.0" y="44.9" width="0.55" height="0.55"/><rect x="488.3" y="63.9" width="0.55" height="0.55"/><rect x="488.7" y="62.7" width="0.55" height="0.55"/><rect x="500.3" y="62.3" width="0.55" height="0.55"/></g>
<g fill="#444" fill-opacity="0.22"><rect x="493.8" y="53.1" width="0.55" height="0.55"/><rect x="501.0" y="50.1" width="0.55" height="0.55"/><rect x="494.1" y="53.5" width="0.55" height="0.55"/><rect x="494.7" y="51.5" width="0.55" height="0.55"/><rect x="499.7" y="50.9" width="0.55" height="0.55"/><rect x="502.7" y="56.5" width="0.55" height="0.55"/><rect x="493.5" y="59.0" width="0.55" height="0.55"/><rect x="495.4" y="54.8" width="0.55" height="0.55"/><rect x="498.6" y="51.4" width="0.55" height="0.55"/><rect x="498.0" y="50.6" width="0.55" height="0.55"/><rect x="495.0" y="59.2" width="0.55" height="0.55"/><rect x="501.2" y="55.2" width="0.55" height="0.55"/><rect x="499.8" y="58.8" width="0.55" height="0.55"/><rect x="494.4" y="54.9" width="0.55" height="0.55"/><rect x="494.3" y="51.2" width="0.55" height="0.55"/><rect x="494.1" y="52.1" width="0.55" height="0.55"/><rect x="493.5" y="52.2" width="0.55" height="0.55"/><rect x="496.8" y="56.2" width="0.55" height="0.55"/><rect x="501.6" y="59.0" width="0.55" height="0.55"/><rect x="500.2" y="55.1" width="0.55" height="0.55"/><rect x="502.2" y="51.6" width="0.55" height="0.55"/><rect x="494.1" y="58.2" width="0.55" height="0.55"/><rect x="499.3" y="52.1" width="0.55" height="0.55"/><rect x="496.8" y="53.0" width="0.55" height="0.55"/><rect x="497.3" y="54.3" width="0.55" height="0.55"/><rect x="497.0" y="58.0" width="0.55" height="0.55"/><rect x="501.1" y="55.6" width="0.55" height="0.55"/><rect x="497.7" y="52.8" width="0.55" height="0.55"/><rect x="500.7" y="59.9" width="0.55" height="0.55"/><rect x="495.3" y="57.0" width="0.55" height="0.55"/><rect x="500.0" y="56.6" width="0.55" height="0.55"/><rect x="493.3" y="55.5" width="0.55" height="0.55"/><rect x="495.0" y="51.9" width="0.55" height="0.55"/><rect x="498.8" y="56.5" width="0.55" height="0.55"/><rect x="499.3" y="57.4" width="0.55" height="0.55"/><rect x="500.0" y="54.8" width="0.55" height="0.55"/><rect x="493.5" y="57.7" width="0.55" height="0.55"/><rect x="501.2" y="58.4" width="0.55" height="0.55"/><rect x="499.0" y="50.4" width="0.55" height="0.55"/><rect x="495.0" y="51.1" width="0.55" height="0.55"/><rect x="499.4" y="55.4" width="0.55" height="0.55"/><rect x="494.9" y="59.6" width="0.55" height="0.55"/><rect x="502.8" y="59.0" width="0.55" height="0.55"/><rect x="497.6" y="52.9" width="0.55" height="0.55"/><rect x="495.1" y="58.2" width="0.55" height="0.55"/><rect x="500.0" y="52.8" width="0.55" height="0.55"/><rect x="502.0" y="55.7" width="0.55" height="0.55"/><rect x="497.1" y="54.2" width="0.55" height="0.55"/><rect x="500.2" y="54.6" width="0.55" height="0.55"/><rect x="499.6" y="51.2" width="0.55" height="0.55"/><rect x="500.0" y="52.7" width="0.55" height="0.55"/><rect x="502.1" y="52.1" width="0.55" height="0.55"/><rect x="496.3" y="55.4" width="0.55" height="0.55"/><rect x="496.9" y="55.3" width="0.55" height="0.55"/><rect x="502.2" y="52.0" width="0.55" height="0.55"/><rect x="500.7" y="56.9" width="0.55" height="0.55"/><rect x="500.9" y="54.5" width="0.55" height="0.55"/><rect x="497.5" y="53.5" width="0.55" height="0.55"/><rect x="497.7" y="52.5" width="0.55" height="0.55"/><rect x="494.9" y="54.8" width="0.55" height="0.55"/><rect x="494.9" y="54.7" width="0.55" height="0.55"/><rect x="498.7" y="53.1" width="0.55" height="0.55"/><rect x="494.7" y="56.1" width="0.55" height="0.55"/><rect x="501.6" y="52.2" width="0.55" height="0.55"/><rect x="499.2" y="56.6" width="0.55" height="0.55"/><rect x="501.8" y="56.8" width="0.55" height="0.55"/><rect x="496.1" y="52.1" width="0.55" height="0.55"/><rect x="501.4" y="53.0" width="0.55" height="0.55"/><rect x="493.1" y="58.7" width="0.55" height="0.55"/><rect x="495.0" y="53.1" width="0.55" height="0.55"/><rect x="496.2" y="52.6" width="0.55" height="0.55"/><rect x="500.2" y="53.4" width="0.55" height="0.55"/><rect x="497.4" y="54.2" width="0.55" height="0.55"/><rect x="501.3" y="50.2" width="0.55" height="0.55"/><rect x="498.8" y="51.3" width="0.55" height="0.55"/><rect x="494.5" y="56.1" width="0.55" height="0.55"/><rect x="496.8" y="50.6" width="0.55" height="0.55"/><rect x="498.9" y="59.1" width="0.55" height="0.55"/><rect x="499.5" y="55.0" width="0.55" height="0.55"/><rect x="501.0" y="59.2" width="0.55" height="0.55"/><rect x="494.5" y="53.0" width="0.55" height="0.55"/><rect x="502.6" y="59.3" width="0.55" height="0.55"/><rect x="495.0" y="57.0" width="0.55" height="0.55"/><rect x="501.7" y="55.9" width="0.55" height="0.55"/><rect x="500.0" y="55.2" width="0.55" height="0.55"/><rect x="495.3" y="52.1" width="0.55" height="0.55"/><rect x="493.6" y="56.7" width="0.55" height="0.55"/><rect x="494.4" y="56.2" width="0.55" height="0.55"/><rect x="496.9" y="54.4" width="0.55" height="0.55"/><rect x="502.7" y="53.9" width="0.55" height="0.55"/><rect x="497.7" y="53.8" width="0.55" height="0.55"/><rect x="495.2" y="52.2" width="0.55" height="0.55"/><rect x="498.3" y="58.2" width="0.55" height="0.55"/><rect x="493.9" y="59.5" width="0.55" height="0.55"/><rect x="499.7" y="50.5" width="0.55" height="0.55"/><rect x="500.1" y="54.0" width="0.55" height="0.55"/><rect x="498.1" y="51.0" width="0.55" height="0.55"/><rect x="498.1" y="55.2" width="0.55" height="0.55"/><rect x="500.8" y="55.8" width="0.55" height="0.55"/><rect x="500.0" y="57.3" width="0.55" height="0.55"/><rect x="495.2" y="50.2" width="0.55" height="0.55"/><rect x="497.8" y="51.3" width="0.55" height="0.55"/><rect x="494.4" y="53.2" width="0.55" height="0.55"/><rect x="498.4" y="56.2" width="0.55" height="0.55"/><rect x="499.5" y="59.4" width="0.55" height="0.55"/><rect x="494.0" y="55.6" width="0.55" height="0.55"/><rect x="493.9" y="56.7" width="0.55" height="0.55"/><rect x="497.4" y="51.4" width="0.55" height="0.55"/><rect x="496.1" y="56.6" width="0.55" height="0.55"/><rect x="497.7" y="59.4" width="0.55" height="0.55"/><rect x="496.6" y="53.4" width="0.55" height="0.55"/><rect x="502.2" y="56.1" width="0.55" height="0.55"/><rect x="494.1" y="57.8" width="0.55" height="0.55"/><rect x="496.6" y="59.5" width="0.55" height="0.55"/><rect x="499.4" y="58.0" width="0.55" height="0.55"/><rect x="502.0" y="55.1" width="0.55" height="0.55"/><rect x="502.7" y="50.3" width="0.55" height="0.55"/><rect x="496.4" y="58.4" width="0.55" height="0.55"/><rect x="493.1" y="56.7" width="0.55" height="0.55"/><rect x="503.0" y="57.2" width="0.55" height="0.55"/><rect x="501.6" y="50.8" width="0.55" height="0.55"/><rect x="498.4" y="56.1" width="0.55" height="0.55"/><rect x="497.4" y="54.2" width="0.55" height="0.55"/><rect x="500.9" y="51.6" width="0.55" height="0.55"/><rect x="493.4" y="55.9" width="0.55" height="0.55"/><rect x="502.7" y="58.3" width="0.55" height="0.55"/><rect x="499.7" y="52.9" width="0.55" height="0.55"/><rect x="502.0" y="50.4" width="0.55" height="0.55"/><rect x="495.5" y="57.9" width="0.55" height="0.55"/><rect x="501.9" y="54.0" width="0.55" height="0.55"/><rect x="502.1" y="51.1" width="0.55" height="0.55"/><rect x="499.0" y="50.7" width="0.55" height="0.55"/><rect x="495.3" y="51.9" width="0.55" height="0.55"/><rect x="493.1" y="54.1" width="0.55" height="0.55"/><rect x="498.0" y="52.8" width="0.55" height="0.55"/><rect x="499.5" y="50.5" width="0.55" height="0.55"/><rect x="498.2" y="55.3" width="0.55" height="0.55"/><rect x="497.0" y="59.1" width="0.55" height="0.55"/><rect x="494.3" y="54.3" width="0.55" height="0.55"/><rect x="497.6" y="53.7" width="0.55" height="0.55"/></g>
<g fill="#333" fill-opacity="0.3"><rect x="499.3" y="41.5" width="0.6" height="0.6"/><rect x="498.6" y="43.1" width="0.6" height="0.6"/><rect x="485.1" y="56.6" width="0.6" height="0.6"/><rect x="491.5" y="43.1" width="0.6" height="0.6"/><rect x="487.8" y="44.3" width="0.6" height="0.6"/><rect x="486.1" y="53.8" width="0.6" height="0.6"/><rect x="498.2" y="43.9" width="0.6" height="0.6"/><rect x="495.6" y="42.8" width="0.6" height="0.6"/><rect x="487.0" y="44.5" width="0.6" height="0.6"/><rect x="495.0" y="41.6" width="0.6" height="0.6"/><rect x="486.1" y="45.0" width="0.6" height="0.6"/><rect x="484.9" y="48.7" width="0.6" height="0.6"/><rect x="491.8" y="41.4" width="0.6" height="0.6"/><rect x="488.8" y="45.0" width="0.6" height="0.6"/><rect x="499.4" y="41.8" width="0.6" height="0.6"/><rect x="484.1" y="50.2" width="0.6" height="0.6"/><rect x="484.5" y="56.9" width="0.6" height="0.6"/><rect x="499.6" y="43.7" width="0.6" height="0.6"/><rect x="497.4" y="41.4" width="0.6" height="0.6"/><rect x="497.0" y="40.8" width="0.6" height="0.6"/><rect x="487.3" y="50.0" width="0.6" height="0.6"/><rect x="487.5" y="50.5" width="0.6" height="0.6"/><rect x="486.0" y="56.4" width="0.6" height="0.6"/><rect x="487.0" y="49.3" width="0.6" height="0.6"/><rect x="486.0" y="58.3" width="0.6" height="0.6"/><rect x="485.7" y="60.2" width="0.6" height="0.6"/><rect x="496.5" y="44.9" width="0.6" height="0.6"/><rect x="484.3" y="54.6" width="0.6" height="0.6"/><rect x="486.2" y="52.4" width="0.6" height="0.6"/><rect x="484.1" y="53.0" width="0.6" height="0.6"/><rect x="487.0" y="54.4" width="0.6" height="0.6"/><rect x="494.4" y="43.4" width="0.6" height="0.6"/><rect x="488.5" y="44.3" width="0.6" height="0.6"/><rect x="484.7" y="56.8" width="0.6" height="0.6"/><rect x="486.4" y="50.5" width="0.6" height="0.6"/><rect x="494.8" y="39.8" width="0.6" height="0.6"/><rect x="486.5" y="57.6" width="0.6" height="0.6"/><rect x="493.4" y="42.9" width="0.6" height="0.6"/><rect x="486.0" y="49.8" width="0.6" height="0.6"/><rect x="487.1" y="44.0" width="0.6" height="0.6"/><rect x="499.0" y="44.2" width="0.6" height="0.6"/><rect x="499.1" y="42.2" width="0.6" height="0.6"/><rect x="488.7" y="47.2" width="0.6" height="0.6"/><rect x="485.9" y="52.9" width="0.6" height="0.6"/><rect x="485.1" y="55.0" width="0.6" height="0.6"/><rect x="485.1" y="55.6" width="0.6" height="0.6"/><rect x="493.7" y="43.0" width="0.6" height="0.6"/><rect x="493.8" y="41.2" width="0.6" height="0.6"/><rect x="485.9" y="56.9" width="0.6" height="0.6"/><rect x="492.7" y="43.2" width="0.6" height="0.6"/><rect x="498.9" y="44.3" width="0.6" height="0.6"/><rect x="492.3" y="45.6" width="0.6" height="0.6"/><rect x="487.5" y="60.7" width="0.6" height="0.6"/><rect x="492.7" y="40.8" width="0.6" height="0.6"/><rect x="499.3" y="42.5" width="0.6" height="0.6"/><rect x="489.3" y="44.2" width="0.6" height="0.6"/><rect x="494.6" y="43.7" width="0.6" height="0.6"/><rect x="484.7" y="52.2" width="0.6" height="0.6"/><rect x="489.7" y="45.9" width="0.6" height="0.6"/><rect x="484.7" y="54.6" width="0.6" height="0.6"/><rect x="484.6" y="55.7" width="0.6" height="0.6"/><rect x="484.3" y="51.2" width="0.6" height="0.6"/><rect x="487.6" y="51.2" width="0.6" height="0.6"/><rect x="490.3" y="42.9" width="0.6" height="0.6"/><rect x="493.2" y="42.5" width="0.6" height="0.6"/><rect x="485.3" y="58.6" width="0.6" height="0.6"/><rect x="484.5" y="56.1" width="0.6" height="0.6"/><rect x="484.2" y="52.0" width="0.6" height="0.6"/><rect x="486.0" y="47.7" width="0.6" height="0.6"/><rect x="486.7" y="49.6" width="0.6" height="0.6"/><rect x="484.6" y="53.7" width="0.6" height="0.6"/><rect x="499.1" y="43.5" width="0.6" height="0.6"/><rect x="486.1" y="56.2" width="0.6" height="0.6"/><rect x="486.7" y="61.4" width="0.6" height="0.6"/><rect x="495.1" y="42.8" width="0.6" height="0.6"/><rect x="484.8" y="52.1" width="0.6" height="0.6"/><rect x="485.8" y="53.0" width="0.6" height="0.6"/><rect x="485.3" y="52.3" width="0.6" height="0.6"/><rect x="494.6" y="43.2" width="0.6" height="0.6"/><rect x="487.4" y="52.6" width="0.6" height="0.6"/><rect x="487.6" y="44.9" width="0.6" height="0.6"/><rect x="496.5" y="42.9" width="0.6" height="0.6"/><rect x="495.1" y="41.2" width="0.6" height="0.6"/><rect x="485.2" y="54.5" width="0.6" height="0.6"/><rect x="500.2" y="40.5" width="0.6" height="0.6"/><rect x="497.0" y="41.9" width="0.6" height="0.6"/><rect x="494.7" y="43.6" width="0.6" height="0.6"/><rect x="483.8" y="54.7" width="0.6" height="0.6"/><rect x="488.4" y="44.9" width="0.6" height="0.6"/><rect x="492.2" y="46.3" width="0.6" height="0.6"/><rect x="498.2" y="40.7" width="0.6" height="0.6"/><rect x="485.7" y="53.2" width="0.6" height="0.6"/><rect x="488.1" y="42.4" width="0.6" height="0.6"/><rect x="486.2" y="55.8" width="0.6" height="0.6"/><rect x="498.6" y="42.2" width="0.6" height="0.6"/><rect x="486.5" y="50.4" width="0.6" height="0.6"/><rect x="490.4" y="43.2" width="0.6" height="0.6"/><rect x="486.5" y="55.0" width="0.6" height="0.6"/><rect x="485.1" y="57.4" width="0.6" height="0.6"/><rect x="493.2" y="42.4" width="0.6" height="0.6"/><rect x="499.0" y="42.4" width="0.6" height="0.6"/><rect x="490.9" y="45.3" width="0.6" height="0.6"/><rect x="497.8" y="44.2" width="0.6" height="0.6"/><rect x="485.6" y="61.7" width="0.6" height="0.6"/><rect x="495.0" y="43.0" width="0.6" height="0.6"/><rect x="486.1" y="53.9" width="0.6" height="0.6"/><rect x="497.8" y="43.1" width="0.6" height="0.6"/><rect x="488.9" y="42.1" width="0.6" height="0.6"/><rect x="496.2" y="44.2" width="0.6" height="0.6"/><rect x="485.6" y="53.4" width="0.6" height="0.6"/><rect x="484.4" y="55.2" width="0.6" height="0.6"/><rect x="488.4" y="61.3" width="0.6" height="0.6"/><rect x="489.7" y="43.3" width="0.6" height="0.6"/><rect x="485.2" y="57.4" width="0.6" height="0.6"/><rect x="484.9" y="58.4" width="0.6" height="0.6"/><rect x="486.8" y="58.6" width="0.6" height="0.6"/><rect x="489.9" y="43.9" width="0.6" height="0.6"/><rect x="484.6" y="60.4" width="0.6" height="0.6"/><rect x="485.4" y="46.6" width="0.6" height="0.6"/><rect x="490.3" y="46.0" width="0.6" height="0.6"/><rect x="490.2" y="44.5" width="0.6" height="0.6"/><rect x="488.8" y="43.4" width="0.6" height="0.6"/><rect x="488.2" y="43.6" width="0.6" height="0.6"/><rect x="490.0" y="44.5" width="0.6" height="0.6"/><rect x="485.7" y="51.1" width="0.6" height="0.6"/><rect x="485.7" y="51.7" width="0.6" height="0.6"/><rect x="486.6" y="60.3" width="0.6" height="0.6"/><rect x="492.7" y="40.6" width="0.6" height="0.6"/><rect x="486.3" y="60.2" width="0.6" height="0.6"/><rect x="489.1" y="43.1" width="0.6" height="0.6"/><rect x="492.9" y="44.5" width="0.6" height="0.6"/><rect x="484.6" y="58.8" width="0.6" height="0.6"/><rect x="487.4" y="45.6" width="0.6" height="0.6"/><rect x="483.8" y="52.2" width="0.6" height="0.6"/><rect x="490.5" y="43.4" width="0.6" height="0.6"/><rect x="499.0" y="44.3" width="0.6" height="0.6"/><rect x="488.2" y="46.0" width="0.6" height="0.6"/><rect x="484.9" y="59.2" width="0.6" height="0.6"/><rect x="492.7" y="43.4" width="0.6" height="0.6"/><rect x="495.9" y="43.2" width="0.6" height="0.6"/><rect x="483.6" y="52.9" width="0.6" height="0.6"/><rect x="486.9" y="54.6" width="0.6" height="0.6"/><rect x="486.0" y="46.9" width="0.6" height="0.6"/><rect x="484.9" y="47.8" width="0.6" height="0.6"/><rect x="491.1" y="44.2" width="0.6" height="0.6"/><rect x="496.4" y="43.7" width="0.6" height="0.6"/><rect x="486.7" y="45.5" width="0.6" height="0.6"/><rect x="496.7" y="44.6" width="0.6" height="0.6"/><rect x="496.2" y="42.8" width="0.6" height="0.6"/><rect x="492.4" y="41.0" width="0.6" height="0.6"/><rect x="484.3" y="49.6" width="0.6" height="0.6"/><rect x="489.3" y="43.1" width="0.6" height="0.6"/><rect x="494.7" y="43.5" width="0.6" height="0.6"/><rect x="486.0" y="46.5" width="0.6" height="0.6"/><rect x="483.9" y="47.9" width="0.6" height="0.6"/><rect x="486.4" y="61.5" width="0.6" height="0.6"/><rect x="494.6" y="43.2" width="0.6" height="0.6"/><rect x="487.5" y="46.7" width="0.6" height="0.6"/><rect x="484.7" y="60.2" width="0.6" height="0.6"/><rect x="494.8" y="41.7" width="0.6" height="0.6"/><rect x="495.1" y="42.9" width="0.6" height="0.6"/><rect x="487.0" y="45.3" width="0.6" height="0.6"/><rect x="485.8" y="51.2" width="0.6" height="0.6"/><rect x="485.2" y="49.4" width="0.6" height="0.6"/><rect x="489.5" y="44.0" width="0.6" height="0.6"/><rect x="491.4" y="41.6" width="0.6" height="0.6"/><rect x="484.9" y="55.5" width="0.6" height="0.6"/><rect x="487.1" y="47.0" width="0.6" height="0.6"/><rect x="487.8" y="43.3" width="0.6" height="0.6"/><rect x="485.6" y="53.4" width="0.6" height="0.6"/><rect x="491.4" y="42.4" width="0.6" height="0.6"/><rect x="485.0" y="61.1" width="0.6" height="0.6"/><rect x="492.1" y="43.6" width="0.6" height="0.6"/><rect x="496.0" y="43.8" width="0.6" height="0.6"/><rect x="498.8" y="43.2" width="0.6" height="0.6"/><rect x="487.2" y="55.1" width="0.6" height="0.6"/><rect x="497.6" y="41.0" width="0.6" height="0.6"/><rect x="490.4" y="44.1" width="0.6" height="0.6"/><rect x="495.0" y="42.2" width="0.6" height="0.6"/><rect x="484.8" y="53.4" width="0.6" height="0.6"/><rect x="487.3" y="43.1" width="0.6" height="0.6"/><rect x="499.6" y="43.9" width="0.6" height="0.6"/><rect x="485.8" y="49.9" width="0.6" height="0.6"/><rect x="487.0" y="48.0" width="0.6" height="0.6"/><rect x="497.4" y="42.6" width="0.6" height="0.6"/><rect x="489.3" y="43.6" width="0.6" height="0.6"/><rect x="495.1" y="44.9" width="0.6" height="0.6"/><rect x="494.8" y="42.9" width="0.6" height="0.6"/><rect x="493.4" y="41.8" width="0.6" height="0.6"/><rect x="483.7" y="53.4" width="0.6" height="0.6"/><rect x="485.8" y="53.7" width="0.6" height="0.6"/><rect x="493.2" y="42.7" width="0.6" height="0.6"/><rect x="490.8" y="44.3" width="0.6" height="0.6"/><rect x="486.2" y="49.3" width="0.6" height="0.6"/><rect x="488.7" y="53.3" width="0.6" height="0.6"/><rect x="485.1" y="49.1" width="0.6" height="0.6"/><rect x="483.4" y="56.9" width="0.6" height="0.6"/><rect x="494.8" y="43.7" width="0.6" height="0.6"/><rect x="486.5" y="54.4" width="0.6" height="0.6"/><rect x="496.3" y="44.4" width="0.6" height="0.6"/><rect x="485.9" y="53.6" width="0.6" height="0.6"/><rect x="490.6" y="46.0" width="0.6" height="0.6"/><rect x="486.7" y="56.0" width="0.6" height="0.6"/><rect x="484.9" y="55.6" width="0.6" height="0.6"/><rect x="485.8" y="46.2" width="0.6" height="0.6"/><rect x="483.2" y="54.7" width="0.6" height="0.6"/><rect x="485.0" y="46.4" width="0.6" height="0.6"/><rect x="488.9" y="48.7" width="0.6" height="0.6"/><rect x="488.5" y="45.8" width="0.6" height="0.6"/><rect x="485.0" y="53.0" width="0.6" height="0.6"/><rect x="488.7" y="43.4" width="0.6" height="0.6"/><rect x="490.8" y="43.1" width="0.6" height="0.6"/><rect x="495.7" y="43.9" width="0.6" height="0.6"/><rect x="493.9" y="43.0" width="0.6" height="0.6"/><rect x="485.0" y="52.1" width="0.6" height="0.6"/><rect x="487.0" y="45.1" width="0.6" height="0.6"/><rect x="487.1" y="47.5" width="0.6" height="0.6"/><rect x="485.7" y="51.4" width="0.6" height="0.6"/><rect x="492.6" y="43.2" width="0.6" height="0.6"/><rect x="490.3" y="42.0" width="0.6" height="0.6"/><rect x="494.5" y="44.9" width="0.6" height="0.6"/><rect x="490.3" y="43.8" width="0.6" height="0.6"/><rect x="486.7" y="59.4" width="0.6" height="0.6"/><rect x="486.5" y="55.6" width="0.6" height="0.6"/><rect x="490.9" y="43.7" width="0.6" height="0.6"/><rect x="487.7" y="45.4" width="0.6" height="0.6"/><rect x="485.0" y="54.9" width="0.6" height="0.6"/><rect x="492.4" y="43.6" width="0.6" height="0.6"/><rect x="495.2" y="44.1" width="0.6" height="0.6"/><rect x="494.9" y="43.7" width="0.6" height="0.6"/><rect x="487.0" y="49.0" width="0.6" height="0.6"/><rect x="489.7" y="43.8" width="0.6" height="0.6"/><rect x="486.4" y="51.7" width="0.6" height="0.6"/><rect x="490.5" y="44.1" width="0.6" height="0.6"/><rect x="484.8" y="49.2" width="0.6" height="0.6"/><rect x="483.4" y="59.0" width="0.6" height="0.6"/><rect x="493.0" y="41.0" width="0.6" height="0.6"/><rect x="494.7" y="41.3" width="0.6" height="0.6"/><rect x="487.8" y="43.9" width="0.6" height="0.6"/><rect x="486.5" y="48.5" width="0.6" height="0.6"/><rect x="489.0" y="46.3" width="0.6" height="0.6"/><rect x="486.3" y="60.2" width="0.6" height="0.6"/><rect x="494.8" y="43.3" width="0.6" height="0.6"/><rect x="486.0" y="49.4" width="0.6" height="0.6"/><rect x="486.2" y="52.6" width="0.6" height="0.6"/><rect x="487.7" y="58.0" width="0.6" height="0.6"/><rect x="485.1" y="60.0" width="0.6" height="0.6"/><rect x="485.5" y="60.1" width="0.6" height="0.6"/><rect x="488.1" y="45.4" width="0.6" height="0.6"/><rect x="485.7" y="45.5" width="0.6" height="0.6"/><rect x="489.2" y="46.7" width="0.6" height="0.6"/><rect x="487.3" y="47.3" width="0.6" height="0.6"/><rect x="484.7" y="57.8" width="0.6" height="0.6"/><rect x="494.3" y="42.8" width="0.6" height="0.6"/><rect x="488.1" y="45.9" width="0.6" height="0.6"/><rect x="485.0" y="48.1" width="0.6" height="0.6"/><rect x="488.9" y="43.4" width="0.6" height="0.6"/><rect x="485.3" y="59.6" width="0.6" height="0.6"/><rect x="486.4" y="48.9" width="0.6" height="0.6"/><rect x="497.5" y="42.3" width="0.6" height="0.6"/><rect x="485.4" y="51.0" width="0.6" height="0.6"/><rect x="485.6" y="59.3" width="0.6" height="0.6"/><rect x="486.4" y="61.3" width="0.6" height="0.6"/><rect x="486.4" y="51.1" width="0.6" height="0.6"/><rect x="488.0" y="47.8" width="0.6" height="0.6"/><rect x="484.6" y="53.8" width="0.6" height="0.6"/><rect x="493.9" y="43.9" width="0.6" height="0.6"/><rect x="497.5" y="43.5" width="0.6" height="0.6"/><rect x="487.0" y="54.8" width="0.6" height="0.6"/><rect x="488.9" y="43.4" width="0.6" height="0.6"/><rect x="488.2" y="46.3" width="0.6" height="0.6"/><rect x="486.9" y="56.9" width="0.6" height="0.6"/><rect x="490.6" y="43.9" width="0.6" height="0.6"/><rect x="486.6" y="57.7" width="0.6" height="0.6"/><rect x="486.8" y="49.1" width="0.6" height="0.6"/><rect x="486.2" y="53.2" width="0.6" height="0.6"/><rect x="489.8" y="44.2" width="0.6" height="0.6"/><rect x="497.6" y="44.4" width="0.6" height="0.6"/><rect x="487.9" y="46.1" width="0.6" height="0.6"/><rect x="484.4" y="60.6" width="0.6" height="0.6"/><rect x="486.1" y="48.1" width="0.6" height="0.6"/><rect x="492.3" y="41.4" width="0.6" height="0.6"/><rect x="492.1" y="42.0" width="0.6" height="0.6"/><rect x="483.7" y="52.2" width="0.6" height="0.6"/><rect x="487.8" y="46.1" width="0.6" height="0.6"/><rect x="491.9" y="42.1" width="0.6" height="0.6"/><rect x="483.3" y="53.5" width="0.6" height="0.6"/><rect x="485.0" y="50.0" width="0.6" height="0.6"/><rect x="496.5" y="41.5" width="0.6" height="0.6"/><rect x="486.2" y="60.0" width="0.6" height="0.6"/><rect x="485.2" y="45.3" width="0.6" height="0.6"/><rect x="488.1" y="45.1" width="0.6" height="0.6"/><rect x="486.2" y="48.3" width="0.6" height="0.6"/><rect x="484.3" y="56.8" width="0.6" height="0.6"/><rect x="486.0" y="51.9" width="0.6" height="0.6"/><rect x="485.8" y="48.8" width="0.6" height="0.6"/><rect x="486.2" y="56.3" width="0.6" height="0.6"/><rect x="488.8" y="45.4" width="0.6" height="0.6"/><rect x="499.7" y="42.9" width="0.6" height="0.6"/><rect x="488.1" y="44.8" width="0.6" height="0.6"/><rect x="488.6" y="53.1" width="0.6" height="0.6"/><rect x="488.4" y="43.4" width="0.6" height="0.6"/><rect x="491.2" y="40.9" width="0.6" height="0.6"/><rect x="483.0" y="48.1" width="0.6" height="0.6"/><rect x="484.6" y="46.7" width="0.6" height="0.6"/><rect x="487.0" y="49.4" width="0.6" height="0.6"/><rect x="490.3" y="43.6" width="0.6" height="0.6"/><rect x="488.9" y="48.8" width="0.6" height="0.6"/><rect x="492.3" y="43.7" width="0.6" height="0.6"/><rect x="488.0" y="44.9" width="0.6" height="0.6"/><rect x="495.9" y="44.1" width="0.6" height="0.6"/><rect x="487.1" y="59.9" width="0.6" height="0.6"/><rect x="492.3" y="43.0" width="0.6" height="0.6"/><rect x="486.5" y="50.1" width="0.6" height="0.6"/><rect x="496.1" y="42.8" width="0.6" height="0.6"/><rect x="492.4" y="41.8" width="0.6" height="0.6"/><rect x="484.9" y="46.1" width="0.6" height="0.6"/><rect x="495.7" y="41.8" width="0.6" height="0.6"/><rect x="493.6" y="43.5" width="0.6" height="0.6"/><rect x="485.8" y="55.6" width="0.6" height="0.6"/><rect x="489.4" y="43.1" width="0.6" height="0.6"/><rect x="484.8" y="49.5" width="0.6" height="0.6"/><rect x="490.2" y="43.3" width="0.6" height="0.6"/><rect x="489.2" y="45.1" width="0.6" height="0.6"/><rect x="491.8" y="44.1" width="0.6" height="0.6"/><rect x="487.5" y="44.5" width="0.6" height="0.6"/><rect x="485.6" y="50.6" width="0.6" height="0.6"/><rect x="486.6" y="49.6" width="0.6" height="0.6"/><rect x="486.4" y="45.6" width="0.6" height="0.6"/><rect x="491.4" y="42.5" width="0.6" height="0.6"/><rect x="487.7" y="50.6" width="0.6" height="0.6"/><rect x="490.4" y="43.2" width="0.6" height="0.6"/><rect x="493.2" y="43.8" width="0.6" height="0.6"/><rect x="487.0" y="52.5" width="0.6" height="0.6"/><rect x="498.3" y="43.9" width="0.6" height="0.6"/><rect x="491.6" y="41.6" width="0.6" height="0.6"/><rect x="493.9" y="42.1" width="0.6" height="0.6"/><rect x="485.6" y="50.7" width="0.6" height="0.6"/><rect x="498.6" y="44.0" width="0.6" height="0.6"/><rect x="482.8" y="54.6" width="0.6" height="0.6"/><rect x="484.6" y="56.7" width="0.6" height="0.6"/><rect x="484.4" y="57.6" width="0.6" height="0.6"/><rect x="489.4" y="46.0" width="0.6" height="0.6"/><rect x="489.0" y="43.8" width="0.6" height="0.6"/><rect x="487.7" y="58.6" width="0.6" height="0.6"/><rect x="487.6" y="45.0" width="0.6" height="0.6"/><rect x="491.6" y="43.1" width="0.6" height="0.6"/><rect x="488.8" y="43.2" width="0.6" height="0.6"/><rect x="493.7" y="42.2" width="0.6" height="0.6"/><rect x="488.0" y="53.1" width="0.6" height="0.6"/><rect x="494.3" y="43.4" width="0.6" height="0.6"/><rect x="489.2" y="57.6" width="0.6" height="0.6"/><rect x="485.7" y="57.1" width="0.6" height="0.6"/><rect x="495.5" y="45.6" width="0.6" height="0.6"/><rect x="485.6" y="52.9" width="0.6" height="0.6"/><rect x="484.2" y="46.3" width="0.6" height="0.6"/><rect x="486.2" y="48.7" width="0.6" height="0.6"/><rect x="486.1" y="50.3" width="0.6" height="0.6"/><rect x="499.7" y="42.7" width="0.6" height="0.6"/><rect x="493.4" y="43.8" width="0.6" height="0.6"/><rect x="493.1" y="42.0" width="0.6" height="0.6"/><rect x="485.1" y="57.1" width="0.6" height="0.6"/><rect x="485.5" y="52.9" width="0.6" height="0.6"/><rect x="488.2" y="49.8" width="0.6" height="0.6"/><rect x="500.2" y="41.9" width="0.6" height="0.6"/><rect x="485.0" y="59.2" width="0.6" height="0.6"/><rect x="486.2" y="52.7" width="0.6" height="0.6"/><rect x="489.8" y="43.1" width="0.6" height="0.6"/><rect x="497.7" y="41.7" width="0.6" height="0.6"/><rect x="495.9" y="44.7" width="0.6" height="0.6"/><rect x="485.4" y="52.2" width="0.6" height="0.6"/><rect x="497.1" y="42.7" width="0.6" height="0.6"/><rect x="497.7" y="44.0" width="0.6" height="0.6"/><rect x="492.7" y="43.3" width="0.6" height="0.6"/><rect x="487.0" y="45.2" width="0.6" height="0.6"/><rect x="487.4" y="51.1" width="0.6" height="0.6"/><rect x="485.7" y="54.2" width="0.6" height="0.6"/><rect x="494.9" y="43.3" width="0.6" height="0.6"/><rect x="484.4" y="53.9" width="0.6" height="0.6"/><rect x="484.1" y="46.4" width="0.6" height="0.6"/><rect x="496.7" y="42.8" width="0.6" height="0.6"/><rect x="485.9" y="52.5" width="0.6" height="0.6"/><rect x="490.4" y="44.1" width="0.6" height="0.6"/><rect x="482.9" y="57.0" width="0.6" height="0.6"/><rect x="487.4" y="55.3" width="0.6" height="0.6"/><rect x="494.9" y="41.8" width="0.6" height="0.6"/><rect x="491.8" y="42.6" width="0.6" height="0.6"/><rect x="488.8" y="42.6" width="0.6" height="0.6"/><rect x="485.0" y="55.6" width="0.6" height="0.6"/><rect x="486.3" y="55.9" width="0.6" height="0.6"/><rect x="496.0" y="41.7" width="0.6" height="0.6"/><rect x="490.1" y="42.9" width="0.6" height="0.6"/><rect x="496.4" y="44.4" width="0.6" height="0.6"/><rect x="484.3" y="50.3" width="0.6" height="0.6"/><rect x="494.1" y="44.9" width="0.6" height="0.6"/><rect x="496.5" y="42.4" width="0.6" height="0.6"/><rect x="486.2" y="47.0" width="0.6" height="0.6"/><rect x="492.4" y="44.3" width="0.6" height="0.6"/><rect x="488.0" y="55.3" width="0.6" height="0.6"/><rect x="493.1" y="42.7" width="0.6" height="0.6"/><rect x="484.7" y="60.4" width="0.6" height="0.6"/><rect x="499.9" y="41.8" width="0.6" height="0.6"/><rect x="488.2" y="50.7" width="0.6" height="0.6"/><rect x="490.4" y="44.0" width="0.6" height="0.6"/><rect x="486.1" y="44.4" width="0.6" height="0.6"/><rect x="486.2" y="50.1" width="0.6" height="0.6"/><rect x="489.6" y="42.1" width="0.6" height="0.6"/><rect x="493.1" y="43.0" width="0.6" height="0.6"/><rect x="492.2" y="43.8" width="0.6" height="0.6"/><rect x="497.4" y="43.0" width="0.6" height="0.6"/><rect x="485.8" y="56.8" width="0.6" height="0.6"/><rect x="496.0" y="43.6" width="0.6" height="0.6"/><rect x="493.1" y="44.6" width="0.6" height="0.6"/><rect x="487.5" y="46.4" width="0.6" height="0.6"/><rect x="485.7" y="52.1" width="0.6" height="0.6"/><rect x="495.9" y="44.1" width="0.6" height="0.6"/><rect x="486.1" y="53.0" width="0.6" height="0.6"/><rect x="485.7" y="57.2" width="0.6" height="0.6"/><rect x="496.7" y="43.9" width="0.6" height="0.6"/><rect x="493.8" y="42.3" width="0.6" height="0.6"/><rect x="487.0" y="47.0" width="0.6" height="0.6"/><rect x="495.4" y="42.3" width="0.6" height="0.6"/><rect x="484.4" y="50.7" width="0.6" height="0.6"/><rect x="487.5" y="48.1" width="0.6" height="0.6"/><rect x="485.1" y="51.4" width="0.6" height="0.6"/><rect x="496.9" y="43.3" width="0.6" height="0.6"/><rect x="485.3" y="51.7" width="0.6" height="0.6"/><rect x="487.5" y="46.6" width="0.6" height="0.6"/><rect x="485.3" y="53.9" width="0.6" height="0.6"/><rect x="485.7" y="51.4" width="0.6" height="0.6"/><rect x="492.5" y="41.6" width="0.6" height="0.6"/><rect x="486.6" y="47.5" width="0.6" height="0.6"/><rect x="495.4" y="42.6" width="0.6" height="0.6"/><rect x="483.8" y="51.2" width="0.6" height="0.6"/><rect x="485.0" y="59.0" width="0.6" height="0.6"/><rect x="493.1" y="40.7" width="0.6" height="0.6"/><rect x="490.0" y="44.4" width="0.6" height="0.6"/><rect x="488.0" y="44.1" width="0.6" height="0.6"/><rect x="486.1" y="52.1" width="0.6" height="0.6"/><rect x="485.3" y="47.0" width="0.6" height="0.6"/><rect x="490.3" y="43.3" width="0.6" height="0.6"/><rect x="492.9" y="44.8" width="0.6" height="0.6"/><rect x="486.5" y="46.6" width="0.6" height="0.6"/><rect x="485.4" y="54.8" width="0.6" height="0.6"/><rect x="485.3" y="44.5" width="0.6" height="0.6"/><rect x="488.4" y="49.4" width="0.6" height="0.6"/><rect x="486.9" y="54.0" width="0.6" height="0.6"/><rect x="484.9" y="61.4" width="0.6" height="0.6"/><rect x="485.7" y="51.0" width="0.6" height="0.6"/><rect x="486.5" y="46.4" width="0.6" height="0.6"/><rect x="486.5" y="50.9" width="0.6" height="0.6"/><rect x="485.7" y="59.0" width="0.6" height="0.6"/><rect x="484.0" y="60.0" width="0.6" height="0.6"/><rect x="486.3" y="55.1" width="0.6" height="0.6"/><rect x="486.2" y="58.7" width="0.6" height="0.6"/><rect x="485.4" y="51.2" width="0.6" height="0.6"/><rect x="495.2" y="42.9" width="0.6" height="0.6"/><rect x="487.2" y="43.3" width="0.6" height="0.6"/><rect x="491.4" y="44.7" width="0.6" height="0.6"/><rect x="487.8" y="48.1" width="0.6" height="0.6"/><rect x="485.2" y="47.9" width="0.6" height="0.6"/><rect x="485.6" y="60.9" width="0.6" height="0.6"/><rect x="488.2" y="41.3" width="0.6" height="0.6"/><rect x="487.4" y="47.7" width="0.6" height="0.6"/><rect x="492.5" y="44.8" width="0.6" height="0.6"/><rect x="493.0" y="43.8" width="0.6" height="0.6"/><rect x="489.5" y="43.9" width="0.6" height="0.6"/><rect x="485.8" y="57.4" width="0.6" height="0.6"/><rect x="497.5" y="42.1" width="0.6" height="0.6"/><rect x="486.1" y="59.4" width="0.6" height="0.6"/><rect x="485.8" y="47.0" width="0.6" height="0.6"/><rect x="490.2" y="42.7" width="0.6" height="0.6"/><rect x="499.6" y="43.9" width="0.6" height="0.6"/><rect x="487.0" y="60.2" width="0.6" height="0.6"/><rect x="491.8" y="43.2" width="0.6" height="0.6"/><rect x="488.5" y="45.5" width="0.6" height="0.6"/><rect x="491.4" y="43.6" width="0.6" height="0.6"/><rect x="494.7" y="44.2" width="0.6" height="0.6"/><rect x="487.5" y="54.0" width="0.6" height="0.6"/><rect x="486.4" y="46.4" width="0.6" height="0.6"/><rect x="487.3" y="47.3" width="0.6" height="0.6"/><rect x="488.8" y="45.8" width="0.6" height="0.6"/><rect x="484.7" y="49.1" width="0.6" height="0.6"/><rect x="494.8" y="44.0" width="0.6" height="0.6"/><rect x="497.7" y="42.8" width="0.6" height="0.6"/><rect x="485.3" y="54.4" width="0.6" height="0.6"/><rect x="486.4" y="51.9" width="0.6" height="0.6"/><rect x="484.9" y="59.2" width="0.6" height="0.6"/><rect x="491.5" y="42.5" width="0.6" height="0.6"/><rect x="495.1" y="39.3" width="0.6" height="0.6"/><rect x="485.0" y="52.5" width="0.6" height="0.6"/><rect x="484.6" y="52.1" width="0.6" height="0.6"/><rect x="485.0" y="59.3" width="0.6" height="0.6"/><rect x="485.2" y="60.7" width="0.6" height="0.6"/><rect x="487.8" y="61.2" width="0.6" height="0.6"/><rect x="494.4" y="42.5" width="0.6" height="0.6"/><rect x="487.1" y="45.1" width="0.6" height="0.6"/><rect x="486.3" y="57.4" width="0.6" height="0.6"/><rect x="486.0" y="46.6" width="0.6" height="0.6"/><rect x="487.6" y="48.7" width="0.6" height="0.6"/><rect x="485.9" y="50.8" width="0.6" height="0.6"/><rect x="498.7" y="42.9" width="0.6" height="0.6"/><rect x="486.5" y="48.6" width="0.6" height="0.6"/><rect x="498.1" y="42.6" width="0.6" height="0.6"/><rect x="486.3" y="48.4" width="0.6" height="0.6"/><rect x="486.9" y="58.2" width="0.6" height="0.6"/><rect x="486.1" y="57.4" width="0.6" height="0.6"/><rect x="499.0" y="42.4" width="0.6" height="0.6"/><rect x="486.2" y="54.2" width="0.6" height="0.6"/><rect x="486.7" y="53.2" width="0.6" height="0.6"/><rect x="485.7" y="49.6" width="0.6" height="0.6"/><rect x="488.0" y="59.1" width="0.6" height="0.6"/><rect x="491.1" y="44.0" width="0.6" height="0.6"/><rect x="492.1" y="41.1" width="0.6" height="0.6"/><rect x="487.3" y="45.4" width="0.6" height="0.6"/><rect x="487.6" y="43.1" width="0.6" height="0.6"/><rect x="486.2" y="50.5" width="0.6" height="0.6"/><rect x="487.5" y="47.7" width="0.6" height="0.6"/><rect x="490.8" y="41.5" width="0.6" height="0.6"/><rect x="498.3" y="43.5" width="0.6" height="0.6"/><rect x="489.5" y="43.2" width="0.6" height="0.6"/><rect x="496.7" y="40.9" width="0.6" height="0.6"/><rect x="487.0" y="59.1" width="0.6" height="0.6"/><rect x="485.6" y="58.7" width="0.6" height="0.6"/><rect x="482.8" y="60.2" width="0.6" height="0.6"/><rect x="487.8" y="48.0" width="0.6" height="0.6"/><rect x="484.2" y="56.7" width="0.6" height="0.6"/><rect x="485.2" y="56.1" width="0.6" height="0.6"/><rect x="498.1" y="43.7" width="0.6" height="0.6"/><rect x="492.8" y="42.0" width="0.6" height="0.6"/><rect x="488.4" y="42.9" width="0.6" height="0.6"/><rect x="499.1" y="42.3" width="0.6" height="0.6"/><rect x="492.8" y="42.7" width="0.6" height="0.6"/><rect x="489.9" y="44.6" width="0.6" height="0.6"/><rect x="485.5" y="56.0" width="0.6" height="0.6"/><rect x="487.1" y="54.4" width="0.6" height="0.6"/><rect x="490.0" y="43.2" width="0.6" height="0.6"/><rect x="487.8" y="46.2" width="0.6" height="0.6"/><rect x="485.7" y="47.8" width="0.6" height="0.6"/><rect x="484.8" y="50.8" width="0.6" height="0.6"/><rect x="487.7" y="43.9" width="0.6" height="0.6"/><rect x="487.2" y="53.8" width="0.6" height="0.6"/><rect x="496.3" y="45.0" width="0.6" height="0.6"/><rect x="485.3" y="47.7" width="0.6" height="0.6"/><rect x="498.6" y="42.4" width="0.6" height="0.6"/><rect x="498.8" y="43.3" width="0.6" height="0.6"/><rect x="487.5" y="44.0" width="0.6" height="0.6"/><rect x="486.1" y="48.7" width="0.6" height="0.6"/><rect x="484.2" y="53.8" width="0.6" height="0.6"/><rect x="492.8" y="41.8" width="0.6" height="0.6"/><rect x="486.5" y="45.1" width="0.6" height="0.6"/><rect x="495.7" y="43.0" width="0.6" height="0.6"/><rect x="487.5" y="48.0" width="0.6" height="0.6"/><rect x="486.3" y="54.0" width="0.6" height="0.6"/><rect x="489.1" y="44.8" width="0.6" height="0.6"/><rect x="485.2" y="46.6" width="0.6" height="0.6"/><rect x="499.1" y="44.4" width="0.6" height="0.6"/><rect x="485.6" y="48.7" width="0.6" height="0.6"/><rect x="491.1" y="39.4" width="0.6" height="0.6"/><rect x="490.4" y="42.8" width="0.6" height="0.6"/><rect x="497.7" y="40.7" width="0.6" height="0.6"/><rect x="487.0" y="55.6" width="0.6" height="0.6"/><rect x="487.2" y="46.2" width="0.6" height="0.6"/><rect x="485.8" y="50.7" width="0.6" height="0.6"/><rect x="491.6" y="41.8" width="0.6" height="0.6"/><rect x="487.1" y="43.8" width="0.6" height="0.6"/><rect x="486.2" y="47.9" width="0.6" height="0.6"/><rect x="485.4" y="46.6" width="0.6" height="0.6"/><rect x="489.5" y="43.0" width="0.6" height="0.6"/><rect x="485.9" y="56.1" width="0.6" height="0.6"/><rect x="494.3" y="42.0" width="0.6" height="0.6"/><rect x="487.3" y="48.0" width="0.6" height="0.6"/><rect x="488.0" y="44.5" width="0.6" height="0.6"/><rect x="495.7" y="43.7" width="0.6" height="0.6"/><rect x="487.0" y="47.0" width="0.6" height="0.6"/><rect x="496.8" y="40.9" width="0.6" height="0.6"/><rect x="484.9" y="55.6" width="0.6" height="0.6"/><rect x="487.9" y="60.7" width="0.6" height="0.6"/><rect x="485.4" y="47.1" width="0.6" height="0.6"/><rect x="485.3" y="51.2" width="0.6" height="0.6"/><rect x="484.6" y="58.4" width="0.6" height="0.6"/><rect x="487.5" y="47.3" width="0.6" height="0.6"/><rect x="488.0" y="43.7" width="0.6" height="0.6"/><rect x="488.5" y="54.3" width="0.6" height="0.6"/><rect x="485.1" y="55.8" width="0.6" height="0.6"/><rect x="490.1" y="44.5" width="0.6" height="0.6"/><rect x="485.0" y="59.2" width="0.6" height="0.6"/><rect x="497.3" y="44.5" width="0.6" height="0.6"/><rect x="488.4" y="45.8" width="0.6" height="0.6"/><rect x="484.4" y="48.6" width="0.6" height="0.6"/><rect x="490.4" y="44.0" width="0.6" height="0.6"/><rect x="495.3" y="42.4" width="0.6" height="0.6"/><rect x="488.8" y="45.1" width="0.6" height="0.6"/><rect x="492.4" y="42.9" width="0.6" height="0.6"/><rect x="486.6" y="59.7" width="0.6" height="0.6"/><rect x="489.2" y="43.2" width="0.6" height="0.6"/><rect x="485.3" y="55.6" width="0.6" height="0.6"/><rect x="495.7" y="43.7" width="0.6" height="0.6"/><rect x="484.6" y="51.0" width="0.6" height="0.6"/><rect x="485.8" y="59.6" width="0.6" height="0.6"/><rect x="486.0" y="47.5" width="0.6" height="0.6"/><rect x="486.0" y="50.6" width="0.6" height="0.6"/><rect x="486.6" y="54.6" width="0.6" height="0.6"/><rect x="487.8" y="49.2" width="0.6" height="0.6"/><rect x="489.2" y="45.1" width="0.6" height="0.6"/><rect x="485.7" y="51.0" width="0.6" height="0.6"/><rect x="497.9" y="41.4" width="0.6" height="0.6"/><rect x="492.5" y="43.7" width="0.6" height="0.6"/><rect x="487.7" y="59.6" width="0.6" height="0.6"/><rect x="485.3" y="59.1" width="0.6" height="0.6"/><rect x="485.6" y="53.9" width="0.6" height="0.6"/><rect x="486.3" y="58.1" width="0.6" height="0.6"/><rect x="487.7" y="46.7" width="0.6" height="0.6"/><rect x="484.0" y="59.2" width="0.6" height="0.6"/><rect x="488.6" y="42.8" width="0.6" height="0.6"/><rect x="495.9" y="44.6" width="0.6" height="0.6"/><rect x="484.6" y="55.8" width="0.6" height="0.6"/><rect x="486.0" y="57.7" width="0.6" height="0.6"/><rect x="495.3" y="42.7" width="0.6" height="0.6"/><rect x="485.5" y="56.6" width="0.6" height="0.6"/><rect x="484.4" y="48.4" width="0.6" height="0.6"/><rect x="486.4" y="59.8" width="0.6" height="0.6"/><rect x="484.5" y="52.9" width="0.6" height="0.6"/><rect x="490.7" y="44.8" width="0.6" height="0.6"/><rect x="490.2" y="42.4" width="0.6" height="0.6"/><rect x="487.9" y="47.2" width="0.6" height="0.6"/><rect x="493.7" y="41.9" width="0.6" height="0.6"/><rect x="485.1" y="48.0" width="0.6" height="0.6"/><rect x="485.6" y="46.5" width="0.6" height="0.6"/><rect x="488.1" y="58.0" width="0.6" height="0.6"/><rect x="486.6" y="50.6" width="0.6" height="0.6"/><rect x="487.2" y="60.3" width="0.6" height="0.6"/><rect x="496.6" y="43.9" width="0.6" height="0.6"/><rect x="485.3" y="59.5" width="0.6" height="0.6"/><rect x="494.0" y="43.4" width="0.6" height="0.6"/><rect x="496.9" y="42.3" width="0.6" height="0.6"/><rect x="486.5" y="59.4" width="0.6" height="0.6"/><rect x="490.3" y="43.1" width="0.6" height="0.6"/><rect x="488.1" y="44.6" width="0.6" height="0.6"/><rect x="487.0" y="45.3" width="0.6" height="0.6"/><rect x="493.9" y="40.1" width="0.6" height="0.6"/><rect x="488.7" y="43.6" width="0.6" height="0.6"/><rect x="484.6" y="59.7" width="0.6" height="0.6"/><rect x="491.3" y="43.3" width="0.6" height="0.6"/><rect x="484.4" y="47.5" width="0.6" height="0.6"/><rect x="490.5" y="44.0" width="0.6" height="0.6"/><rect x="490.6" y="41.4" width="0.6" height="0.6"/><rect x="486.0" y="56.3" width="0.6" height="0.6"/><rect x="489.9" y="43.8" width="0.6" height="0.6"/><rect x="485.8" y="56.2" width="0.6" height="0.6"/><rect x="487.7" y="50.8" width="0.6" height="0.6"/><rect x="485.7" y="52.4" width="0.6" height="0.6"/><rect x="484.4" y="52.0" width="0.6" height="0.6"/><rect x="487.0" y="53.0" width="0.6" height="0.6"/><rect x="486.7" y="47.3" width="0.6" height="0.6"/><rect x="495.8" y="43.6" width="0.6" height="0.6"/><rect x="491.8" y="42.6" width="0.6" height="0.6"/><rect x="485.5" y="51.5" width="0.6" height="0.6"/><rect x="493.4" y="42.6" width="0.6" height="0.6"/><rect x="490.9" y="42.1" width="0.6" height="0.6"/><rect x="494.7" y="42.8" width="0.6" height="0.6"/><rect x="491.1" y="43.6" width="0.6" height="0.6"/><rect x="486.3" y="46.8" width="0.6" height="0.6"/><rect x="492.8" y="42.9" width="0.6" height="0.6"/><rect x="493.8" y="43.6" width="0.6" height="0.6"/><rect x="491.0" y="43.9" width="0.6" height="0.6"/><rect x="488.4" y="47.6" width="0.6" height="0.6"/><rect x="484.9" y="49.4" width="0.6" height="0.6"/><rect x="484.7" y="61.0" width="0.6" height="0.6"/><rect x="485.2" y="57.0" width="0.6" height="0.6"/><rect x="488.6" y="52.3" width="0.6" height="0.6"/><rect x="486.2" y="61.4" width="0.6" height="0.6"/><rect x="493.3" y="43.3" width="0.6" height="0.6"/><rect x="500.2" y="43.1" width="0.6" height="0.6"/><rect x="495.4" y="42.8" width="0.6" height="0.6"/><rect x="486.8" y="45.6" width="0.6" height="0.6"/><rect x="495.6" y="42.0" width="0.6" height="0.6"/><rect x="492.7" y="40.4" width="0.6" height="0.6"/><rect x="484.7" y="58.3" width="0.6" height="0.6"/><rect x="485.4" y="51.7" width="0.6" height="0.6"/><rect x="484.9" y="59.2" width="0.6" height="0.6"/><rect x="484.4" y="55.2" width="0.6" height="0.6"/><rect x="486.7" y="57.8" width="0.6" height="0.6"/><rect x="486.8" y="51.9" width="0.6" height="0.6"/><rect x="492.7" y="42.6" width="0.6" height="0.6"/><rect x="484.4" y="59.0" width="0.6" height="0.6"/><rect x="499.5" y="42.0" width="0.6" height="0.6"/><rect x="484.6" y="61.5" width="0.6" height="0.6"/><rect x="488.9" y="59.9" width="0.6" height="0.6"/><rect x="487.1" y="51.9" width="0.6" height="0.6"/><rect x="488.9" y="46.9" width="0.6" height="0.6"/><rect x="486.2" y="46.4" width="0.6" height="0.6"/><rect x="497.0" y="41.7" width="0.6" height="0.6"/><rect x="485.6" y="54.6" width="0.6" height="0.6"/><rect x="488.6" y="47.2" width="0.6" height="0.6"/><rect x="484.0" y="49.3" width="0.6" height="0.6"/><rect x="485.0" y="51.3" width="0.6" height="0.6"/><rect x="499.7" y="43.1" width="0.6" height="0.6"/><rect x="489.3" y="43.4" width="0.6" height="0.6"/></g>
<g fill="#333" fill-opacity="0.22"><rect x="490.6" y="46.6" width="0.6" height="0.6"/><rect x="497.4" y="47.3" width="0.6" height="0.6"/><rect x="492.0" y="47.7" width="0.6" height="0.6"/><rect x="493.9" y="47.2" width="0.6" height="0.6"/><rect x="490.3" y="50.0" width="0.6" height="0.6"/><rect x="489.8" y="48.2" width="0.6" height="0.6"/><rect x="496.4" y="47.0" width="0.6" height="0.6"/><rect x="498.1" y="48.3" width="0.6" height="0.6"/><rect x="494.5" y="46.4" width="0.6" height="0.6"/><rect x="496.4" y="47.3" width="0.6" height="0.6"/><rect x="495.1" y="46.5" width="0.6" height="0.6"/><rect x="493.4" y="47.4" width="0.6" height="0.6"/><rect x="496.1" y="45.7" width="0.6" height="0.6"/><rect x="494.4" y="46.6" width="0.6" height="0.6"/><rect x="498.9" y="47.8" width="0.6" height="0.6"/><rect x="491.0" y="47.4" width="0.6" height="0.6"/><rect x="492.1" y="48.4" width="0.6" height="0.6"/><rect x="489.5" y="47.8" width="0.6" height="0.6"/><rect x="488.7" y="47.7" width="0.6" height="0.6"/><rect x="494.7" y="47.3" width="0.6" height="0.6"/><rect x="488.8" y="48.3" width="0.6" height="0.6"/><rect x="489.7" y="49.4" width="0.6" height="0.6"/><rect x="489.4" y="47.5" width="0.6" height="0.6"/><rect x="493.3" y="48.1" width="0.6" height="0.6"/><rect x="494.4" y="47.8" width="0.6" height="0.6"/><rect x="492.0" y="48.4" width="0.6" height="0.6"/><rect x="496.8" y="45.7" width="0.6" height="0.6"/><rect x="497.5" y="46.7" width="0.6" height="0.6"/><rect x="495.2" y="46.8" width="0.6" height="0.6"/><rect x="493.3" y="46.5" width="0.6" height="0.6"/><rect x="498.1" y="47.1" width="0.6" height="0.6"/><rect x="490.6" y="48.4" width="0.6" height="0.6"/><rect x="493.5" y="46.3" width="0.6" height="0.6"/><rect x="499.1" y="47.1" width="0.6" height="0.6"/><rect x="495.7" y="46.7" width="0.6" height="0.6"/><rect x="492.5" y="49.2" width="0.6" height="0.6"/><rect x="488.6" y="48.7" width="0.6" height="0.6"/><rect x="489.0" y="47.4" width="0.6" height="0.6"/><rect x="490.2" y="47.7" width="0.6" height="0.6"/><rect x="497.7" y="47.8" width="0.6" height="0.6"/><rect x="489.3" y="46.8" width="0.6" height="0.6"/><rect x="491.5" y="47.9" width="0.6" height="0.6"/><rect x="497.1" y="47.7" width="0.6" height="0.6"/><rect x="491.7" y="48.5" width="0.6" height="0.6"/><rect x="498.1" y="45.6" width="0.6" height="0.6"/><rect x="497.1" y="46.5" width="0.6" height="0.6"/><rect x="492.4" y="46.1" width="0.6" height="0.6"/><rect x="494.8" y="47.6" width="0.6" height="0.6"/><rect x="488.6" y="49.0" width="0.6" height="0.6"/><rect x="492.1" y="47.5" width="0.6" height="0.6"/><rect x="497.5" y="47.2" width="0.6" height="0.6"/><rect x="492.6" y="45.5" width="0.6" height="0.6"/><rect x="489.0" y="49.6" width="0.6" height="0.6"/><rect x="497.8" y="46.5" width="0.6" height="0.6"/><rect x="495.5" y="47.0" width="0.6" height="0.6"/><rect x="491.9" y="47.1" width="0.6" height="0.6"/><rect x="490.2" y="48.2" width="0.6" height="0.6"/><rect x="489.3" y="49.5" width="0.6" height="0.6"/><rect x="489.0" y="45.4" width="0.6" height="0.6"/><rect x="490.6" y="47.3" width="0.6" height="0.6"/><rect x="494.4" y="48.3" width="0.6" height="0.6"/><rect x="489.8" y="47.2" width="0.6" height="0.6"/><rect x="495.5" y="45.9" width="0.6" height="0.6"/><rect x="490.1" y="48.0" width="0.6" height="0.6"/><rect x="492.9" y="46.8" width="0.6" height="0.6"/><rect x="494.1" y="48.2" width="0.6" height="0.6"/><rect x="491.0" y="47.6" width="0.6" height="0.6"/><rect x="490.4" y="46.8" width="0.6" height="0.6"/><rect x="494.4" y="46.2" width="0.6" height="0.6"/><rect x="490.0" y="49.2" width="0.6" height="0.6"/><rect x="491.1" y="46.6" width="0.6" height="0.6"/><rect x="489.9" y="48.2" width="0.6" height="0.6"/><rect x="497.4" y="45.4" width="0.6" height="0.6"/><rect x="490.0" y="47.0" width="0.6" height="0.6"/><rect x="488.9" y="47.5" width="0.6" height="0.6"/><rect x="497.9" y="46.7" width="0.6" height="0.6"/><rect x="491.2" y="47.3" width="0.6" height="0.6"/><rect x="493.3" y="47.3" width="0.6" height="0.6"/><rect x="490.5" y="47.7" width="0.6" height="0.6"/><rect x="496.0" y="45.8" width="0.6" height="0.6"/><rect x="489.2" y="47.0" width="0.6" height="0.6"/><rect x="492.0" y="47.3" width="0.6" height="0.6"/><rect x="492.8" y="47.0" width="0.6" height="0.6"/><rect x="495.1" y="47.8" width="0.6" height="0.6"/><rect x="496.0" y="46.9" width="0.6" height="0.6"/><rect x="495.8" y="48.0" width="0.6" height="0.6"/><rect x="493.8" y="46.1" width="0.6" height="0.6"/><rect x="498.0" y="47.5" width="0.6" height="0.6"/><rect x="493.5" y="48.5" width="0.6" height="0.6"/><rect x="494.7" y="45.8" width="0.6" height="0.6"/><rect x="497.3" y="47.6" width="0.6" height="0.6"/><rect x="493.4" y="47.6" width="0.6" height="0.6"/><rect x="493.4" y="45.1" width="0.6" height="0.6"/><rect x="497.6" y="46.3" width="0.6" height="0.6"/><rect x="489.2" y="47.3" width="0.6" height="0.6"/><rect x="489.1" y="48.6" width="0.6" height="0.6"/><rect x="496.5" y="45.7" width="0.6" height="0.6"/><rect x="494.0" y="46.2" width="0.6" height="0.6"/><rect x="490.0" y="47.1" width="0.6" height="0.6"/><rect x="490.8" y="48.1" width="0.6" height="0.6"/><rect x="496.3" y="47.2" width="0.6" height="0.6"/><rect x="491.7" y="48.8" width="0.6" height="0.6"/><rect x="495.3" y="47.7" width="0.6" height="0.6"/><rect x="489.4" y="49.1" width="0.6" height="0.6"/><rect x="491.2" y="49.0" width="0.6" height="0.6"/><rect x="488.0" y="47.0" width="0.6" height="0.6"/><rect x="491.5" y="49.3" width="0.6" height="0.6"/><rect x="491.9" y="47.4" width="0.6" height="0.6"/><rect x="493.8" y="47.1" width="0.6" height="0.6"/><rect x="491.9" y="47.6" width="0.6" height="0.6"/><rect x="489.7" y="47.5" width="0.6" height="0.6"/><rect x="491.5" y="47.7" width="0.6" height="0.6"/><rect x="488.7" y="47.4" width="0.6" height="0.6"/><rect x="497.7" y="46.7" width="0.6" height="0.6"/><rect x="492.3" y="45.9" width="0.6" height="0.6"/><rect x="493.5" y="47.0" width="0.6" height="0.6"/><rect x="488.8" y="48.3" width="0.6" height="0.6"/><rect x="493.4" y="45.9" width="0.6" height="0.6"/><rect x="490.5" y="47.9" width="0.6" height="0.6"/><rect x="497.5" y="47.1" width="0.6" height="0.6"/><rect x="490.7" y="47.2" width="0.6" height="0.6"/><rect x="490.5" y="48.7" width="0.6" height="0.6"/><rect x="492.1" y="47.6" width="0.6" height="0.6"/><rect x="497.1" y="49.2" width="0.6" height="0.6"/><rect x="497.3" y="46.9" width="0.6" height="0.6"/><rect x="492.1" y="47.8" width="0.6" height="0.6"/><rect x="490.6" y="47.8" width="0.6" height="0.6"/><rect x="489.8" y="48.4" width="0.6" height="0.6"/><rect x="491.0" y="47.0" width="0.6" height="0.6"/><rect x="491.5" y="46.1" width="0.6" height="0.6"/><rect x="499.2" y="47.6" width="0.6" height="0.6"/><rect x="495.3" y="47.1" width="0.6" height="0.6"/><rect x="495.0" y="46.9" width="0.6" height="0.6"/><rect x="496.0" y="47.3" width="0.6" height="0.6"/><rect x="496.9" y="46.7" width="0.6" height="0.6"/><rect x="491.5" y="47.8" width="0.6" height="0.6"/><rect x="496.6" y="47.0" width="0.6" height="0.6"/><rect x="495.2" y="46.6" width="0.6" height="0.6"/><rect x="492.3" y="48.4" width="0.6" height="0.6"/><rect x="494.3" y="45.4" width="0.6" height="0.6"/><rect x="496.9" y="49.2" width="0.6" height="0.6"/><rect x="493.5" y="47.4" width="0.6" height="0.6"/><rect x="498.5" y="47.2" width="0.6" height="0.6"/><rect x="491.7" y="46.5" width="0.6" height="0.6"/><rect x="496.3" y="45.8" width="0.6" height="0.6"/><rect x="492.9" y="46.0" width="0.6" height="0.6"/><rect x="497.7" y="47.2" width="0.6" height="0.6"/><rect x="491.8" y="48.9" width="0.6" height="0.6"/><rect x="493.6" y="47.7" width="0.6" height="0.6"/><rect x="494.9" y="47.9" width="0.6" height="0.6"/><rect x="498.4" y="47.9" width="0.6" height="0.6"/><rect x="488.4" y="47.3" width="0.6" height="0.6"/><rect x="494.9" y="46.5" width="0.6" height="0.6"/><rect x="497.0" y="46.9" width="0.6" height="0.6"/><rect x="490.4" y="48.1" width="0.6" height="0.6"/><rect x="491.5" y="46.6" width="0.6" height="0.6"/><rect x="498.2" y="48.4" width="0.6" height="0.6"/><rect x="489.2" y="49.0" width="0.6" height="0.6"/><rect x="497.3" y="45.0" width="0.6" height="0.6"/><rect x="494.0" y="47.8" width="0.6" height="0.6"/><rect x="495.4" y="47.4" width="0.6" height="0.6"/><rect x="493.9" y="46.1" width="0.6" height="0.6"/><rect x="495.6" y="46.7" width="0.6" height="0.6"/><rect x="495.2" y="46.5" width="0.6" height="0.6"/><rect x="492.0" y="47.5" width="0.6" height="0.6"/><rect x="491.8" y="47.5" width="0.6" height="0.6"/><rect x="493.4" y="48.2" width="0.6" height="0.6"/><rect x="497.9" y="45.9" width="0.6" height="0.6"/><rect x="490.7" y="47.6" width="0.6" height="0.6"/><rect x="489.8" y="49.6" width="0.6" height="0.6"/><rect x="491.2" y="47.4" width="0.6" height="0.6"/><rect x="497.4" y="46.9" width="0.6" height="0.6"/><rect x="490.2" y="49.0" width="0.6" height="0.6"/><rect x="497.6" y="49.5" width="0.6" height="0.6"/><rect x="490.6" y="48.1" width="0.6" height="0.6"/><rect x="492.1" y="46.1" width="0.6" height="0.6"/><rect x="496.3" y="47.0" width="0.6" height="0.6"/><rect x="491.6" y="47.4" width="0.6" height="0.6"/><rect x="495.6" y="49.7" width="0.6" height="0.6"/><rect x="494.5" y="46.8" width="0.6" height="0.6"/><rect x="491.5" y="48.9" width="0.6" height="0.6"/><rect x="490.0" y="49.2" width="0.6" height="0.6"/><rect x="491.2" y="47.7" width="0.6" height="0.6"/><rect x="498.5" y="48.0" width="0.6" height="0.6"/><rect x="495.6" y="46.1" width="0.6" height="0.6"/><rect x="498.6" y="46.9" width="0.6" height="0.6"/><rect x="489.8" y="47.2" width="0.6" height="0.6"/><rect x="493.7" y="48.1" width="0.6" height="0.6"/><rect x="488.3" y="48.3" width="0.6" height="0.6"/><rect x="490.8" y="47.4" width="0.6" height="0.6"/><rect x="495.1" y="47.2" width="0.6" height="0.6"/><rect x="495.6" y="46.0" width="0.6" height="0.6"/><rect x="495.9" y="46.9" width="0.6" height="0.6"/><rect x="496.1" y="47.1" width="0.6" height="0.6"/><rect x="488.7" y="46.7" width="0.6" height="0.6"/><rect x="492.9" y="45.3" width="0.6" height="0.6"/><rect x="499.5" y="46.1" width="0.6" height="0.6"/><rect x="491.9" y="46.3" width="0.6" height="0.6"/><rect x="497.4" y="46.2" width="0.6" height="0.6"/><rect x="496.0" y="47.5" width="0.6" height="0.6"/><rect x="494.1" y="47.0" width="0.6" height="0.6"/><rect x="492.3" y="47.8" width="0.6" height="0.6"/><rect x="494.4" y="47.5" width="0.6" height="0.6"/><rect x="491.7" y="48.4" width="0.6" height="0.6"/><rect x="493.1" y="46.6" width="0.6" height="0.6"/><rect x="496.9" y="46.9" width="0.6" height="0.6"/><rect x="497.5" y="48.0" width="0.6" height="0.6"/><rect x="496.9" y="47.6" width="0.6" height="0.6"/><rect x="490.5" y="47.4" width="0.6" height="0.6"/><rect x="493.7" y="47.1" width="0.6" height="0.6"/><rect x="491.9" y="47.5" width="0.6" height="0.6"/><rect x="498.9" y="47.5" width="0.6" height="0.6"/><rect x="490.0" y="47.8" width="0.6" height="0.6"/><rect x="493.7" y="45.8" width="0.6" height="0.6"/><rect x="489.7" y="48.5" width="0.6" height="0.6"/><rect x="498.0" y="47.2" width="0.6" height="0.6"/><rect x="490.9" y="48.4" width="0.6" height="0.6"/><rect x="497.4" y="47.3" width="0.6" height="0.6"/><rect x="488.8" y="48.9" width="0.6" height="0.6"/><rect x="490.9" y="47.0" width="0.6" height="0.6"/></g>
<g fill="#333" fill-opacity="0.22"><rect x="488.1" y="57.2" width="0.6" height="0.6"/><rect x="489.7" y="59.4" width="0.6" height="0.6"/><rect x="489.0" y="50.3" width="0.6" height="0.6"/><rect x="488.3" y="59.8" width="0.6" height="0.6"/><rect x="489.0" y="53.9" width="0.6" height="0.6"/><rect x="489.8" y="53.2" width="0.6" height="0.6"/><rect x="491.2" y="56.0" width="0.6" height="0.6"/><rect x="489.0" y="53.8" width="0.6" height="0.6"/><rect x="487.6" y="56.9" width="0.6" height="0.6"/><rect x="488.7" y="52.8" width="0.6" height="0.6"/><rect x="488.5" y="52.1" width="0.6" height="0.6"/><rect x="489.7" y="54.5" width="0.6" height="0.6"/><rect x="489.4" y="59.8" width="0.6" height="0.6"/><rect x="488.4" y="58.6" width="0.6" height="0.6"/><rect x="488.4" y="59.7" width="0.6" height="0.6"/><rect x="489.2" y="53.0" width="0.6" height="0.6"/><rect x="488.6" y="59.3" width="0.6" height="0.6"/><rect x="490.6" y="54.0" width="0.6" height="0.6"/><rect x="489.3" y="56.5" width="0.6" height="0.6"/><rect x="488.2" y="59.5" width="0.6" height="0.6"/><rect x="488.2" y="57.6" width="0.6" height="0.6"/><rect x="488.3" y="53.0" width="0.6" height="0.6"/><rect x="488.5" y="57.0" width="0.6" height="0.6"/><rect x="490.1" y="56.4" width="0.6" height="0.6"/><rect x="488.9" y="60.0" width="0.6" height="0.6"/><rect x="488.3" y="55.8" width="0.6" height="0.6"/><rect x="488.3" y="59.8" width="0.6" height="0.6"/><rect x="488.3" y="54.9" width="0.6" height="0.6"/><rect x="489.5" y="60.0" width="0.6" height="0.6"/><rect x="488.5" y="58.2" width="0.6" height="0.6"/><rect x="488.5" y="58.2" width="0.6" height="0.6"/><rect x="488.6" y="53.4" width="0.6" height="0.6"/><rect x="490.7" y="53.1" width="0.6" height="0.6"/><rect x="489.6" y="50.4" width="0.6" height="0.6"/><rect x="489.9" y="52.4" width="0.6" height="0.6"/><rect x="487.3" y="59.8" width="0.6" height="0.6"/><rect x="489.7" y="50.5" width="0.6" height="0.6"/><rect x="489.3" y="57.8" width="0.6" height="0.6"/><rect x="488.7" y="50.5" width="0.6" height="0.6"/><rect x="488.8" y="49.5" width="0.6" height="0.6"/><rect x="487.7" y="50.2" width="0.6" height="0.6"/><rect x="487.0" y="59.6" width="0.6" height="0.6"/><rect x="489.6" y="55.4" width="0.6" height="0.6"/><rect x="487.8" y="58.5" width="0.6" height="0.6"/><rect x="487.8" y="58.1" width="0.6" height="0.6"/><rect x="488.8" y="50.6" width="0.6" height="0.6"/><rect x="489.7" y="52.6" width="0.6" height="0.6"/><rect x="489.1" y="52.7" width="0.6" height="0.6"/><rect x="488.2" y="52.2" width="0.6" height="0.6"/><rect x="489.3" y="54.8" width="0.6" height="0.6"/><rect x="487.6" y="52.6" width="0.6" height="0.6"/><rect x="488.4" y="55.6" width="0.6" height="0.6"/><rect x="488.6" y="50.4" width="0.6" height="0.6"/><rect x="487.7" y="51.5" width="0.6" height="0.6"/><rect x="488.7" y="54.3" width="0.6" height="0.6"/><rect x="488.4" y="54.6" width="0.6" height="0.6"/><rect x="489.6" y="51.2" width="0.6" height="0.6"/><rect x="489.4" y="50.9" width="0.6" height="0.6"/><rect x="489.9" y="57.9" width="0.6" height="0.6"/><rect x="487.2" y="53.4" width="0.6" height="0.6"/><rect x="488.1" y="55.0" width="0.6" height="0.6"/><rect x="487.7" y="53.2" width="0.6" height="0.6"/><rect x="487.9" y="52.7" width="0.6" height="0.6"/><rect x="489.3" y="56.5" width="0.6" height="0.6"/><rect x="487.9" y="57.4" width="0.6" height="0.6"/><rect x="488.0" y="52.8" width="0.6" height="0.6"/><rect x="489.1" y="55.0" width="0.6" height="0.6"/><rect x="489.6" y="58.8" width="0.6" height="0.6"/><rect x="487.6" y="52.6" width="0.6" height="0.6"/><rect x="488.8" y="53.3" width="0.6" height="0.6"/><rect x="489.2" y="56.3" width="0.6" height="0.6"/><rect x="489.6" y="58.1" width="0.6" height="0.6"/><rect x="488.8" y="51.5" width="0.6" height="0.6"/><rect x="488.0" y="53.9" width="0.6" height="0.6"/><rect x="489.0" y="50.2" width="0.6" height="0.6"/><rect x="490.4" y="55.2" width="0.6" height="0.6"/><rect x="488.2" y="57.9" width="0.6" height="0.6"/><rect x="488.9" y="58.4" width="0.6" height="0.6"/><rect x="489.0" y="58.0" width="0.6" height="0.6"/><rect x="488.7" y="58.0" width="0.6" height="0.6"/><rect x="488.4" y="55.5" width="0.6" height="0.6"/><rect x="488.7" y="51.5" width="0.6" height="0.6"/><rect x="489.5" y="54.2" width="0.6" height="0.6"/><rect x="488.0" y="52.4" width="0.6" height="0.6"/><rect x="488.7" y="51.8" width="0.6" height="0.6"/><rect x="490.6" y="59.6" width="0.6" height="0.6"/><rect x="489.1" y="55.0" width="0.6" height="0.6"/><rect x="489.4" y="59.1" width="0.6" height="0.6"/><rect x="488.9" y="50.1" width="0.6" height="0.6"/><rect x="488.5" y="57.2" width="0.6" height="0.6"/><rect x="488.3" y="54.3" width="0.6" height="0.6"/><rect x="488.6" y="59.1" width="0.6" height="0.6"/><rect x="490.0" y="58.8" width="0.6" height="0.6"/><rect x="489.4" y="56.7" width="0.6" height="0.6"/><rect x="489.2" y="55.0" width="0.6" height="0.6"/><rect x="490.3" y="50.6" width="0.6" height="0.6"/><rect x="488.1" y="59.2" width="0.6" height="0.6"/><rect x="489.6" y="55.3" width="0.6" height="0.6"/><rect x="489.3" y="51.1" width="0.6" height="0.6"/><rect x="489.2" y="52.2" width="0.6" height="0.6"/><rect x="489.4" y="53.8" width="0.6" height="0.6"/><rect x="489.1" y="55.4" width="0.6" height="0.6"/><rect x="487.8" y="52.7" width="0.6" height="0.6"/><rect x="488.5" y="54.1" width="0.6" height="0.6"/><rect x="488.4" y="55.5" width="0.6" height="0.6"/><rect x="487.6" y="54.9" width="0.6" height="0.6"/><rect x="489.0" y="55.6" width="0.6" height="0.6"/><rect x="488.7" y="54.9" width="0.6" height="0.6"/><rect x="489.8" y="58.7" width="0.6" height="0.6"/><rect x="488.0" y="59.4" width="0.6" height="0.6"/><rect x="488.3" y="52.5" width="0.6" height="0.6"/><rect x="488.4" y="59.4" width="0.6" height="0.6"/><rect x="489.1" y="51.1" width="0.6" height="0.6"/><rect x="490.5" y="57.9" width="0.6" height="0.6"/><rect x="487.8" y="57.2" width="0.6" height="0.6"/><rect x="487.6" y="59.8" width="0.6" height="0.6"/><rect x="488.6" y="49.9" width="0.6" height="0.6"/><rect x="488.7" y="51.6" width="0.6" height="0.6"/><rect x="488.6" y="49.8" width="0.6" height="0.6"/><rect x="489.5" y="59.8" width="0.6" height="0.6"/><rect x="488.9" y="51.4" width="0.6" height="0.6"/><rect x="488.3" y="53.7" width="0.6" height="0.6"/><rect x="488.7" y="55.0" width="0.6" height="0.6"/><rect x="490.0" y="59.5" width="0.6" height="0.6"/><rect x="488.8" y="57.9" width="0.6" height="0.6"/><rect x="489.4" y="57.1" width="0.6" height="0.6"/><rect x="488.1" y="58.3" width="0.6" height="0.6"/><rect x="489.6" y="59.6" width="0.6" height="0.6"/><rect x="488.6" y="51.5" width="0.6" height="0.6"/><rect x="487.7" y="58.1" width="0.6" height="0.6"/><rect x="490.4" y="59.5" width="0.6" height="0.6"/><rect x="489.0" y="58.0" width="0.6" height="0.6"/><rect x="489.2" y="53.0" width="0.6" height="0.6"/><rect x="489.1" y="55.3" width="0.6" height="0.6"/><rect x="489.2" y="54.7" width="0.6" height="0.6"/><rect x="489.0" y="51.7" width="0.6" height="0.6"/><rect x="489.5" y="57.9" width="0.6" height="0.6"/><rect x="488.5" y="59.8" width="0.6" height="0.6"/><rect x="488.8" y="52.5" width="0.6" height="0.6"/><rect x="489.1" y="57.2" width="0.6" height="0.6"/><rect x="489.5" y="55.3" width="0.6" height="0.6"/><rect x="488.4" y="58.2" width="0.6" height="0.6"/><rect x="488.0" y="53.8" width="0.6" height="0.6"/><rect x="488.2" y="59.9" width="0.6" height="0.6"/><rect x="488.5" y="55.5" width="0.6" height="0.6"/><rect x="488.7" y="54.5" width="0.6" height="0.6"/><rect x="490.5" y="55.6" width="0.6" height="0.6"/><rect x="488.6" y="55.9" width="0.6" height="0.6"/><rect x="488.2" y="50.7" width="0.6" height="0.6"/><rect x="489.2" y="55.5" width="0.6" height="0.6"/></g>
</g>
<rect x="509.7" y="38.6" width="1.1" height="39.8" fill="#d8d8d8"/>
<line x1="482" y1="50.6" x2="511" y2="50.6" stroke="#555" stroke-width="0.6" />
<line x1="492.2" y1="50.6" x2="492.2" y2="78.6" stroke="#999" stroke-width="0.6" />
<line x1="477" y1="37.8" x2="477" y2="78.6" stroke="#000" stroke-width="1.1" />
<line x1="476.5" y1="78.6" x2="510.5" y2="78.6" stroke="#000" stroke-width="1.1" />
<line x1="475.2" y1="38.7" x2="477" y2="38.7" stroke="#000" stroke-width="0.8" />
<text x="463.46" y="40.60" font-size="5.2" fill="#222" textLength="5.12" lengthAdjust="spacingAndGlyphs" >10</text>
<text x="468.8" y="38.300000000000004" font-size="3.4" text-anchor="start" font-weight="normal" fill="#222" >5</text>
<line x1="475.2" y1="49.2" x2="477" y2="49.2" stroke="#000" stroke-width="0.8" />
<text x="463.46" y="51.10" font-size="5.2" fill="#222" textLength="5.12" lengthAdjust="spacingAndGlyphs" >10</text>
<text x="468.8" y="48.800000000000004" font-size="3.4" text-anchor="start" font-weight="normal" fill="#222" >4</text>
<line x1="475.2" y1="59.5" x2="477" y2="59.5" stroke="#000" stroke-width="0.8" />
<text x="463.46" y="61.40" font-size="5.2" fill="#222" textLength="5.12" lengthAdjust="spacingAndGlyphs" >10</text>
<text x="468.8" y="59.1" font-size="3.4" text-anchor="start" font-weight="normal" fill="#222" >3</text>
<line x1="475.2" y1="70.4" x2="477" y2="70.4" stroke="#000" stroke-width="0.8" />
<text x="463.46" y="72.30" font-size="5.2" fill="#222" textLength="5.12" lengthAdjust="spacingAndGlyphs" >10</text>
<text x="468.8" y="70.0" font-size="3.4" text-anchor="start" font-weight="normal" fill="#222" >2</text>
<line x1="476.1" y1="40.5" x2="477" y2="40.5" stroke="#000" stroke-width="0.45" />
<line x1="476.1" y1="42" x2="477" y2="42" stroke="#000" stroke-width="0.45" />
<line x1="476.1" y1="43.5" x2="477" y2="43.5" stroke="#000" stroke-width="0.45" />
<line x1="476.1" y1="45" x2="477" y2="45" stroke="#000" stroke-width="0.45" />
<line x1="476.1" y1="46.5" x2="477" y2="46.5" stroke="#000" stroke-width="0.45" />
<line x1="476.1" y1="48" x2="477" y2="48" stroke="#000" stroke-width="0.45" />
<line x1="476.1" y1="51" x2="477" y2="51" stroke="#000" stroke-width="0.45" />
<line x1="476.1" y1="52.5" x2="477" y2="52.5" stroke="#000" stroke-width="0.45" />
<line x1="476.1" y1="54" x2="477" y2="54" stroke="#000" stroke-width="0.45" />
<line x1="476.1" y1="55.5" x2="477" y2="55.5" stroke="#000" stroke-width="0.45" />
<line x1="476.1" y1="57" x2="477" y2="57" stroke="#000" stroke-width="0.45" />
<line x1="476.1" y1="58" x2="477" y2="58" stroke="#000" stroke-width="0.45" />
<line x1="476.1" y1="61" x2="477" y2="61" stroke="#000" stroke-width="0.45" />
<line x1="476.1" y1="62.5" x2="477" y2="62.5" stroke="#000" stroke-width="0.45" />
<line x1="476.1" y1="64" x2="477" y2="64" stroke="#000" stroke-width="0.45" />
<line x1="476.1" y1="65.5" x2="477" y2="65.5" stroke="#000" stroke-width="0.45" />
<line x1="476.1" y1="67" x2="477" y2="67" stroke="#000" stroke-width="0.45" />
<line x1="476.1" y1="68.5" x2="477" y2="68.5" stroke="#000" stroke-width="0.45" />
<line x1="476.1" y1="72" x2="477" y2="72" stroke="#000" stroke-width="0.45" />
<line x1="476.1" y1="73.5" x2="477" y2="73.5" stroke="#000" stroke-width="0.45" />
<line x1="476.1" y1="75" x2="477" y2="75" stroke="#000" stroke-width="0.45" />
<line x1="476.1" y1="76.5" x2="477" y2="76.5" stroke="#000" stroke-width="0.45" />
<line x1="478.2" y1="78.6" x2="478.2" y2="79.8" stroke="#000" stroke-width="0.5" />
<line x1="480.4" y1="78.6" x2="480.4" y2="79.8" stroke="#000" stroke-width="0.5" />
<line x1="482.59999999999997" y1="78.6" x2="482.59999999999997" y2="79.8" stroke="#000" stroke-width="0.5" />
<line x1="484.8" y1="78.6" x2="484.8" y2="79.8" stroke="#000" stroke-width="0.5" />
<line x1="487.0" y1="78.6" x2="487.0" y2="79.8" stroke="#000" stroke-width="0.5" />
<line x1="489.2" y1="78.6" x2="489.2" y2="79.8" stroke="#000" stroke-width="0.5" />
<line x1="491.4" y1="78.6" x2="491.4" y2="79.8" stroke="#000" stroke-width="0.5" />
<line x1="493.59999999999997" y1="78.6" x2="493.59999999999997" y2="79.8" stroke="#000" stroke-width="0.5" />
<line x1="495.8" y1="78.6" x2="495.8" y2="79.8" stroke="#000" stroke-width="0.5" />
<line x1="498.0" y1="78.6" x2="498.0" y2="79.8" stroke="#000" stroke-width="0.5" />
<line x1="500.2" y1="78.6" x2="500.2" y2="79.8" stroke="#000" stroke-width="0.5" />
<line x1="502.4" y1="78.6" x2="502.4" y2="79.8" stroke="#000" stroke-width="0.5" />
<line x1="504.59999999999997" y1="78.6" x2="504.59999999999997" y2="79.8" stroke="#000" stroke-width="0.5" />
<line x1="506.8" y1="78.6" x2="506.8" y2="79.8" stroke="#000" stroke-width="0.5" />
<text x="486" y="42.5" font-size="3.4" text-anchor="start" font-weight="normal" fill="#333" >S</text>
<text x="509.5" y="42.5" font-size="3.4" text-anchor="end" font-weight="normal" fill="#333" >51.7%</text>
<text x="483" y="71" font-size="3.2" text-anchor="start" font-weight="normal" fill="#333" >G1</text>
<text x="483" y="74.8" font-size="3.2" text-anchor="start" font-weight="normal" fill="#333" >40.7%</text>
<text x="498.2" y="71" font-size="3.2" text-anchor="start" font-weight="normal" fill="#333" >G2/M</text>
<text x="498.2" y="74.8" font-size="3.2" text-anchor="start" font-weight="normal" fill="#333" >8.4%</text>
<text x="489.2" y="89.0" font-size="5.2" text-anchor="middle" font-weight="normal" fill="#222" >50</text>
<text x="502.4" y="89.0" font-size="5.2" text-anchor="middle" font-weight="normal" fill="#222" >100</text>
<line x1="408.3" y1="34" x2="408.3" y2="80.4" stroke="#000" stroke-width="1.1" />
<polygon points="408.3,31 406.5,36 410.1,36" fill="#000"/>
<text transform="translate(403.40 63.00) rotate(-90)" x="-0.31" y="0" font-size="6.2" font-weight="bold" fill="#222" textLength="10.74" lengthAdjust="spacingAndGlyphs" >FITC</text>
<line x1="415.2" y1="93.4" x2="506" y2="93.4" stroke="#000" stroke-width="1.1" />
<polygon points="510.2,93.4 504.5,91.3 504.5,95.5" fill="#000"/>
<text x="56.87" y="157.40" font-size="7.6" fill="#222" textLength="39.89" lengthAdjust="spacingAndGlyphs" >UBE2T (OS)</text>
<line x1="33.3" y1="161.4" x2="33.3" y2="242.6" stroke="#000" stroke-width="1.1" />
<line x1="30" y1="241.9" x2="121.3" y2="241.9" stroke="#000" stroke-width="1.2" />
<line x1="30" y1="239.0" x2="33.3" y2="239.0" stroke="#000" stroke-width="0.9" />
<text x="20.90" y="240.80" font-size="5.2" fill="#222" textLength="7.08" lengthAdjust="spacingAndGlyphs" >0.0</text>
<line x1="30" y1="224.18" x2="33.3" y2="224.18" stroke="#000" stroke-width="0.9" />
<text x="20.89" y="225.98" font-size="5.2" fill="#222" textLength="7.16" lengthAdjust="spacingAndGlyphs" >0.2</text>
<line x1="30" y1="209.36" x2="33.3" y2="209.36" stroke="#000" stroke-width="0.9" />
<text x="20.90" y="211.16" font-size="5.2" fill="#222" textLength="7.06" lengthAdjust="spacingAndGlyphs" >0.4</text>
<line x1="30" y1="194.54" x2="33.3" y2="194.54" stroke="#000" stroke-width="0.9" />
<text x="20.90" y="196.34" font-size="5.2" fill="#222" textLength="7.11" lengthAdjust="spacingAndGlyphs" >0.6</text>
<line x1="30" y1="179.72" x2="33.3" y2="179.72" stroke="#000" stroke-width="0.9" />
<text x="20.90" y="181.52" font-size="5.2" fill="#222" textLength="7.11" lengthAdjust="spacingAndGlyphs" >0.8</text>
<line x1="30" y1="164.9" x2="33.3" y2="164.9" stroke="#000" stroke-width="0.9" />
<text x="20.71" y="166.70" font-size="5.2" fill="#222" textLength="7.28" lengthAdjust="spacingAndGlyphs" >1.0</text>
<line x1="33.3" y1="241.9" x2="33.3" y2="244.3" stroke="#000" stroke-width="0.9" />
<text x="33.3" y="251.6" font-size="5.3" text-anchor="middle" font-weight="normal" fill="#222" >0</text>
<line x1="52.599999999999994" y1="241.9" x2="52.599999999999994" y2="244.3" stroke="#000" stroke-width="0.9" />
<text x="52.599999999999994" y="251.6" font-size="5.3" text-anchor="middle" font-weight="normal" fill="#222" >20</text>
<line x1="71.9" y1="241.9" x2="71.9" y2="244.3" stroke="#000" stroke-width="0.9" />
<text x="71.9" y="251.6" font-size="5.3" text-anchor="middle" font-weight="normal" fill="#222" >40</text>
<line x1="91.19999999999999" y1="241.9" x2="91.19999999999999" y2="244.3" stroke="#000" stroke-width="0.9" />
<text x="91.19999999999999" y="251.6" font-size="5.3" text-anchor="middle" font-weight="normal" fill="#222" >60</text>
<line x1="110.5" y1="241.9" x2="110.5" y2="244.3" stroke="#000" stroke-width="0.9" />
<text x="110.5" y="251.6" font-size="5.3" text-anchor="middle" font-weight="normal" fill="#222" >80</text>
<text x="70.88" y="261.80" font-size="6.8" font-weight="bold" fill="#222" textLength="11.72" lengthAdjust="spacingAndGlyphs" >Days</text>
<text transform="translate(14.40 210.80) rotate(-90)" x="-0.14" y="0" font-size="5.9" font-weight="bold" fill="#222" textLength="18.46" lengthAdjust="spacingAndGlyphs" >Survival</text>
<polyline points="33.50,166.20 35.50,166.20 35.50,168.00 37.30,168.00 37.30,169.90 39.00,169.90 39.00,171.50 41.00,171.50 41.00,173.50 42.50,173.50 42.50,176.00 43.70,176.00 43.70,178.10 45.00,178.10 45.00,180.50 46.50,180.50 46.50,182.70 54.70,182.70 54.70,182.70 56.50,182.70 56.50,184.50 62.90,184.50 62.90,185.40 66.60,185.40 66.60,188.20 69.30,188.20 69.30,190.00 70.20,190.00 70.20,193.60 71.10,193.60 71.10,195.50 73.90,195.50 73.90,196.40 78.40,196.40 78.40,199.10 83.90,199.10 83.90,201.00 86.70,201.00 86.70,203.70 93.10,203.70 93.10,203.70 93.10,203.70 93.10,210.60 110.40,210.60 110.40,210.80" stroke="#6cbf4a" stroke-width="1" fill="none" />
<polyline points="33.50,164.40 36.00,164.40 36.00,167.00 39.10,167.00 39.10,169.00 41.00,169.00 41.00,170.80 44.60,170.80 44.60,172.60 46.50,172.60 46.50,174.50 48.30,174.50 48.30,176.30 50.10,176.30 50.10,178.10 52.90,178.10 52.90,180.00 54.70,180.00 54.70,181.80 57.40,181.80 57.40,184.50 59.50,184.50 59.50,186.00 61.10,186.00 61.10,187.30 62.50,187.30 62.50,189.00 63.80,189.00 63.80,190.90 64.70,190.90 64.70,192.80 65.60,192.80 65.60,194.60 67.50,194.60 67.50,196.40 71.10,196.40 71.10,196.40 73.00,196.40 73.00,198.20 75.70,198.20 75.70,200.00 77.50,200.00 77.50,202.80 83.90,202.80 83.90,203.70 85.80,203.70 85.80,205.90 88.50,205.90 88.50,207.40 92.20,207.40 92.20,211.60 112.30,211.60 112.30,211.80" stroke="#d0284a" stroke-width="1" fill="none" />
<polyline points="33.50,165.00 35.50,165.00 35.50,166.50 37.30,166.50 37.30,168.00 41.00,168.00 41.00,169.30 50.10,169.30 50.10,170.40 51.00,170.40 51.00,171.20 59.30,171.20 59.30,172.30 64.70,172.30 64.70,173.50 74.20,173.50 74.20,174.10 74.80,174.10 74.80,177.20 76.60,177.20 76.60,179.00 79.40,179.00 79.40,181.80 80.30,181.80 80.30,183.20 91.60,183.20 91.60,183.20 92.00,183.20 92.00,187.30 117.80,187.30 117.80,187.30" stroke="#4a6ab0" stroke-width="1" fill="none" />
<line x1="94.29" y1="186.60000000000002" x2="94.29" y2="188.0" stroke="#4a6ab0" stroke-width="0.5" />
<line x1="97.86" y1="186.60000000000002" x2="97.86" y2="188.0" stroke="#4a6ab0" stroke-width="0.5" />
<line x1="101.43" y1="186.60000000000002" x2="101.43" y2="188.0" stroke="#4a6ab0" stroke-width="0.5" />
<line x1="105.0" y1="186.60000000000002" x2="105.0" y2="188.0" stroke="#4a6ab0" stroke-width="0.5" />
<line x1="108.57" y1="186.60000000000002" x2="108.57" y2="188.0" stroke="#4a6ab0" stroke-width="0.5" />
<line x1="112.14" y1="186.60000000000002" x2="112.14" y2="188.0" stroke="#4a6ab0" stroke-width="0.5" />
<line x1="115.71" y1="186.60000000000002" x2="115.71" y2="188.0" stroke="#4a6ab0" stroke-width="0.5" />
<line x1="96.0" y1="210.10000000000002" x2="96.0" y2="211.5" stroke="#6cbf4a" stroke-width="0.5" />
<line x1="100.0" y1="210.10000000000002" x2="100.0" y2="211.5" stroke="#6cbf4a" stroke-width="0.5" />
<line x1="104.0" y1="210.10000000000002" x2="104.0" y2="211.5" stroke="#6cbf4a" stroke-width="0.5" />
<line x1="108.0" y1="210.10000000000002" x2="108.0" y2="211.5" stroke="#6cbf4a" stroke-width="0.5" />
<line x1="94.9" y1="211.10000000000002" x2="94.9" y2="212.5" stroke="#d0284a" stroke-width="0.5" />
<line x1="98.7" y1="211.10000000000002" x2="98.7" y2="212.5" stroke="#d0284a" stroke-width="0.5" />
<line x1="102.5" y1="211.10000000000002" x2="102.5" y2="212.5" stroke="#d0284a" stroke-width="0.5" />
<line x1="106.3" y1="211.10000000000002" x2="106.3" y2="212.5" stroke="#d0284a" stroke-width="0.5" />
<line x1="110.1" y1="211.10000000000002" x2="110.1" y2="212.5" stroke="#d0284a" stroke-width="0.5" />
<line x1="35.2" y1="218.7" x2="40.5" y2="218.7" stroke="#d0284a" stroke-width="1" />
<text x="42.29" y="220.60" font-size="5.3" fill="#222" textLength="23.73" lengthAdjust="spacingAndGlyphs" >Upper 1/3</text>
<line x1="35.2" y1="224.6" x2="40.5" y2="224.6" stroke="#6cbf4a" stroke-width="1" />
<text x="42.27" y="226.60" font-size="5.3" fill="#222" textLength="19.46" lengthAdjust="spacingAndGlyphs" >Med 1/3</text>
<line x1="35.2" y1="230.7" x2="40.5" y2="230.7" stroke="#4a6ab0" stroke-width="1" />
<text x="42.27" y="232.60" font-size="5.3" fill="#222" textLength="23.76" lengthAdjust="spacingAndGlyphs" >Lower 1/3</text>
<text x="42.35" y="238.60" font-size="5.3" fill="#222" textLength="39.43" lengthAdjust="spacingAndGlyphs" >p–value= 0.0017</text>
<text x="193.57" y="157.40" font-size="7.6" fill="#222" textLength="43.39" lengthAdjust="spacingAndGlyphs" >UBE2T (EFS)</text>
<line x1="171.6" y1="160.5" x2="171.6" y2="242.4" stroke="#000" stroke-width="1.1" />
<line x1="168.5" y1="241.6" x2="258" y2="241.6" stroke="#000" stroke-width="1.2" />
<line x1="168.4" y1="238.4" x2="171.6" y2="238.4" stroke="#000" stroke-width="0.9" />
<text x="159.00" y="240.20" font-size="5.2" fill="#222" textLength="7.08" lengthAdjust="spacingAndGlyphs" >0.0</text>
<line x1="168.4" y1="223.64000000000001" x2="171.6" y2="223.64000000000001" stroke="#000" stroke-width="0.9" />
<text x="158.99" y="225.44" font-size="5.2" fill="#222" textLength="7.16" lengthAdjust="spacingAndGlyphs" >0.2</text>
<line x1="168.4" y1="208.88" x2="171.6" y2="208.88" stroke="#000" stroke-width="0.9" />
<text x="159.00" y="210.68" font-size="5.2" fill="#222" textLength="7.06" lengthAdjust="spacingAndGlyphs" >0.4</text>
<line x1="168.4" y1="194.12" x2="171.6" y2="194.12" stroke="#000" stroke-width="0.9" />
<text x="159.00" y="195.92" font-size="5.2" fill="#222" textLength="7.11" lengthAdjust="spacingAndGlyphs" >0.6</text>
<line x1="168.4" y1="179.36" x2="171.6" y2="179.36" stroke="#000" stroke-width="0.9" />
<text x="159.00" y="181.16" font-size="5.2" fill="#222" textLength="7.11" lengthAdjust="spacingAndGlyphs" >0.8</text>
<line x1="168.4" y1="164.60000000000002" x2="171.6" y2="164.60000000000002" stroke="#000" stroke-width="0.9" />
<text x="158.81" y="166.40" font-size="5.2" fill="#222" textLength="7.28" lengthAdjust="spacingAndGlyphs" >1.0</text>
<line x1="171.4" y1="241.6" x2="171.4" y2="244" stroke="#000" stroke-width="0.9" />
<text x="171.4" y="251.3" font-size="5.3" text-anchor="middle" font-weight="normal" fill="#222" >0</text>
<line x1="190.5" y1="241.6" x2="190.5" y2="244" stroke="#000" stroke-width="0.9" />
<text x="190.5" y="251.3" font-size="5.3" text-anchor="middle" font-weight="normal" fill="#222" >20</text>
<line x1="209.6" y1="241.6" x2="209.6" y2="244" stroke="#000" stroke-width="0.9" />
<text x="209.6" y="251.3" font-size="5.3" text-anchor="middle" font-weight="normal" fill="#222" >40</text>
<line x1="228.7" y1="241.6" x2="228.7" y2="244" stroke="#000" stroke-width="0.9" />
<text x="228.7" y="251.3" font-size="5.3" text-anchor="middle" font-weight="normal" fill="#222" >60</text>
<line x1="247.8" y1="241.6" x2="247.8" y2="244" stroke="#000" stroke-width="0.9" />
<text x="247.8" y="251.3" font-size="5.3" text-anchor="middle" font-weight="normal" fill="#222" >80</text>
<text x="209.59" y="261.80" font-size="6.8" font-weight="bold" fill="#222" textLength="11.51" lengthAdjust="spacingAndGlyphs" >Days</text>
<text transform="translate(154.40 210.80) rotate(-90)" x="-0.14" y="0" font-size="5.9" font-weight="bold" fill="#222" textLength="18.46" lengthAdjust="spacingAndGlyphs" >Survival</text>
<polyline points="171.90,167.70 174.80,167.70 174.80,171.60 176.80,171.60 176.80,174.00 178.70,174.00 178.70,176.40 181.60,176.40 181.60,180.30 184.50,180.30 184.50,184.20 186.00,184.20 186.00,187.10 187.40,187.10 187.40,190.00 190.30,190.00 190.30,193.90 191.70,193.90 191.70,196.30 193.20,196.30 193.20,198.80 195.20,198.80 195.20,201.70 197.10,201.70 197.10,204.60 199.00,204.60 199.00,207.00 201.00,207.00 201.00,209.50 202.50,209.50 202.50,212.40 203.90,212.40 203.90,215.30 206.80,215.30 206.80,217.20 209.70,217.20 209.70,219.20 213.60,219.20 213.60,221.10 217.00,221.10 217.00,222.50 220.40,222.50 220.40,224.00 223.00,224.00 223.00,225.50 225.30,225.50 225.30,227.00 229.20,227.00 229.20,228.90 239.80,228.90 239.80,229.10" stroke="#6cbf4a" stroke-width="1" fill="none" />
<polyline points="171.90,164.80 173.80,164.80 173.80,168.70 175.20,168.70 175.20,170.60 176.70,170.60 176.70,172.60 178.20,172.60 178.20,174.50 179.70,174.50 179.70,176.40 181.10,176.40 181.10,178.80 182.60,178.80 182.60,181.30 184.00,181.30 184.00,183.70 185.50,183.70 185.50,186.20 187.40,186.20 187.40,190.00 190.30,190.00 190.30,192.00 191.80,192.00 191.80,194.00 193.20,194.00 193.20,195.90 196.20,195.90 196.20,199.70 197.60,199.70 197.60,202.60 199.10,202.60 199.10,205.60 200.50,205.60 200.50,208.00 202.00,208.00 202.00,210.40 203.00,210.40 203.00,212.80 203.90,212.80 203.90,215.30 207.80,215.30 207.80,217.20 209.70,217.20 209.70,220.10 213.60,220.10 213.60,222.10 215.00,222.10 215.00,224.50 216.50,224.50 216.50,227.00 220.40,227.00 220.40,229.50 230.10,229.50 230.10,229.90 230.50,229.90 230.50,232.80 240.80,232.80 240.80,233.00" stroke="#d0284a" stroke-width="1" fill="none" />
<polyline points="171.90,164.80 173.50,164.80 173.50,167.50 175.80,167.50 175.80,170.60 179.70,170.60 179.70,172.00 183.00,172.00 183.00,173.20 186.40,173.20 186.40,175.50 192.30,175.50 192.30,175.90 193.20,175.90 193.20,178.40 195.00,178.40 195.00,180.80 197.10,180.80 197.10,183.20 199.10,183.20 199.10,187.10 203.90,187.10 203.90,188.10 204.90,188.10 204.90,191.00 206.80,191.00 206.80,194.90 208.80,194.90 208.80,197.80 210.70,197.80 210.70,200.70 212.00,200.70 212.00,203.00 213.60,203.00 213.60,205.60 218.50,205.60 218.50,207.50 221.40,207.50 221.40,208.10 222.40,208.10 222.40,210.00 224.30,210.00 224.30,212.00 226.00,212.00 226.00,214.00 227.20,214.00 227.20,216.30 232.10,216.30 232.10,218.20 239.80,218.20 239.80,218.60 240.80,218.60 240.80,222.10 242.80,222.10 242.80,227.00 256.30,227.00 256.30,227.30" stroke="#4a6ab0" stroke-width="1" fill="none" />
<line x1="245.06" y1="226.60000000000002" x2="245.06" y2="228.0" stroke="#4a6ab0" stroke-width="0.5" />
<line x1="248.19" y1="226.60000000000002" x2="248.19" y2="228.0" stroke="#4a6ab0" stroke-width="0.5" />
<line x1="251.31" y1="226.60000000000002" x2="251.31" y2="228.0" stroke="#4a6ab0" stroke-width="0.5" />
<line x1="254.44" y1="226.60000000000002" x2="254.44" y2="228.0" stroke="#4a6ab0" stroke-width="0.5" />
<line x1="232.58" y1="232.3" x2="232.58" y2="233.7" stroke="#d0284a" stroke-width="0.5" />
<line x1="235.75" y1="232.3" x2="235.75" y2="233.7" stroke="#d0284a" stroke-width="0.5" />
<line x1="238.92" y1="232.3" x2="238.92" y2="233.7" stroke="#d0284a" stroke-width="0.5" />
<line x1="231.58" y1="228.4" x2="231.58" y2="229.79999999999998" stroke="#6cbf4a" stroke-width="0.5" />
<line x1="234.75" y1="228.4" x2="234.75" y2="229.79999999999998" stroke="#6cbf4a" stroke-width="0.5" />
<line x1="237.92" y1="228.4" x2="237.92" y2="229.79999999999998" stroke="#6cbf4a" stroke-width="0.5" />
<line x1="173.3" y1="220.3" x2="178.5" y2="220.3" stroke="#d0284a" stroke-width="1" />
<text x="181.00" y="221.70" font-size="5.3" fill="#222" textLength="23.22" lengthAdjust="spacingAndGlyphs" >Upper 1/3</text>
<line x1="173.3" y1="226.1" x2="178.5" y2="226.1" stroke="#6cbf4a" stroke-width="1" />
<text x="180.98" y="227.50" font-size="5.3" fill="#222" textLength="19.05" lengthAdjust="spacingAndGlyphs" >Med 1/3</text>
<line x1="173.3" y1="232.5" x2="178.5" y2="232.5" stroke="#4a6ab0" stroke-width="1" />
<text x="180.98" y="233.80" font-size="5.3" fill="#222" textLength="23.24" lengthAdjust="spacingAndGlyphs" >Lower 1/3</text>
<text x="181.06" y="238.30" font-size="5.3" fill="#222" textLength="38.72" lengthAdjust="spacingAndGlyphs" >p–value= 0.0012</text>
<rect x="37.10" y="350.91" width="4.95" height="0.49" fill="#fff" stroke="#de7c92" stroke-width="0.7"/>
<rect x="42.05" y="350.91" width="4.95" height="0.49" fill="#fff" stroke="#de7c92" stroke-width="0.7"/>
<rect x="47.00" y="349.69" width="4.95" height="1.71" fill="#fff" stroke="#de7c92" stroke-width="0.7"/>
<rect x="51.95" y="317.00" width="4.95" height="34.40" fill="#fff" stroke="#de7c92" stroke-width="0.7"/>
<rect x="56.90" y="309.19" width="4.95" height="42.21" fill="#fff" stroke="#de7c92" stroke-width="0.7"/>
<rect x="61.85" y="345.06" width="4.95" height="6.34" fill="#fff" stroke="#de7c92" stroke-width="0.7"/>
<rect x="66.80" y="347.25" width="4.95" height="4.15" fill="#fff" stroke="#de7c92" stroke-width="0.7"/>
<rect x="71.75" y="340.42" width="4.95" height="10.98" fill="#fff" stroke="#de7c92" stroke-width="0.7"/>
<rect x="76.70" y="339.20" width="4.95" height="12.20" fill="#fff" stroke="#de7c92" stroke-width="0.7"/>
<rect x="81.65" y="347.25" width="4.95" height="4.15" fill="#fff" stroke="#de7c92" stroke-width="0.7"/>
<rect x="86.60" y="350.18" width="4.95" height="1.22" fill="#fff" stroke="#de7c92" stroke-width="0.7"/>
<rect x="91.55" y="350.42" width="4.95" height="0.98" fill="#fff" stroke="#de7c92" stroke-width="0.7"/>
<rect x="96.50" y="348.96" width="4.95" height="2.44" fill="#fff" stroke="#de7c92" stroke-width="0.7"/>
<rect x="101.45" y="349.69" width="4.95" height="1.71" fill="#fff" stroke="#de7c92" stroke-width="0.7"/>
<rect x="106.40" y="350.91" width="4.95" height="0.49" fill="#fff" stroke="#de7c92" stroke-width="0.7"/>
<rect x="111.35" y="350.91" width="4.95" height="0.49" fill="#fff" stroke="#de7c92" stroke-width="0.7"/>
<rect x="116.30" y="351.16" width="4.95" height="0.24" fill="#fff" stroke="#de7c92" stroke-width="0.7"/>
<rect x="121.25" y="351.16" width="4.95" height="0.24" fill="#fff" stroke="#de7c92" stroke-width="0.7"/>
<rect x="126.20" y="351.16" width="4.95" height="0.24" fill="#fff" stroke="#de7c92" stroke-width="0.7"/>
<line x1="33.3" y1="311.9" x2="33.3" y2="353.6" stroke="#000" stroke-width="1.1" />
<line x1="32.8" y1="353.0" x2="134.2" y2="353.0" stroke="#000" stroke-width="1.2" />
<line x1="29.9" y1="351.4" x2="33.3" y2="351.4" stroke="#000" stroke-width="0.9" />
<text x="24.55" y="353.20" font-size="5.2" fill="#222" textLength="2.84" lengthAdjust="spacingAndGlyphs" >0</text>
<line x1="29.9" y1="339.2" x2="33.3" y2="339.2" stroke="#000" stroke-width="0.9" />
<text x="21.80" y="341.00" font-size="5.2" fill="#222" textLength="5.59" lengthAdjust="spacingAndGlyphs" >50</text>
<line x1="29.9" y1="327.0" x2="33.3" y2="327.0" stroke="#000" stroke-width="0.9" />
<text x="18.87" y="328.80" font-size="5.2" fill="#222" textLength="8.53" lengthAdjust="spacingAndGlyphs" >100</text>
<line x1="29.9" y1="314.79999999999995" x2="33.3" y2="314.79999999999995" stroke="#000" stroke-width="0.9" />
<text x="18.87" y="316.60" font-size="5.2" fill="#222" textLength="8.53" lengthAdjust="spacingAndGlyphs" >150</text>
<line x1="57.4" y1="353" x2="57.4" y2="355.2" stroke="#000" stroke-width="0.9" />
<text x="57.4" y="363.4" font-size="5.3" text-anchor="middle" font-weight="normal" fill="#222" >2</text>
<line x1="82.15" y1="353" x2="82.15" y2="355.2" stroke="#000" stroke-width="0.9" />
<text x="82.15" y="363.4" font-size="5.3" text-anchor="middle" font-weight="normal" fill="#222" >3</text>
<line x1="106.9" y1="353" x2="106.9" y2="355.2" stroke="#000" stroke-width="0.9" />
<text x="106.9" y="363.4" font-size="5.3" text-anchor="middle" font-weight="normal" fill="#222" >4</text>
<line x1="131.65" y1="353" x2="131.65" y2="355.2" stroke="#000" stroke-width="0.9" />
<text x="131.65" y="363.4" font-size="5.3" text-anchor="middle" font-weight="normal" fill="#222" >5</text>
<text x="55.80" y="373.70" font-size="7.0" font-weight="bold" fill="#222" textLength="56.30" lengthAdjust="spacingAndGlyphs" >Number of UBE2T copies</text>
<text transform="translate(13.20 344.50) rotate(-90)" x="-0.31" y="0" font-size="6.6" font-weight="bold" fill="#222" textLength="23.94" lengthAdjust="spacingAndGlyphs" >Frequency</text>
<line x1="171.6" y1="284" x2="171.6" y2="353.8" stroke="#000" stroke-width="1.1" />
<line x1="168.6" y1="353.1" x2="249.3" y2="353.1" stroke="#000" stroke-width="1.2" />
<polyline points="171.60,285.60 174.00,285.60 174.00,286.20 176.50,286.20 176.50,287.00 179.00,287.00 179.00,288.00 181.10,288.00 181.10,289.00 182.60,289.00 182.60,290.50 184.10,290.50 184.10,292.10 185.10,292.10 185.10,296.50 188.80,296.50 188.80,297.70 191.20,297.70 191.20,299.10 193.20,299.10 193.20,301.10 194.20,301.10 194.20,302.60 195.20,302.60 195.20,304.10 197.60,304.10 197.60,304.50 199.60,304.50 199.60,307.80 202.20,307.80 202.20,308.60 204.20,308.60 204.20,311.80 207.30,311.80 207.30,313.80 208.80,313.80 208.80,315.00 210.30,315.00 210.30,316.20 213.30,316.20 213.30,318.20 216.30,318.20 216.30,319.60 219.30,319.60 219.30,321.20 221.40,321.20 221.40,322.20 223.40,322.20 223.40,323.30 225.40,323.30 225.40,325.30 226.40,325.30 226.40,327.70 236.40,327.70 236.40,327.70 236.40,327.70 236.40,329.30 246.50,329.30 246.50,329.30" stroke="#d0284a" stroke-width="1" fill="none" />
<line x1="228.5" y1="327.0" x2="228.5" y2="328.4" stroke="#d0284a" stroke-width="0.5" />
<line x1="231.5" y1="327.0" x2="231.5" y2="328.4" stroke="#d0284a" stroke-width="0.5" />
<line x1="234.5" y1="327.0" x2="234.5" y2="328.4" stroke="#d0284a" stroke-width="0.5" />
<line x1="238.5" y1="328.6" x2="238.5" y2="330.0" stroke="#d0284a" stroke-width="0.5" />
<line x1="241.5" y1="328.6" x2="241.5" y2="330.0" stroke="#d0284a" stroke-width="0.5" />
<line x1="244.5" y1="328.6" x2="244.5" y2="330.0" stroke="#d0284a" stroke-width="0.5" />
<line x1="230.69" y1="318.90000000000003" x2="230.69" y2="320.3" stroke="#27438a" stroke-width="0.5" />
<line x1="233.06" y1="318.90000000000003" x2="233.06" y2="320.3" stroke="#27438a" stroke-width="0.5" />
<line x1="235.44" y1="318.90000000000003" x2="235.44" y2="320.3" stroke="#27438a" stroke-width="0.5" />
<line x1="237.81" y1="318.90000000000003" x2="237.81" y2="320.3" stroke="#27438a" stroke-width="0.5" />
<line x1="243.12" y1="321.6" x2="243.12" y2="323.0" stroke="#27438a" stroke-width="0.5" />
<line x1="245.38" y1="321.6" x2="245.38" y2="323.0" stroke="#27438a" stroke-width="0.5" />
<polyline points="171.60,285.60 172.70,285.60 172.70,285.90 173.80,285.90 173.80,286.20 174.90,286.20 174.90,286.50 176.00,286.50 176.00,286.80 177.28,286.80 177.28,287.23 178.55,287.23 178.55,287.65 179.82,287.65 179.82,288.07 181.10,288.07 181.10,288.50 181.85,288.50 181.85,289.15 182.60,289.15 182.60,289.80 183.35,289.80 183.35,290.45 184.10,290.45 184.10,291.10 184.60,291.10 184.60,291.60 185.10,291.60 185.10,292.10 185.60,292.10 185.60,292.60 186.10,292.60 186.10,293.10 187.12,293.10 187.12,293.35 188.15,293.35 188.15,293.60 189.17,293.60 189.17,293.85 190.20,293.85 190.20,294.10 191.45,294.10 191.45,295.00 192.70,295.00 192.70,295.90 193.95,295.90 193.95,296.80 195.20,296.80 195.20,297.70 196.45,297.70 196.45,298.30 197.70,298.30 197.70,298.90 198.95,298.90 198.95,299.50 200.20,299.50 200.20,300.10 201.45,300.10 201.45,300.85 202.70,300.85 202.70,301.60 203.95,301.60 203.95,302.35 205.20,302.35 205.20,303.10 206.72,303.10 206.72,304.12 208.25,304.12 208.25,305.15 209.78,305.15 209.78,306.18 211.30,306.18 211.30,307.20 212.80,307.20 212.80,308.05 214.30,308.05 214.30,308.90 215.80,308.90 215.80,309.75 217.30,309.75 217.30,310.60 218.80,310.60 218.80,311.60 220.30,311.60 220.30,312.60 221.80,312.60 221.80,313.60 223.30,313.60 223.30,314.60 224.08,314.60 224.08,315.00 224.85,315.00 224.85,315.40 225.62,315.40 225.62,315.80 226.40,315.80 226.40,316.20 226.80,316.20 226.80,316.65 227.20,316.65 227.20,317.10 227.60,317.10 227.60,317.55 228.00,317.55 228.00,318.00 228.35,318.00 228.35,318.40 228.70,318.40 228.70,318.80 229.05,318.80 229.05,319.20 229.40,319.20 229.40,319.60 231.90,319.60 231.90,319.60 234.40,319.60 234.40,319.60 236.90,319.60 236.90,319.60 239.40,319.60 239.40,319.60 239.93,319.60 239.93,320.28 240.45,320.28 240.45,320.95 240.97,320.95 240.97,321.62 241.50,321.62 241.50,322.30 242.75,322.30 242.75,322.30 244.00,322.30 244.00,322.30 245.25,322.30 245.25,322.30 246.50,322.30 246.50,322.30" stroke="#27438a" stroke-width="1.25" fill="none" />
<line x1="168.6" y1="350.4" x2="171.6" y2="350.4" stroke="#000" stroke-width="0.9" />
<text x="159.30" y="352.20" font-size="5.2" fill="#222" textLength="7.08" lengthAdjust="spacingAndGlyphs" >0.0</text>
<line x1="168.6" y1="337.52" x2="171.6" y2="337.52" stroke="#000" stroke-width="0.9" />
<text x="159.29" y="339.32" font-size="5.2" fill="#222" textLength="7.16" lengthAdjust="spacingAndGlyphs" >0.2</text>
<line x1="168.6" y1="324.64" x2="171.6" y2="324.64" stroke="#000" stroke-width="0.9" />
<text x="159.30" y="326.44" font-size="5.2" fill="#222" textLength="7.06" lengthAdjust="spacingAndGlyphs" >0.4</text>
<line x1="168.6" y1="311.76" x2="171.6" y2="311.76" stroke="#000" stroke-width="0.9" />
<text x="159.30" y="313.56" font-size="5.2" fill="#222" textLength="7.11" lengthAdjust="spacingAndGlyphs" >0.6</text>
<line x1="168.6" y1="298.88" x2="171.6" y2="298.88" stroke="#000" stroke-width="0.9" />
<text x="159.30" y="300.68" font-size="5.2" fill="#222" textLength="7.11" lengthAdjust="spacingAndGlyphs" >0.8</text>
<line x1="168.6" y1="286.0" x2="171.6" y2="286.0" stroke="#000" stroke-width="0.9" />
<text x="159.11" y="287.80" font-size="5.2" fill="#222" textLength="7.28" lengthAdjust="spacingAndGlyphs" >1.0</text>
<line x1="171.7" y1="353.1" x2="171.7" y2="355.3" stroke="#000" stroke-width="0.9" />
<text x="171.7" y="363.2" font-size="5.3" text-anchor="middle" font-weight="normal" fill="#222" >0</text>
<line x1="193.54999999999998" y1="353.1" x2="193.54999999999998" y2="355.3" stroke="#000" stroke-width="0.9" />
<text x="193.54999999999998" y="363.2" font-size="5.3" text-anchor="middle" font-weight="normal" fill="#222" >500</text>
<line x1="215.39999999999998" y1="353.1" x2="215.39999999999998" y2="355.3" stroke="#000" stroke-width="0.9" />
<text x="215.39999999999998" y="363.2" font-size="5.3" text-anchor="middle" font-weight="normal" fill="#222" >1000</text>
<line x1="237.25" y1="353.1" x2="237.25" y2="355.3" stroke="#000" stroke-width="0.9" />
<text x="237.25" y="363.2" font-size="5.3" text-anchor="middle" font-weight="normal" fill="#222" >1500</text>
<text x="205.22" y="373.60" font-size="6.8" font-weight="bold" fill="#222" textLength="10.46" lengthAdjust="spacingAndGlyphs" >Days</text>
<text transform="translate(152.40 339.10) rotate(-90)" x="-0.14" y="0" font-size="6.0" font-weight="bold" fill="#222" textLength="42.46" lengthAdjust="spacingAndGlyphs" >Survival probability</text>
<line x1="173.2" y1="333.4" x2="179" y2="333.4" stroke="#d0284a" stroke-width="1" />
<text x="180.08" y="334.90" font-size="5.3" fill="#222" textLength="9.32" lengthAdjust="spacingAndGlyphs" >Gain</text>
<line x1="173.2" y1="339.7" x2="179" y2="339.7" stroke="#5a72b0" stroke-width="1" />
<text x="180.19" y="341.00" font-size="5.3" fill="#222" textLength="21.54" lengthAdjust="spacingAndGlyphs" >The Rest</text>
<text x="179.96" y="347.40" font-size="5.3" fill="#222" textLength="34.54" lengthAdjust="spacingAndGlyphs" >p-value= 0.016</text>
<text x="297.07" y="153.10" font-size="5.2" fill="#222" textLength="17.43" lengthAdjust="spacingAndGlyphs" >γ-H2AX</text>
<text x="324.59" y="153.10" font-size="5.2" fill="#222" textLength="16.43" lengthAdjust="spacingAndGlyphs" >RAD51</text>
<text x="350.28" y="153.10" font-size="5.2" fill="#222" textLength="17.66" lengthAdjust="spacingAndGlyphs" >Merged</text>
<rect x="292" y="156" width="80" height="105" fill="#e0e0e0" />
<rect x="293" y="157" width="24.8" height="24.8" fill="#000" />
<rect x="319.4" y="157" width="24.8" height="24.8" fill="#000" />
<rect x="345.8" y="157" width="24.8" height="24.8" fill="#000" />
<rect x="293" y="183.1" width="24.8" height="24.8" fill="#000" />
<rect x="319.4" y="183.1" width="24.8" height="24.8" fill="#000" />
<rect x="345.8" y="183.1" width="24.8" height="24.8" fill="#000" />
<rect x="293" y="209.2" width="24.8" height="24.8" fill="#000" />
<rect x="319.4" y="209.2" width="24.8" height="24.8" fill="#000" />
<rect x="345.8" y="209.2" width="24.8" height="24.8" fill="#000" />
<rect x="293" y="235.3" width="24.8" height="24.8" fill="#000" />
<rect x="319.4" y="235.3" width="24.8" height="24.8" fill="#000" />
<rect x="345.8" y="235.3" width="24.8" height="24.8" fill="#000" />
<clipPath id="cp00"><rect x="293" y="157" width="24.8" height="24.8"/></clipPath>
<g clip-path="url(#cp00)"><g filter="url(#bl4)">
<circle cx="308.2" cy="166.8" r="1.4" fill="#3a0505"/>
<circle cx="306.6" cy="175.2" r="1.3" fill="#300404"/>
<circle cx="301" cy="172" r="1" fill="#200303"/>
</g></g>
<clipPath id="cp01"><rect x="319.4" y="157" width="24.8" height="24.8"/></clipPath>
<g clip-path="url(#cp01)"><g filter="url(#bl4)">
<circle cx="328.9" cy="169.8" r="1.64" fill="#1c7a1c" fill-opacity="0.66" stroke="#1c7a1c" stroke-width="0.68"/>
<circle cx="333.5" cy="166" r="1.39" fill="#0c3c0c" fill-opacity="0.66" stroke="#0c3c0c" stroke-width="0.58"/>
<circle cx="336.5" cy="171" r="1.31" fill="#0a300a" fill-opacity="0.66" stroke="#0a300a" stroke-width="0.54"/>
<circle cx="333.5" cy="176" r="1.64" fill="#0e420e" fill-opacity="0.66" stroke="#0e420e" stroke-width="0.68"/>
<circle cx="330" cy="162" r="1.2" fill="#082808"/>
</g></g>
<clipPath id="cp02"><rect x="345.8" y="157" width="24.8" height="24.8"/></clipPath>
<g clip-path="url(#cp02)"><g filter="url(#bl4)">
<circle cx="359.7" cy="162.4" r="3.0" fill="#1e2cff"/>
<circle cx="360.5" cy="167.6" r="3.0" fill="#1e2cff"/>
<circle cx="355.4" cy="169.8" r="3.0" fill="#1e2cff"/>
<circle cx="365.1" cy="171.4" r="3.0" fill="#1e2cff"/>
<circle cx="357.6" cy="174.5" r="2.9" fill="#1e2cff"/>
<circle cx="359.9" cy="177.6" r="2.9" fill="#1e2cff"/>
</g></g>
<clipPath id="cp10"><rect x="293" y="183.1" width="24.8" height="24.8"/></clipPath>
<g clip-path="url(#cp10)"><g filter="url(#bl4)">
<circle cx="301.5" cy="186.8" r="2.4" fill="#3a0000"/>
<circle cx="306" cy="186.4" r="2.3" fill="#300000"/>
<circle cx="310.8" cy="188.3" r="2.4" fill="#420000"/>
<circle cx="299.8" cy="194.5" r="2.4" fill="#3a0000"/>
<circle cx="305.2" cy="193.6" r="2.5" fill="#480000"/>
<circle cx="310.2" cy="192.8" r="2.4" fill="#3a0000"/>
<circle cx="314.2" cy="196.2" r="2.2" fill="#3a0000"/>
<circle cx="304.4" cy="200.3" r="2.4" fill="#480000"/>
<circle cx="309.9" cy="200.5" r="2.5" fill="#b01414"/>
<circle cx="313.5" cy="201" r="1.8" fill="#500000"/>
<circle cx="306" cy="205.9" r="2" fill="#3a0000"/>
</g></g>
<clipPath id="cp11"><rect x="319.4" y="183.1" width="24.8" height="24.8"/></clipPath>
<g clip-path="url(#cp11)"><g filter="url(#bl4)">
<circle cx="324.3" cy="190.7" r="1.5" fill="#0c400c"/>
<circle cx="335" cy="200" r="1.2" fill="#062006"/>
<circle cx="341" cy="196" r="1" fill="#062006"/>
<circle cx="331" cy="206" r="1" fill="#0a300a"/>
</g></g>
<clipPath id="cp12"><rect x="345.8" y="183.1" width="24.8" height="24.8"/></clipPath>
<g clip-path="url(#cp12)"><g filter="url(#bl4)">
<circle cx="350.5" cy="190.5" r="3.2" fill="#1c1cd4"/>
<circle cx="355" cy="186.6" r="3.1" fill="#1c1cd4"/>
<circle cx="359.7" cy="186.6" r="3.1" fill="#1e1ed0"/>
<circle cx="364.3" cy="187.4" r="3.0" fill="#1c1cd4"/>
<circle cx="353.5" cy="195.8" r="3.2" fill="#1c1cd4"/>
<circle cx="359.7" cy="194.3" r="3.3" fill="#1e1ed0"/>
<circle cx="365" cy="192.8" r="3.1" fill="#1c1cd4"/>
<circle cx="356.6" cy="200.5" r="3.2" fill="#1c1cd4"/>
<circle cx="362.8" cy="200.5" r="3.0" fill="#6a28e0"/>
<circle cx="367.4" cy="203.5" r="2.8" fill="#1c1cd4"/>
<circle cx="356.6" cy="205.4" r="2.6" fill="#1c1cd4"/>
<circle cx="361.5" cy="205.8" r="2.6" fill="#1c1cd4"/>
<circle cx="368.5" cy="197" r="2.4" fill="#2a1cc8"/>
</g></g>
<clipPath id="cp20"><rect x="293" y="209.2" width="24.8" height="24.8"/></clipPath>
<g clip-path="url(#cp20)"><g filter="url(#bl4)">
<circle cx="303.3" cy="219.5" r="1.72" fill="#8a0c0c" fill-opacity="0.66" stroke="#8a0c0c" stroke-width="0.71"/>
<circle cx="309.5" cy="219.5" r="2.30" fill="#f01c1c" fill-opacity="0.66" stroke="#f01c1c" stroke-width="0.95"/>
<circle cx="314" cy="229.5" r="1.97" fill="#b81818" fill-opacity="0.66" stroke="#b81818" stroke-width="0.82"/>
<circle cx="308.5" cy="231.5" r="0.7" fill="#600000"/>
</g></g>
<clipPath id="cp21"><rect x="319.4" y="209.2" width="24.8" height="24.8"/></clipPath>
<g clip-path="url(#cp21)"><g filter="url(#bl4)">
<circle cx="324" cy="217" r="1.72" fill="#0e480e" fill-opacity="0.66" stroke="#0e480e" stroke-width="0.71"/>
<circle cx="330.2" cy="219.8" r="2.05" fill="#2aa82a" fill-opacity="0.66" stroke="#2aa82a" stroke-width="0.85"/>
<circle cx="336.2" cy="220" r="2.05" fill="#209020" fill-opacity="0.66" stroke="#209020" stroke-width="0.85"/>
<circle cx="342" cy="223" r="1.31" fill="#0a300a" fill-opacity="0.66" stroke="#0a300a" stroke-width="0.54"/>
<circle cx="335.5" cy="226" r="1.97" fill="#0e400e" fill-opacity="0.66" stroke="#0e400e" stroke-width="0.82"/>
<circle cx="340.8" cy="229.5" r="2.05" fill="#30b030" fill-opacity="0.66" stroke="#30b030" stroke-width="0.85"/>
<circle cx="335.5" cy="231.5" r="1.23" fill="#0c3a0c" fill-opacity="0.66" stroke="#0c3a0c" stroke-width="0.51"/>
</g></g>
<clipPath id="cp22"><rect x="345.8" y="209.2" width="24.8" height="24.8"/></clipPath>
<g clip-path="url(#cp22)"><g filter="url(#bl4)">
<circle cx="350.3" cy="217.2" r="2.4" fill="#1e22e8"/>
<circle cx="356.2" cy="219.6" r="2.30" fill="#8a90ff" fill-opacity="0.66" stroke="#8a90ff" stroke-width="0.95"/>
<circle cx="362.6" cy="219.6" r="2.38" fill="#e040e8" fill-opacity="0.66" stroke="#e040e8" stroke-width="0.99"/>
<circle cx="368.4" cy="223.6" r="2.6" fill="#1e22e8"/>
<circle cx="361" cy="226" r="2.8" fill="#1e22e8"/>
<circle cx="367.4" cy="229.6" r="2.30" fill="#c8b0ff" fill-opacity="0.66" stroke="#c8b0ff" stroke-width="0.95"/>
<circle cx="362.6" cy="231.5" r="2.6" fill="#1e22e8"/>
</g></g>
<clipPath id="cp30"><rect x="293" y="235.3" width="24.8" height="24.8"/></clipPath>
<g clip-path="url(#cp30)"><g filter="url(#bl4)">
<circle cx="301.2" cy="238.6" r="2.13" fill="#c01616" fill-opacity="0.66" stroke="#c01616" stroke-width="0.88"/>
<circle cx="304.3" cy="244.8" r="2.30" fill="#e01a1a" fill-opacity="0.66" stroke="#e01a1a" stroke-width="0.95"/>
<circle cx="310.2" cy="243.2" r="2.13" fill="#8a0c0c" fill-opacity="0.66" stroke="#8a0c0c" stroke-width="0.88"/>
<circle cx="299.7" cy="248.6" r="2.21" fill="#a01212" fill-opacity="0.66" stroke="#a01212" stroke-width="0.92"/>
<circle cx="311.7" cy="249" r="2.13" fill="#a81414" fill-opacity="0.66" stroke="#a81414" stroke-width="0.88"/>
<circle cx="305" cy="252.5" r="1.97" fill="#700a0a" fill-opacity="0.66" stroke="#700a0a" stroke-width="0.82"/>
<circle cx="307.4" cy="257" r="1.89" fill="#e01a1a" fill-opacity="0.66" stroke="#e01a1a" stroke-width="0.78"/>
<circle cx="315" cy="241" r="1.6" fill="#500606"/>
<circle cx="295.8" cy="251" r="1.8" fill="#500606"/>
<circle cx="313.5" cy="255" r="1.8" fill="#500606"/>
</g></g>
<clipPath id="cp31"><rect x="319.4" y="235.3" width="24.8" height="24.8"/></clipPath>
<g clip-path="url(#cp31)"><g filter="url(#bl4)">
<circle cx="327.4" cy="238.6" r="1.89" fill="#124a12" fill-opacity="0.66" stroke="#124a12" stroke-width="0.78"/>
<circle cx="326.6" cy="248.6" r="2.13" fill="#1f8a1f" fill-opacity="0.66" stroke="#1f8a1f" stroke-width="0.88"/>
<circle cx="336.5" cy="242.5" r="1.64" fill="#0c360c" fill-opacity="0.66" stroke="#0c360c" stroke-width="0.68"/>
<circle cx="332" cy="253" r="1.72" fill="#0e400e" fill-opacity="0.66" stroke="#0e400e" stroke-width="0.71"/>
<circle cx="327.5" cy="254" r="1.48" fill="#0c360c" fill-opacity="0.66" stroke="#0c360c" stroke-width="0.61"/>
<circle cx="338" cy="250" r="1.6" fill="#082808"/>
<circle cx="341" cy="238" r="1.2" fill="#082808"/>
</g></g>
<clipPath id="cp32"><rect x="345.8" y="235.3" width="24.8" height="24.8"/></clipPath>
<g clip-path="url(#cp32)"><g filter="url(#bl4)">
<circle cx="348.5" cy="242" r="2.6" fill="#1c1cd8"/>
<circle cx="354.2" cy="238.6" r="2.21" fill="#c040f0" fill-opacity="0.66" stroke="#c040f0" stroke-width="0.92"/>
<circle cx="357.5" cy="244.5" r="2.9" fill="#a040f0"/>
<circle cx="362.6" cy="243" r="2.7" fill="#5a30f0"/>
<circle cx="364.6" cy="238.2" r="2.5" fill="#1c1cd8"/>
<circle cx="368.4" cy="240" r="2.3" fill="#1c1cd8"/>
<circle cx="353" cy="248.6" r="2.7" fill="#6a34f0"/>
<circle cx="361" cy="250" r="2.7" fill="#1c1cd8"/>
<circle cx="366.6" cy="248.6" r="2.6" fill="#5030f0"/>
<circle cx="348.5" cy="252.5" r="2.6" fill="#1c1cd8"/>
<circle cx="354.2" cy="254.5" r="2.6" fill="#1c1cd8"/>
<circle cx="360.3" cy="255.5" r="2.6" fill="#1c1cd8"/>
<circle cx="367.4" cy="254.5" r="2.6" fill="#1c1cd8"/>
<circle cx="359.5" cy="258.5" r="2.4" fill="#d040e0"/>
<circle cx="350" cy="258.5" r="2.1" fill="#1c1cd8"/>
<circle cx="365" cy="258.6" r="2.2" fill="#1c1cd8"/>
</g></g>
<text transform="translate(281.70 177.90) rotate(-90)" x="-0.14" y="0" font-size="4.6" font-weight="bold" fill="#222" textLength="18.40" lengthAdjust="spacingAndGlyphs" >shControl</text>
<text transform="translate(281.70 207.10) rotate(-90)" x="-0.18" y="0" font-size="4.6" font-weight="bold" fill="#222" textLength="22.43" lengthAdjust="spacingAndGlyphs" >shUBE2T</text>
<text transform="translate(281.80 230.10) rotate(-90)" x="-0.15" y="0" font-size="4.6" font-weight="bold" fill="#222" textLength="19.83" lengthAdjust="spacingAndGlyphs" >shControl</text>
<text transform="translate(285.60 226.60) rotate(-90)" x="-0.13" y="0" font-size="4.6" font-weight="bold" fill="#222" textLength="9.57" lengthAdjust="spacingAndGlyphs" >+ CPT</text>
<text transform="translate(281.80 252.40) rotate(-90)" x="-0.11" y="0" font-size="4.6" font-weight="bold" fill="#222" textLength="14.55" lengthAdjust="spacingAndGlyphs" >shUBE2T</text>
<text transform="translate(286.20 249.50) rotate(-90)" x="-0.12" y="0" font-size="4.6" font-weight="bold" fill="#222" textLength="8.05" lengthAdjust="spacingAndGlyphs" >+CPT</text>
<rect x="317.3" y="282" width="8.1" height="5" fill="#a6032c" />
<text x="327.97" y="286.60" font-size="5.3" fill="#222" textLength="16.65" lengthAdjust="spacingAndGlyphs" >γH2AX</text>
<rect x="317.3" y="289.6" width="8.1" height="5" fill="#2c4784" />
<text x="327.57" y="294.20" font-size="5.3" fill="#222" textLength="17.16" lengthAdjust="spacingAndGlyphs" >RAD51</text>
<rect x="311.7" y="338.21" width="4.5" height="14.79" fill="#a6032c" />
<rect x="316.2" y="338.8475" width="4.3" height="14.152499999999998" fill="#2c4784" />
<line x1="313.95" y1="337.445" x2="313.95" y2="338.97499999999997" stroke="#000" stroke-width="0.8" />
<line x1="312.84999999999997" y1="337.445" x2="315.05" y2="337.445" stroke="#000" stroke-width="0.8" />
<line x1="312.84999999999997" y1="338.97499999999997" x2="315.05" y2="338.97499999999997" stroke="#000" stroke-width="0.8" />
<line x1="318.34999999999997" y1="337.89125" x2="318.34999999999997" y2="339.80375000000004" stroke="#000" stroke-width="0.8" />
<line x1="317.24999999999994" y1="337.89125" x2="319.45" y2="337.89125" stroke="#000" stroke-width="0.8" />
<line x1="317.24999999999994" y1="339.80375000000004" x2="319.45" y2="339.80375000000004" stroke="#000" stroke-width="0.8" />
<line x1="315.9" y1="353" x2="315.9" y2="355.4" stroke="#000" stroke-width="0.9" />
<rect x="324.2" y="332.9825" width="4.5" height="20.0175" fill="#a6032c" />
<rect x="328.7" y="338.8475" width="4.3" height="14.152499999999998" fill="#2c4784" />
<line x1="326.45" y1="331.96250000000003" x2="326.45" y2="334.0025" stroke="#000" stroke-width="0.8" />
<line x1="325.34999999999997" y1="331.96250000000003" x2="327.55" y2="331.96250000000003" stroke="#000" stroke-width="0.8" />
<line x1="325.34999999999997" y1="334.0025" x2="327.55" y2="334.0025" stroke="#000" stroke-width="0.8" />
<line x1="330.84999999999997" y1="336.61625000000004" x2="330.84999999999997" y2="341.07875" stroke="#000" stroke-width="0.8" />
<line x1="329.74999999999994" y1="336.61625000000004" x2="331.95" y2="336.61625000000004" stroke="#000" stroke-width="0.8" />
<line x1="329.74999999999994" y1="341.07875" x2="331.95" y2="341.07875" stroke="#000" stroke-width="0.8" />
<line x1="328.4" y1="353" x2="328.4" y2="355.4" stroke="#000" stroke-width="0.9" />
<rect x="337" y="329.85875" width="4.5" height="23.141249999999996" fill="#a6032c" />
<rect x="341.5" y="316.28" width="4.3" height="36.72" fill="#2c4784" />
<line x1="339.25" y1="329.22125" x2="339.25" y2="330.49625" stroke="#000" stroke-width="0.8" />
<line x1="338.15" y1="329.22125" x2="340.35" y2="329.22125" stroke="#000" stroke-width="0.8" />
<line x1="338.15" y1="330.49625" x2="340.35" y2="330.49625" stroke="#000" stroke-width="0.8" />
<line x1="343.65" y1="313.53875" x2="343.65" y2="319.02124999999995" stroke="#000" stroke-width="0.8" />
<line x1="342.54999999999995" y1="313.53875" x2="344.75" y2="313.53875" stroke="#000" stroke-width="0.8" />
<line x1="342.54999999999995" y1="319.02124999999995" x2="344.75" y2="319.02124999999995" stroke="#000" stroke-width="0.8" />
<line x1="341.2" y1="353" x2="341.2" y2="355.4" stroke="#000" stroke-width="0.9" />
<rect x="349.7" y="312.455" width="4.5" height="40.544999999999995" fill="#a6032c" />
<rect x="354.2" y="335.405" width="4.3" height="17.595" fill="#2c4784" />
<line x1="351.95" y1="311.435" x2="351.95" y2="313.47499999999997" stroke="#000" stroke-width="0.8" />
<line x1="350.84999999999997" y1="311.435" x2="353.05" y2="311.435" stroke="#000" stroke-width="0.8" />
<line x1="350.84999999999997" y1="313.47499999999997" x2="353.05" y2="313.47499999999997" stroke="#000" stroke-width="0.8" />
<line x1="356.34999999999997" y1="334.19374999999997" x2="356.34999999999997" y2="336.61625" stroke="#000" stroke-width="0.8" />
<line x1="355.24999999999994" y1="334.19374999999997" x2="357.45" y2="334.19374999999997" stroke="#000" stroke-width="0.8" />
<line x1="355.24999999999994" y1="336.61625" x2="357.45" y2="336.61625" stroke="#000" stroke-width="0.8" />
<line x1="353.9" y1="353" x2="353.9" y2="355.4" stroke="#000" stroke-width="0.9" />
<line x1="310.1" y1="299.6" x2="310.1" y2="353.6" stroke="#000" stroke-width="1.1" />
<line x1="309.6" y1="353" x2="361" y2="353" stroke="#000" stroke-width="1.2" />
<line x1="307.4" y1="353.0" x2="310.1" y2="353.0" stroke="#000" stroke-width="0.9" />
<text x="300.75" y="354.80" font-size="5.2" fill="#222" textLength="2.84" lengthAdjust="spacingAndGlyphs" >0</text>
<line x1="307.4" y1="340.25" x2="310.1" y2="340.25" stroke="#000" stroke-width="0.9" />
<text x="297.95" y="342.05" font-size="5.2" fill="#222" textLength="5.64" lengthAdjust="spacingAndGlyphs" >20</text>
<line x1="307.4" y1="327.5" x2="310.1" y2="327.5" stroke="#000" stroke-width="0.9" />
<text x="298.10" y="329.30" font-size="5.2" fill="#222" textLength="5.48" lengthAdjust="spacingAndGlyphs" >40</text>
<line x1="307.4" y1="314.75" x2="310.1" y2="314.75" stroke="#000" stroke-width="0.9" />
<text x="297.95" y="316.55" font-size="5.2" fill="#222" textLength="5.64" lengthAdjust="spacingAndGlyphs" >60</text>
<line x1="307.4" y1="302.0" x2="310.1" y2="302.0" stroke="#000" stroke-width="0.9" />
<text x="297.97" y="303.80" font-size="5.2" fill="#222" textLength="5.62" lengthAdjust="spacingAndGlyphs" >80</text>
<text x="343.75" y="312.2" font-size="6" text-anchor="middle" font-weight="normal" fill="#222" >*</text>
<text x="351.6" y="309.8" font-size="6" text-anchor="middle" font-weight="normal" fill="#222" >**</text>
<text transform="translate(285.30 353.60) rotate(-90)" x="-0.27" y="0" font-size="6.0" fill="#111" textLength="52.75" lengthAdjust="spacingAndGlyphs" stroke="#111" stroke-width="0.25" >Cells with ≥10 nuclear</text>
<text transform="translate(292.30 354.20) rotate(-90)" x="-0.03" y="0" font-size="6.0" fill="#111" textLength="54.35" lengthAdjust="spacingAndGlyphs" stroke="#111" stroke-width="0.25" >γH2AX/RAD51 foci (%)</text>
<text x="317.79999999999995" y="358.2" font-size="5.7" text-anchor="end" font-weight="normal" fill="#222" transform="rotate(-45 317.79999999999995 358.2)" >shCONTROL</text>
<text x="330.29999999999995" y="358.2" font-size="5.7" text-anchor="end" font-weight="normal" fill="#222" transform="rotate(-45 330.29999999999995 358.2)" >shUBE2T</text>
<text x="343.09999999999997" y="358.2" font-size="5.7" text-anchor="end" font-weight="normal" fill="#222" transform="rotate(-45 343.09999999999997 358.2)" >shCOTROL+CPT</text>
<text x="355.79999999999995" y="358.2" font-size="5.7" text-anchor="end" font-weight="normal" fill="#222" transform="rotate(-45 355.79999999999995 358.2)" >shUBE2T+CPT</text>
<text x="440.19" y="153.80" font-size="7.2" fill="#222" textLength="23.96" lengthAdjust="spacingAndGlyphs" >MM.1S</text>
<text x="420.52" y="161.80" font-size="4.9" fill="#222" textLength="11.09" lengthAdjust="spacingAndGlyphs" >CPT</text>
<rect x="438.4" y="160.39999999999998" width="2.0" height="0.6" fill="#333" />
<rect x="448.5" y="160.39999999999998" width="2.0" height="0.6" fill="#333" />
<rect x="459.75" y="160.39999999999998" width="2.1" height="0.6" fill="#222" />
<rect x="460.5" y="159.64999999999998" width="0.6" height="2.1" fill="#222" />
<rect x="469.95" y="160.39999999999998" width="2.1" height="0.6" fill="#222" />
<rect x="470.7" y="159.64999999999998" width="0.6" height="2.1" fill="#222" />
<text x="409.85" y="170.00" font-size="4.9" fill="#222" textLength="21.75" lengthAdjust="spacingAndGlyphs" >shUBE2T</text>
<rect x="438.4" y="168.29999999999998" width="2.0" height="0.6" fill="#333" />
<rect x="448.45" y="168.29999999999998" width="2.1" height="0.6" fill="#222" />
<rect x="449.2" y="167.54999999999998" width="0.6" height="2.1" fill="#222" />
<rect x="459.8" y="168.29999999999998" width="2.0" height="0.6" fill="#333" />
<rect x="469.95" y="168.29999999999998" width="2.1" height="0.6" fill="#222" />
<rect x="470.7" y="167.54999999999998" width="0.6" height="2.1" fill="#222" />
<text x="402.65" y="177.40" font-size="4.9" fill="#222" textLength="30.61" lengthAdjust="spacingAndGlyphs" >shCONTROL</text>
<rect x="438.34999999999997" y="175.89999999999998" width="2.1" height="0.6" fill="#222" />
<rect x="439.09999999999997" y="175.14999999999998" width="0.6" height="2.1" fill="#222" />
<rect x="448.5" y="175.89999999999998" width="2.0" height="0.6" fill="#333" />
<rect x="459.75" y="175.89999999999998" width="2.1" height="0.6" fill="#222" />
<rect x="460.5" y="175.14999999999998" width="0.6" height="2.1" fill="#222" />
<rect x="470.0" y="175.89999999999998" width="2.0" height="0.6" fill="#333" />
<rect x="432.4" y="181.1" width="45.6" height="7.2" fill="#8e8e8e" />
<rect x="432.4" y="190" width="45.6" height="10.3" fill="#686868" />
<rect x="432.4" y="202.4" width="45.6" height="7.6" fill="#888888" />
<g filter="url(#bl2)">
<rect x="433.20" y="183.00" width="8.40" height="2.60" rx="1.30" fill="#0a0a0a" fill-opacity="0.95"/>
<rect x="444.50" y="183.60" width="8.40" height="1.80" rx="0.90" fill="#0a0a0a" fill-opacity="0.35"/>
<rect x="455.80" y="182.20" width="9.30" height="4.60" rx="2.30" fill="#0a0a0a" fill-opacity="1.0"/>
<rect x="467.00" y="183.40" width="9.00" height="2.20" rx="1.10" fill="#0a0a0a" fill-opacity="0.55"/>
<rect x="433.00" y="192.60" width="9.50" height="3.80" rx="1.90" fill="#111" fill-opacity="1.0"/>
<rect x="444.30" y="192.60" width="9.50" height="3.80" rx="1.90" fill="#111" fill-opacity="1.0"/>
<rect x="455.60" y="192.60" width="9.50" height="3.80" rx="1.90" fill="#111" fill-opacity="1.0"/>
<rect x="466.80" y="192.90" width="10.00" height="4.40" rx="2.20" fill="#111" fill-opacity="1.0"/>
<rect x="434.00" y="205.60" width="7.00" height="1.00" rx="0.50" fill="#0a0a0a" fill-opacity="0.25"/>
<rect x="445.00" y="205.60" width="7.00" height="1.00" rx="0.50" fill="#0a0a0a" fill-opacity="0.3"/>
<rect x="456.00" y="205.00" width="8.50" height="1.30" rx="0.65" fill="#0a0a0a" fill-opacity="0.55"/>
<rect x="467.00" y="204.30" width="9.50" height="1.60" rx="0.80" fill="#0a0a0a" fill-opacity="0.75"/>
</g>
<text x="480.26" y="187.30" font-size="5.3" fill="#222" textLength="19.21" lengthAdjust="spacingAndGlyphs" >pRPA32</text>
<text x="480.18" y="195.90" font-size="5.3" fill="#222" textLength="16.18" lengthAdjust="spacingAndGlyphs" >RPA32</text>
<text x="480.57" y="207.10" font-size="5.3" fill="#222" textLength="15.64" lengthAdjust="spacingAndGlyphs" >γH2AX</text>
<text x="443.79" y="220.40" font-size="7.2" fill="#222" textLength="22.43" lengthAdjust="spacingAndGlyphs" >shRNA</text>
<line x1="446.5" y1="221.9" x2="462" y2="221.9" stroke="#555" stroke-width="0.8" />
<text x="434.23" y="228.60" font-size="5.6" fill="#222" textLength="17.23" lengthAdjust="spacingAndGlyphs" >Control</text>
<text x="459.60" y="228.60" font-size="5.6" fill="#222" textLength="17.02" lengthAdjust="spacingAndGlyphs" >UBE2T</text>
<rect x="443" y="232.8" width="27.3" height="13.4" fill="#a6a6a6" />
<rect x="443" y="248.2" width="27.3" height="11.4" fill="#a6a6a6" />
<rect x="444" y="233.3" width="8" height="1.2" fill="#c0c0c0" />
<g filter="url(#bl2)">
<path d="M444.6,245 Q447.5,241 454.6,240.2" stroke="#050505" stroke-width="2.3" fill="none" stroke-linecap="round"/>
<path d="M458.2,239.6 Q462,237.3 469.2,236" stroke="#222" stroke-width="1.2" fill="none" stroke-linecap="round"/>
<path d="M444.8,257.4 Q449,255.5 455.6,253.6" stroke="#000" stroke-width="2.6" fill="none" stroke-linecap="round"/>
<path d="M457.2,254.6 Q462,252.2 468.6,250.4" stroke="#000" stroke-width="2.5" fill="none" stroke-linecap="round"/>
</g>
<text x="473.40" y="240.90" font-size="5.7" fill="#222" textLength="17.02" lengthAdjust="spacingAndGlyphs" >UBE2T</text>
<text x="473.45" y="256.50" font-size="5.7" fill="#222" textLength="19.78" lengthAdjust="spacingAndGlyphs" >β-ACTIN</text>
<text x="446.83" y="279.10" font-size="7.2" fill="#222" textLength="18.07" lengthAdjust="spacingAndGlyphs" >U266</text>
<text x="421.23" y="287.20" font-size="4.9" fill="#222" textLength="10.67" lengthAdjust="spacingAndGlyphs" >CPT</text>
<rect x="438.7" y="285.9" width="2.0" height="0.6" fill="#333" />
<rect x="449.0" y="285.9" width="2.0" height="0.6" fill="#333" />
<rect x="459.95" y="285.9" width="2.1" height="0.6" fill="#222" />
<rect x="460.7" y="285.15" width="0.6" height="2.1" fill="#222" />
<rect x="469.95" y="285.9" width="2.1" height="0.6" fill="#222" />
<rect x="470.7" y="285.15" width="0.6" height="2.1" fill="#222" />
<text x="410.35" y="295.70" font-size="4.9" fill="#222" textLength="21.55" lengthAdjust="spacingAndGlyphs" >shUBE2T</text>
<rect x="438.7" y="294.2" width="2.0" height="0.6" fill="#333" />
<rect x="448.95" y="294.2" width="2.1" height="0.6" fill="#222" />
<rect x="449.7" y="293.45" width="0.6" height="2.1" fill="#222" />
<rect x="460.0" y="294.2" width="2.0" height="0.6" fill="#333" />
<rect x="469.95" y="294.2" width="2.1" height="0.6" fill="#222" />
<rect x="470.7" y="293.45" width="0.6" height="2.1" fill="#222" />
<text x="402.95" y="304.60" font-size="4.9" fill="#222" textLength="30.71" lengthAdjust="spacingAndGlyphs" >shCONTROL</text>
<rect x="438.65" y="303.09999999999997" width="2.1" height="0.6" fill="#222" />
<rect x="439.4" y="302.34999999999997" width="0.6" height="2.1" fill="#222" />
<rect x="449.0" y="303.09999999999997" width="2.0" height="0.6" fill="#333" />
<rect x="459.95" y="303.09999999999997" width="2.1" height="0.6" fill="#222" />
<rect x="460.7" y="302.34999999999997" width="0.6" height="2.1" fill="#222" />
<rect x="470.0" y="303.09999999999997" width="2.0" height="0.6" fill="#333" />
<rect x="432.4" y="308.5" width="48.1" height="9.2" fill="#aaaaaa" />
<rect x="432.4" y="319" width="48.1" height="14.3" fill="#b0b0b0" />
<rect x="432.4" y="334.4" width="48.1" height="8.7" fill="#acacac" />
<rect x="432.4" y="344.7" width="48.1" height="7.9" fill="#aeaeae" />
<rect x="432.4" y="353.9" width="48.1" height="10.6" fill="#a8a8a8" />
<g filter="url(#bl2)">
<rect x="435.00" y="314.60" width="6.00" height="1.20" rx="0.60" fill="#0a0a0a" fill-opacity="0.35"/>
<rect x="458.00" y="314.20" width="6.00" height="1.20" rx="0.60" fill="#0a0a0a" fill-opacity="0.3"/>
<rect x="470.00" y="312.40" width="5.00" height="1.00" rx="0.50" fill="#0a0a0a" fill-opacity="0.15"/>
<rect x="432.90" y="323.30" width="9.80" height="7.90" rx="3.00" fill="#050505" fill-opacity="1.0"/>
<rect x="445.00" y="325.60" width="8.80" height="5.60" rx="2.50" fill="#050505" fill-opacity="1.0"/>
<rect x="457.30" y="320.90" width="10.00" height="11.10" rx="3.50" fill="#050505" fill-opacity="1.0"/>
<rect x="469.70" y="322.50" width="8.70" height="3.10" rx="1.50" fill="#111" fill-opacity="0.9"/>
<rect x="469.70" y="326.40" width="8.70" height="4.80" rx="2.20" fill="#050505" fill-opacity="1.0"/>
<rect x="434.50" y="337.60" width="6.50" height="1.60" rx="0.80" fill="#0a0a0a" fill-opacity="0.3"/>
<rect x="457.80" y="337.20" width="8.00" height="2.00" rx="1.00" fill="#0a0a0a" fill-opacity="0.45"/>
<rect x="470.00" y="337.60" width="7.50" height="1.80" rx="0.90" fill="#0a0a0a" fill-opacity="0.4"/>
<rect x="433.20" y="346.00" width="9.50" height="2.80" rx="1.30" fill="#050505" fill-opacity="1.0"/>
<rect x="457.30" y="346.60" width="8.40" height="2.80" rx="1.30" fill="#050505" fill-opacity="1.0"/>
<rect x="446.00" y="347.50" width="7.00" height="1.20" rx="0.60" fill="#0a0a0a" fill-opacity="0.12"/>
<rect x="470.00" y="347.50" width="7.00" height="1.20" rx="0.60" fill="#0a0a0a" fill-opacity="0.12"/>
<rect x="432.90" y="355.80" width="9.80" height="6.30" rx="2.50" fill="#050505" fill-opacity="1.0"/>
<rect x="445.00" y="357.00" width="8.50" height="4.30" rx="2.00" fill="#050505" fill-opacity="1.0"/>
<rect x="457.30" y="356.60" width="10.00" height="6.40" rx="2.50" fill="#050505" fill-opacity="1.0"/>
<rect x="470.50" y="356.80" width="8.00" height="5.30" rx="2.30" fill="#050505" fill-opacity="1.0"/>
</g>
<text x="482.87" y="315.80" font-size="5.3" fill="#222" textLength="18.79" lengthAdjust="spacingAndGlyphs" >pRPA32</text>
<text x="482.77" y="328.00" font-size="5.3" fill="#222" textLength="16.49" lengthAdjust="spacingAndGlyphs" >RPA32</text>
<text x="483.17" y="339.90" font-size="5.3" fill="#222" textLength="17.53" lengthAdjust="spacingAndGlyphs" >γ-H2AX</text>
<text x="482.86" y="351.80" font-size="5.3" fill="#222" textLength="14.75" lengthAdjust="spacingAndGlyphs" >UBE2T</text>
<text x="483.20" y="362.10" font-size="5.3" fill="#222" textLength="15.51" lengthAdjust="spacingAndGlyphs" >ACTIN</text>
</svg></body></html>
